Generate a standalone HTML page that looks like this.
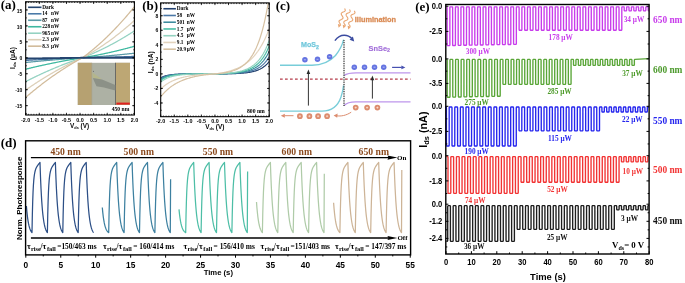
<!DOCTYPE html>
<html><head><meta charset="utf-8"><style>
html,body{margin:0;padding:0;background:#fff;}
svg{display:block;filter:blur(0.3px);}
</style></head><body>
<svg width="685" height="283" viewBox="0 0 685 283">
<defs>
<clipPath id="clipa"><rect x="25.7" y="1.8" width="108.7" height="113.2"/></clipPath>
<clipPath id="clipb"><rect x="160.7" y="2.9" width="108.5" height="113.8"/></clipPath>
</defs>
<rect width="685" height="283" fill="#fff"/>
<rect x="77.80" y="62.80" width="52.20" height="42.20" fill="#adb1a4" />
<rect x="77.80" y="62.80" width="13.90" height="42.20" fill="#b6a171" />
<rect x="115.40" y="62.80" width="14.60" height="42.20" fill="#bda774" />
<line x1="115.50" y1="62.80" x2="115.50" y2="105.00" stroke="#6a6a66" stroke-width="1.0"/>
<line x1="91.70" y1="62.80" x2="91.70" y2="105.00" stroke="#a89d80" stroke-width="0.6"/>
<polygon points="92.1,72.3 102,79.3 93,78.2" fill="#b4b68c"/>
<polygon points="93,78 102,79.4 115.3,85 115.3,90.5 104,87.6 96.5,86.2 93.6,80" fill="#8c9187"/>
<circle cx="93.5" cy="71.2" r="0.55" fill="#666"/>
<rect x="116.40" y="102.60" width="13.40" height="2.00" fill="#e02020" />
<text x="129.3" y="111.4" style="font-family:'Liberation Serif',serif;font-weight:bold;font-size:5.6px" text-anchor="end">450 nm</text>
<polyline points="25.70,60.42 26.38,60.38 27.06,60.34 27.74,60.30 28.42,60.26 29.10,60.22 29.78,60.19 30.46,60.15 31.13,60.11 31.81,60.08 32.49,60.04 33.17,60.00 33.85,59.97 34.53,59.93 35.21,59.89 35.89,59.86 36.57,59.82 37.25,59.78 37.93,59.75 38.61,59.71 39.29,59.68 39.97,59.64 40.65,59.61 41.33,59.57 42.01,59.54 42.68,59.50 43.36,59.47 44.04,59.44 44.72,59.40 45.40,59.37 46.08,59.34 46.76,59.30 47.44,59.27 48.12,59.24 48.80,59.20 49.48,59.17 50.16,59.14 50.84,59.11 51.52,59.07 52.20,59.04 52.88,59.01 53.55,58.98 54.23,58.95 54.91,58.92 55.59,58.89 56.27,58.85 56.95,58.82 57.63,58.79 58.31,58.76 58.99,58.73 59.67,58.70 60.35,58.67 61.03,58.64 61.71,58.61 62.39,58.58 63.07,58.56 63.75,58.53 64.42,58.50 65.10,58.47 65.78,58.44 66.46,58.41 67.14,58.38 67.82,58.36 68.50,58.33 69.18,58.30 69.86,58.27 70.54,58.25 71.22,58.22 71.90,58.19 72.58,58.17 73.26,58.14 73.94,58.11 74.61,58.09 75.29,58.06 75.97,58.03 76.65,58.01 77.33,57.98 78.01,57.96 78.69,57.93 79.37,57.91 80.05,57.88 80.73,57.86 81.41,57.83 82.09,57.81 82.77,57.79 83.45,57.78 84.13,57.76 84.81,57.75 85.48,57.74 86.16,57.72 86.84,57.71 87.52,57.69 88.20,57.68 88.88,57.66 89.56,57.65 90.24,57.63 90.92,57.62 91.60,57.60 92.28,57.59 92.96,57.57 93.64,57.56 94.32,57.54 95.00,57.53 95.68,57.51 96.36,57.49 97.03,57.48 97.71,57.46 98.39,57.45 99.07,57.43 99.75,57.41 100.43,57.40 101.11,57.38 101.79,57.36 102.47,57.34 103.15,57.33 103.83,57.31 104.51,57.29 105.19,57.27 105.87,57.26 106.55,57.24 107.23,57.22 107.90,57.20 108.58,57.18 109.26,57.17 109.94,57.15 110.62,57.13 111.30,57.11 111.98,57.09 112.66,57.07 113.34,57.05 114.02,57.03 114.70,57.01 115.38,56.99 116.06,56.97 116.74,56.95 117.42,56.93 118.10,56.91 118.77,56.89 119.45,56.87 120.13,56.85 120.81,56.83 121.49,56.81 122.17,56.79 122.85,56.77 123.53,56.75 124.21,56.73 124.89,56.71 125.57,56.69 126.25,56.66 126.93,56.64 127.61,56.62 128.29,56.60 128.97,56.58 129.64,56.55 130.32,56.53 131.00,56.51 131.68,56.49 132.36,56.47 133.04,56.44 133.72,56.42 134.40,56.40" fill="none" stroke="#4a7aa8" stroke-width="1.25" stroke-linejoin="round" clip-path="url(#clipa)"/>
<polyline points="25.70,62.49 26.38,62.42 27.06,62.35 27.74,62.28 28.42,62.21 29.10,62.15 29.78,62.08 30.46,62.01 31.13,61.95 31.81,61.88 32.49,61.81 33.17,61.75 33.85,61.68 34.53,61.62 35.21,61.55 35.89,61.49 36.57,61.42 37.25,61.36 37.93,61.29 38.61,61.23 39.29,61.17 39.97,61.10 40.65,61.04 41.33,60.98 42.01,60.92 42.68,60.86 43.36,60.80 44.04,60.73 44.72,60.67 45.40,60.61 46.08,60.55 46.76,60.49 47.44,60.43 48.12,60.38 48.80,60.32 49.48,60.26 50.16,60.20 50.84,60.14 51.52,60.08 52.20,60.03 52.88,59.97 53.55,59.91 54.23,59.86 54.91,59.80 55.59,59.75 56.27,59.69 56.95,59.64 57.63,59.58 58.31,59.53 58.99,59.47 59.67,59.42 60.35,59.36 61.03,59.31 61.71,59.26 62.39,59.21 63.07,59.15 63.75,59.10 64.42,59.05 65.10,59.00 65.78,58.95 66.46,58.90 67.14,58.85 67.82,58.80 68.50,58.75 69.18,58.70 69.86,58.65 70.54,58.60 71.22,58.55 71.90,58.50 72.58,58.46 73.26,58.41 73.94,58.36 74.61,58.31 75.29,58.27 75.97,58.22 76.65,58.17 77.33,58.13 78.01,58.08 78.69,58.04 79.37,57.99 80.05,57.95 80.73,57.90 81.41,57.86 82.09,57.82 82.77,57.77 83.45,57.73 84.13,57.68 84.81,57.64 85.48,57.59 86.16,57.54 86.84,57.50 87.52,57.45 88.20,57.40 88.88,57.35 89.56,57.31 90.24,57.26 90.92,57.21 91.60,57.16 92.28,57.11 92.96,57.06 93.64,57.01 94.32,56.96 95.00,56.90 95.68,56.85 96.36,56.80 97.03,56.75 97.71,56.69 98.39,56.64 99.07,56.58 99.75,56.53 100.43,56.47 101.11,56.42 101.79,56.36 102.47,56.31 103.15,56.25 103.83,56.19 104.51,56.14 105.19,56.08 105.87,56.02 106.55,55.96 107.23,55.90 107.90,55.84 108.58,55.78 109.26,55.72 109.94,55.66 110.62,55.60 111.30,55.54 111.98,55.48 112.66,55.42 113.34,55.35 114.02,55.29 114.70,55.23 115.38,55.16 116.06,55.10 116.74,55.03 117.42,54.97 118.10,54.90 118.77,54.84 119.45,54.77 120.13,54.70 120.81,54.64 121.49,54.57 122.17,54.50 122.85,54.43 123.53,54.36 124.21,54.29 124.89,54.22 125.57,54.15 126.25,54.08 126.93,54.01 127.61,53.94 128.29,53.87 128.97,53.80 129.64,53.73 130.32,53.65 131.00,53.58 131.68,53.51 132.36,53.43 133.04,53.36 133.72,53.28 134.40,53.21" fill="none" stroke="#5a9aa8" stroke-width="1.25" stroke-linejoin="round" clip-path="url(#clipa)"/>
<polyline points="25.70,69.19 26.38,69.02 27.06,68.85 27.74,68.69 28.42,68.52 29.10,68.36 29.78,68.19 30.46,68.03 31.13,67.87 31.81,67.71 32.49,67.55 33.17,67.39 33.85,67.23 34.53,67.07 35.21,66.91 35.89,66.75 36.57,66.60 37.25,66.44 37.93,66.29 38.61,66.13 39.29,65.98 39.97,65.83 40.65,65.67 41.33,65.52 42.01,65.37 42.68,65.22 43.36,65.07 44.04,64.93 44.72,64.78 45.40,64.63 46.08,64.49 46.76,64.34 47.44,64.20 48.12,64.05 48.80,63.91 49.48,63.77 50.16,63.63 50.84,63.49 51.52,63.35 52.20,63.21 52.88,63.07 53.55,62.93 54.23,62.80 54.91,62.66 55.59,62.53 56.27,62.39 56.95,62.26 57.63,62.12 58.31,61.99 58.99,61.86 59.67,61.73 60.35,61.60 61.03,61.47 61.71,61.34 62.39,61.21 63.07,61.09 63.75,60.96 64.42,60.84 65.10,60.71 65.78,60.59 66.46,60.46 67.14,60.34 67.82,60.22 68.50,60.10 69.18,59.98 69.86,59.86 70.54,59.74 71.22,59.62 71.90,59.51 72.58,59.39 73.26,59.28 73.94,59.16 74.61,59.05 75.29,58.93 75.97,58.82 76.65,58.71 77.33,58.60 78.01,58.49 78.69,58.38 79.37,58.27 80.05,58.16 80.73,58.05 81.41,57.95 82.09,57.84 82.77,57.73 83.45,57.62 84.13,57.51 84.81,57.39 85.48,57.28 86.16,57.16 86.84,57.04 87.52,56.92 88.20,56.80 88.88,56.68 89.56,56.56 90.24,56.44 90.92,56.32 91.60,56.19 92.28,56.07 92.96,55.94 93.64,55.81 94.32,55.68 95.00,55.55 95.68,55.42 96.36,55.29 97.03,55.16 97.71,55.02 98.39,54.89 99.07,54.75 99.75,54.62 100.43,54.48 101.11,54.34 101.79,54.20 102.47,54.06 103.15,53.92 103.83,53.77 104.51,53.63 105.19,53.48 105.87,53.34 106.55,53.19 107.23,53.04 107.90,52.89 108.58,52.74 109.26,52.59 109.94,52.44 110.62,52.29 111.30,52.13 111.98,51.98 112.66,51.82 113.34,51.66 114.02,51.51 114.70,51.35 115.38,51.19 116.06,51.02 116.74,50.86 117.42,50.70 118.10,50.53 118.77,50.37 119.45,50.20 120.13,50.04 120.81,49.87 121.49,49.70 122.17,49.53 122.85,49.36 123.53,49.18 124.21,49.01 124.89,48.83 125.57,48.66 126.25,48.48 126.93,48.30 127.61,48.13 128.29,47.95 128.97,47.77 129.64,47.58 130.32,47.40 131.00,47.22 131.68,47.03 132.36,46.85 133.04,46.66 133.72,46.47 134.40,46.28" fill="none" stroke="#3db8a0" stroke-width="1.25" stroke-linejoin="round" clip-path="url(#clipa)"/>
<polyline points="25.70,81.60 26.38,81.25 27.06,80.90 27.74,80.55 28.42,80.21 29.10,79.86 29.78,79.52 30.46,79.18 31.13,78.84 31.81,78.50 32.49,78.16 33.17,77.83 33.85,77.50 34.53,77.17 35.21,76.84 35.89,76.51 36.57,76.18 37.25,75.86 37.93,75.53 38.61,75.21 39.29,74.89 39.97,74.57 40.65,74.25 41.33,73.94 42.01,73.62 42.68,73.31 43.36,73.00 44.04,72.69 44.72,72.38 45.40,72.08 46.08,71.77 46.76,71.47 47.44,71.17 48.12,70.87 48.80,70.57 49.48,70.27 50.16,69.98 50.84,69.68 51.52,69.39 52.20,69.10 52.88,68.81 53.55,68.53 54.23,68.24 54.91,67.96 55.59,67.67 56.27,67.39 56.95,67.11 57.63,66.84 58.31,66.56 58.99,66.28 59.67,66.01 60.35,65.74 61.03,65.47 61.71,65.20 62.39,64.94 63.07,64.67 63.75,64.41 64.42,64.14 65.10,63.88 65.78,63.63 66.46,63.37 67.14,63.11 67.82,62.86 68.50,62.61 69.18,62.36 69.86,62.11 70.54,61.86 71.22,61.61 71.90,61.37 72.58,61.12 73.26,60.88 73.94,60.64 74.61,60.40 75.29,60.17 75.97,59.93 76.65,59.70 77.33,59.47 78.01,59.24 78.69,59.01 79.37,58.78 80.05,58.56 80.73,58.33 81.41,58.11 82.09,57.89 82.77,57.64 83.45,57.38 84.13,57.12 84.81,56.85 85.48,56.58 86.16,56.31 86.84,56.03 87.52,55.75 88.20,55.48 88.88,55.19 89.56,54.91 90.24,54.62 90.92,54.33 91.60,54.04 92.28,53.75 92.96,53.45 93.64,53.16 94.32,52.86 95.00,52.55 95.68,52.25 96.36,51.94 97.03,51.63 97.71,51.32 98.39,51.00 99.07,50.68 99.75,50.36 100.43,50.04 101.11,49.72 101.79,49.39 102.47,49.06 103.15,48.73 103.83,48.40 104.51,48.06 105.19,47.72 105.87,47.38 106.55,47.04 107.23,46.69 107.90,46.34 108.58,45.99 109.26,45.64 109.94,45.28 110.62,44.93 111.30,44.57 111.98,44.20 112.66,43.84 113.34,43.47 114.02,43.10 114.70,42.73 115.38,42.36 116.06,41.98 116.74,41.60 117.42,41.22 118.10,40.83 118.77,40.45 119.45,40.06 120.13,39.67 120.81,39.27 121.49,38.88 122.17,38.48 122.85,38.08 123.53,37.68 124.21,37.27 124.89,36.86 125.57,36.45 126.25,36.04 126.93,35.63 127.61,35.21 128.29,34.79 128.97,34.37 129.64,33.94 130.32,33.52 131.00,33.09 131.68,32.66 132.36,32.22 133.04,31.79 133.72,31.35 134.40,30.91" fill="none" stroke="#94d2c2" stroke-width="1.25" stroke-linejoin="round" clip-path="url(#clipa)"/>
<polyline points="25.70,90.02 26.38,89.54 27.06,89.07 27.74,88.60 28.42,88.13 29.10,87.67 29.78,87.20 30.46,86.74 31.13,86.28 31.81,85.83 32.49,85.37 33.17,84.92 33.85,84.47 34.53,84.02 35.21,83.57 35.89,83.13 36.57,82.69 37.25,82.24 37.93,81.81 38.61,81.37 39.29,80.94 39.97,80.51 40.65,80.08 41.33,79.65 42.01,79.22 42.68,78.80 43.36,78.38 44.04,77.96 44.72,77.54 45.40,77.13 46.08,76.72 46.76,76.31 47.44,75.90 48.12,75.49 48.80,75.09 49.48,74.69 50.16,74.29 50.84,73.89 51.52,73.49 52.20,73.10 52.88,72.71 53.55,72.32 54.23,71.93 54.91,71.55 55.59,71.17 56.27,70.79 56.95,70.41 57.63,70.03 58.31,69.66 58.99,69.29 59.67,68.92 60.35,68.55 61.03,68.19 61.71,67.82 62.39,67.46 63.07,67.10 63.75,66.74 64.42,66.39 65.10,66.04 65.78,65.69 66.46,65.34 67.14,64.99 67.82,64.65 68.50,64.31 69.18,63.97 69.86,63.63 70.54,63.29 71.22,62.96 71.90,62.63 72.58,62.30 73.26,61.97 73.94,61.65 74.61,61.33 75.29,61.01 75.97,60.69 76.65,60.37 77.33,60.06 78.01,59.75 78.69,59.44 79.37,59.13 80.05,58.82 80.73,58.52 81.41,58.22 82.09,57.92 82.77,57.58 83.45,57.22 84.13,56.85 84.81,56.48 85.48,56.10 86.16,55.73 86.84,55.35 87.52,54.96 88.20,54.57 88.88,54.18 89.56,53.79 90.24,53.39 90.92,52.99 91.60,52.59 92.28,52.18 92.96,51.77 93.64,51.35 94.32,50.94 95.00,50.52 95.68,50.09 96.36,49.67 97.03,49.23 97.71,48.80 98.39,48.36 99.07,47.92 99.75,47.48 100.43,47.03 101.11,46.58 101.79,46.13 102.47,45.67 103.15,45.21 103.83,44.75 104.51,44.28 105.19,43.81 105.87,43.34 106.55,42.86 107.23,42.38 107.90,41.90 108.58,41.41 109.26,40.92 109.94,40.43 110.62,39.93 111.30,39.43 111.98,38.93 112.66,38.42 113.34,37.91 114.02,37.40 114.70,36.88 115.38,36.36 116.06,35.84 116.74,35.31 117.42,34.79 118.10,34.25 118.77,33.72 119.45,33.18 120.13,32.63 120.81,32.09 121.49,31.54 122.17,30.99 122.85,30.43 123.53,29.87 124.21,29.31 124.89,28.74 125.57,28.17 126.25,27.60 126.93,27.03 127.61,26.45 128.29,25.87 128.97,25.28 129.64,24.69 130.32,24.10 131.00,23.50 131.68,22.90 132.36,22.30 133.04,21.70 133.72,21.09 134.40,20.48" fill="none" stroke="#dccfb8" stroke-width="1.25" stroke-linejoin="round" clip-path="url(#clipa)"/>
<polyline points="25.70,97.36 26.38,96.77 27.06,96.19 27.74,95.62 28.42,95.04 29.10,94.47 29.78,93.90 30.46,93.33 31.13,92.77 31.81,92.21 32.49,91.65 33.17,91.09 33.85,90.54 34.53,89.99 35.21,89.44 35.89,88.90 36.57,88.35 37.25,87.81 37.93,87.27 38.61,86.74 39.29,86.21 39.97,85.68 40.65,85.15 41.33,84.62 42.01,84.10 42.68,83.58 43.36,83.07 44.04,82.55 44.72,82.04 45.40,81.53 46.08,81.02 46.76,80.52 47.44,80.02 48.12,79.52 48.80,79.03 49.48,78.53 50.16,78.04 50.84,77.55 51.52,77.07 52.20,76.59 52.88,76.11 53.55,75.63 54.23,75.15 54.91,74.68 55.59,74.21 56.27,73.75 56.95,73.28 57.63,72.82 58.31,72.36 58.99,71.90 59.67,71.45 60.35,71.00 61.03,70.55 61.71,70.10 62.39,69.66 63.07,69.22 63.75,68.78 64.42,68.35 65.10,67.91 65.78,67.48 66.46,67.06 67.14,66.63 67.82,66.21 68.50,65.79 69.18,65.37 69.86,64.96 70.54,64.55 71.22,64.14 71.90,63.73 72.58,63.33 73.26,62.92 73.94,62.53 74.61,62.13 75.29,61.74 75.97,61.35 76.65,60.96 77.33,60.57 78.01,60.19 78.69,59.81 79.37,59.43 80.05,59.06 80.73,58.68 81.41,58.31 82.09,57.95 82.77,57.50 83.45,57.00 84.13,56.50 84.81,55.99 85.48,55.48 86.16,54.97 86.84,54.44 87.52,53.92 88.20,53.39 88.88,52.85 89.56,52.31 90.24,51.77 90.92,51.22 91.60,50.67 92.28,50.11 92.96,49.55 93.64,48.99 94.32,48.41 95.00,47.84 95.68,47.26 96.36,46.68 97.03,46.09 97.71,45.49 98.39,44.90 99.07,44.29 99.75,43.69 100.43,43.08 101.11,42.46 101.79,41.84 102.47,41.21 103.15,40.59 103.83,39.95 104.51,39.31 105.19,38.67 105.87,38.02 106.55,37.37 107.23,36.71 107.90,36.05 108.58,35.39 109.26,34.72 109.94,34.04 110.62,33.36 111.30,32.68 111.98,31.99 112.66,31.30 113.34,30.60 114.02,29.90 114.70,29.20 115.38,28.49 116.06,27.77 116.74,27.05 117.42,26.33 118.10,25.60 118.77,24.87 119.45,24.13 120.13,23.39 120.81,22.64 121.49,21.89 122.17,21.13 122.85,20.37 123.53,19.61 124.21,18.84 124.89,18.06 125.57,17.29 126.25,16.50 126.93,15.72 127.61,14.93 128.29,14.13 128.97,13.33 129.64,12.52 130.32,11.71 131.00,10.90 131.68,10.08 132.36,9.26 133.04,8.43 133.72,7.60 134.40,6.76" fill="none" stroke="#d2bc9c" stroke-width="1.25" stroke-linejoin="round" clip-path="url(#clipa)"/>
<polyline points="25.70,58.60 26.38,58.59 27.06,58.57 27.74,58.56 28.42,58.55 29.10,58.54 29.78,58.53 30.46,58.52 31.13,58.51 31.81,58.49 32.49,58.48 33.17,58.47 33.85,58.46 34.53,58.45 35.21,58.44 35.89,58.43 36.57,58.42 37.25,58.41 37.93,58.39 38.61,58.38 39.29,58.37 39.97,58.36 40.65,58.35 41.33,58.34 42.01,58.33 42.68,58.32 43.36,58.31 44.04,58.30 44.72,58.29 45.40,58.28 46.08,58.27 46.76,58.26 47.44,58.25 48.12,58.24 48.80,58.23 49.48,58.22 50.16,58.21 50.84,58.20 51.52,58.19 52.20,58.18 52.88,58.17 53.55,58.16 54.23,58.15 54.91,58.14 55.59,58.13 56.27,58.12 56.95,58.11 57.63,58.10 58.31,58.09 58.99,58.08 59.67,58.08 60.35,58.07 61.03,58.06 61.71,58.05 62.39,58.04 63.07,58.03 63.75,58.02 64.42,58.01 65.10,58.00 65.78,58.00 66.46,57.99 67.14,57.98 67.82,57.97 68.50,57.96 69.18,57.95 69.86,57.94 70.54,57.94 71.22,57.93 71.90,57.92 72.58,57.91 73.26,57.90 73.94,57.90 74.61,57.89 75.29,57.88 75.97,57.87 76.65,57.86 77.33,57.86 78.01,57.85 78.69,57.84 79.37,57.83 80.05,57.83 80.73,57.82 81.41,57.81 82.09,57.80 82.77,57.80 83.45,57.80 84.13,57.80 84.81,57.80 85.48,57.80 86.16,57.80 86.84,57.80 87.52,57.80 88.20,57.80 88.88,57.80 89.56,57.80 90.24,57.80 90.92,57.80 91.60,57.80 92.28,57.80 92.96,57.80 93.64,57.80 94.32,57.80 95.00,57.80 95.68,57.80 96.36,57.80 97.03,57.80 97.71,57.80 98.39,57.80 99.07,57.80 99.75,57.80 100.43,57.80 101.11,57.80 101.79,57.80 102.47,57.80 103.15,57.80 103.83,57.80 104.51,57.80 105.19,57.80 105.87,57.80 106.55,57.80 107.23,57.80 107.90,57.80 108.58,57.80 109.26,57.80 109.94,57.80 110.62,57.80 111.30,57.80 111.98,57.80 112.66,57.80 113.34,57.80 114.02,57.80 114.70,57.80 115.38,57.80 116.06,57.80 116.74,57.80 117.42,57.80 118.10,57.80 118.77,57.80 119.45,57.80 120.13,57.80 120.81,57.80 121.49,57.80 122.17,57.80 122.85,57.80 123.53,57.80 124.21,57.80 124.89,57.80 125.57,57.80 126.25,57.80 126.93,57.80 127.61,57.80 128.29,57.80 128.97,57.80 129.64,57.80 130.32,57.80 131.00,57.80 131.68,57.80 132.36,57.80 133.04,57.80 133.72,57.80 134.40,57.80" fill="none" stroke="#24446f" stroke-width="1.9" stroke-linejoin="round" clip-path="url(#clipa)"/>
<line x1="28.10" y1="7.30" x2="41.50" y2="7.30" stroke="#24446f" stroke-width="1.6"/>
<text x="42.20" y="8.90" style="font-family:'Liberation Serif',serif;font-weight:bold;font-size:5.3px" text-anchor="start" fill="#000" >Dark</text>
<line x1="28.10" y1="13.78" x2="41.50" y2="13.78" stroke="#4a7aa8" stroke-width="1.6"/>
<text x="42.20" y="15.38" style="font-family:'Liberation Serif',serif;font-weight:bold;font-size:5.3px" text-anchor="start" fill="#000" >14</text>
<text x="51.00" y="15.38" style="font-family:'Liberation Serif',serif;font-weight:bold;font-size:5.3px" text-anchor="start" fill="#000" >nW</text>
<line x1="28.10" y1="20.26" x2="41.50" y2="20.26" stroke="#5a9aa8" stroke-width="1.6"/>
<text x="42.20" y="21.86" style="font-family:'Liberation Serif',serif;font-weight:bold;font-size:5.3px" text-anchor="start" fill="#000" >87</text>
<text x="51.00" y="21.86" style="font-family:'Liberation Serif',serif;font-weight:bold;font-size:5.3px" text-anchor="start" fill="#000" >nW</text>
<line x1="28.10" y1="26.74" x2="41.50" y2="26.74" stroke="#3db8a0" stroke-width="1.6"/>
<text x="42.20" y="28.34" style="font-family:'Liberation Serif',serif;font-weight:bold;font-size:5.3px" text-anchor="start" fill="#000" >228</text>
<text x="51.00" y="28.34" style="font-family:'Liberation Serif',serif;font-weight:bold;font-size:5.3px" text-anchor="start" fill="#000" >nW</text>
<line x1="28.10" y1="33.22" x2="41.50" y2="33.22" stroke="#94d2c2" stroke-width="1.6"/>
<text x="42.20" y="34.82" style="font-family:'Liberation Serif',serif;font-weight:bold;font-size:5.3px" text-anchor="start" fill="#000" >965</text>
<text x="51.00" y="34.82" style="font-family:'Liberation Serif',serif;font-weight:bold;font-size:5.3px" text-anchor="start" fill="#000" >nW</text>
<line x1="28.10" y1="39.70" x2="41.50" y2="39.70" stroke="#dccfb8" stroke-width="1.6"/>
<text x="42.20" y="41.30" style="font-family:'Liberation Serif',serif;font-weight:bold;font-size:5.3px" text-anchor="start" fill="#000" >2.3</text>
<text x="51.00" y="41.30" style="font-family:'Liberation Serif',serif;font-weight:bold;font-size:5.3px" text-anchor="start" fill="#000" >&#956;W</text>
<line x1="28.10" y1="46.18" x2="41.50" y2="46.18" stroke="#d2bc9c" stroke-width="1.6"/>
<text x="42.20" y="47.78" style="font-family:'Liberation Serif',serif;font-weight:bold;font-size:5.3px" text-anchor="start" fill="#000" >8.3</text>
<text x="51.00" y="47.78" style="font-family:'Liberation Serif',serif;font-weight:bold;font-size:5.3px" text-anchor="start" fill="#000" >&#956;W</text>
<rect x="25.70" y="1.80" width="108.70" height="113.20" fill="none" stroke="#000" stroke-width="1.1"/>
<line x1="25.70" y1="115.00" x2="25.70" y2="112.80" stroke="#000" stroke-width="0.8"/>
<line x1="25.70" y1="1.80" x2="25.70" y2="4.00" stroke="#000" stroke-width="0.8"/>
<line x1="39.29" y1="115.00" x2="39.29" y2="112.80" stroke="#000" stroke-width="0.8"/>
<line x1="39.29" y1="1.80" x2="39.29" y2="4.00" stroke="#000" stroke-width="0.8"/>
<line x1="52.88" y1="115.00" x2="52.88" y2="112.80" stroke="#000" stroke-width="0.8"/>
<line x1="52.88" y1="1.80" x2="52.88" y2="4.00" stroke="#000" stroke-width="0.8"/>
<line x1="66.46" y1="115.00" x2="66.46" y2="112.80" stroke="#000" stroke-width="0.8"/>
<line x1="66.46" y1="1.80" x2="66.46" y2="4.00" stroke="#000" stroke-width="0.8"/>
<line x1="80.05" y1="115.00" x2="80.05" y2="112.80" stroke="#000" stroke-width="0.8"/>
<line x1="80.05" y1="1.80" x2="80.05" y2="4.00" stroke="#000" stroke-width="0.8"/>
<line x1="93.64" y1="115.00" x2="93.64" y2="112.80" stroke="#000" stroke-width="0.8"/>
<line x1="93.64" y1="1.80" x2="93.64" y2="4.00" stroke="#000" stroke-width="0.8"/>
<line x1="107.23" y1="115.00" x2="107.23" y2="112.80" stroke="#000" stroke-width="0.8"/>
<line x1="107.23" y1="1.80" x2="107.23" y2="4.00" stroke="#000" stroke-width="0.8"/>
<line x1="120.81" y1="115.00" x2="120.81" y2="112.80" stroke="#000" stroke-width="0.8"/>
<line x1="120.81" y1="1.80" x2="120.81" y2="4.00" stroke="#000" stroke-width="0.8"/>
<line x1="134.40" y1="115.00" x2="134.40" y2="112.80" stroke="#000" stroke-width="0.8"/>
<line x1="134.40" y1="1.80" x2="134.40" y2="4.00" stroke="#000" stroke-width="0.8"/>
<line x1="25.70" y1="115.00" x2="25.70" y2="113.80" stroke="#000" stroke-width="0.7"/>
<line x1="25.70" y1="1.80" x2="25.70" y2="3.00" stroke="#000" stroke-width="0.7"/>
<line x1="28.42" y1="115.00" x2="28.42" y2="113.80" stroke="#000" stroke-width="0.7"/>
<line x1="28.42" y1="1.80" x2="28.42" y2="3.00" stroke="#000" stroke-width="0.7"/>
<line x1="31.14" y1="115.00" x2="31.14" y2="113.80" stroke="#000" stroke-width="0.7"/>
<line x1="31.14" y1="1.80" x2="31.14" y2="3.00" stroke="#000" stroke-width="0.7"/>
<line x1="33.85" y1="115.00" x2="33.85" y2="113.80" stroke="#000" stroke-width="0.7"/>
<line x1="33.85" y1="1.80" x2="33.85" y2="3.00" stroke="#000" stroke-width="0.7"/>
<line x1="36.57" y1="115.00" x2="36.57" y2="113.80" stroke="#000" stroke-width="0.7"/>
<line x1="36.57" y1="1.80" x2="36.57" y2="3.00" stroke="#000" stroke-width="0.7"/>
<line x1="39.29" y1="115.00" x2="39.29" y2="113.80" stroke="#000" stroke-width="0.7"/>
<line x1="39.29" y1="1.80" x2="39.29" y2="3.00" stroke="#000" stroke-width="0.7"/>
<line x1="42.01" y1="115.00" x2="42.01" y2="113.80" stroke="#000" stroke-width="0.7"/>
<line x1="42.01" y1="1.80" x2="42.01" y2="3.00" stroke="#000" stroke-width="0.7"/>
<line x1="44.72" y1="115.00" x2="44.72" y2="113.80" stroke="#000" stroke-width="0.7"/>
<line x1="44.72" y1="1.80" x2="44.72" y2="3.00" stroke="#000" stroke-width="0.7"/>
<line x1="47.44" y1="115.00" x2="47.44" y2="113.80" stroke="#000" stroke-width="0.7"/>
<line x1="47.44" y1="1.80" x2="47.44" y2="3.00" stroke="#000" stroke-width="0.7"/>
<line x1="50.16" y1="115.00" x2="50.16" y2="113.80" stroke="#000" stroke-width="0.7"/>
<line x1="50.16" y1="1.80" x2="50.16" y2="3.00" stroke="#000" stroke-width="0.7"/>
<line x1="52.88" y1="115.00" x2="52.88" y2="113.80" stroke="#000" stroke-width="0.7"/>
<line x1="52.88" y1="1.80" x2="52.88" y2="3.00" stroke="#000" stroke-width="0.7"/>
<line x1="55.59" y1="115.00" x2="55.59" y2="113.80" stroke="#000" stroke-width="0.7"/>
<line x1="55.59" y1="1.80" x2="55.59" y2="3.00" stroke="#000" stroke-width="0.7"/>
<line x1="58.31" y1="115.00" x2="58.31" y2="113.80" stroke="#000" stroke-width="0.7"/>
<line x1="58.31" y1="1.80" x2="58.31" y2="3.00" stroke="#000" stroke-width="0.7"/>
<line x1="61.03" y1="115.00" x2="61.03" y2="113.80" stroke="#000" stroke-width="0.7"/>
<line x1="61.03" y1="1.80" x2="61.03" y2="3.00" stroke="#000" stroke-width="0.7"/>
<line x1="63.75" y1="115.00" x2="63.75" y2="113.80" stroke="#000" stroke-width="0.7"/>
<line x1="63.75" y1="1.80" x2="63.75" y2="3.00" stroke="#000" stroke-width="0.7"/>
<line x1="66.46" y1="115.00" x2="66.46" y2="113.80" stroke="#000" stroke-width="0.7"/>
<line x1="66.46" y1="1.80" x2="66.46" y2="3.00" stroke="#000" stroke-width="0.7"/>
<line x1="69.18" y1="115.00" x2="69.18" y2="113.80" stroke="#000" stroke-width="0.7"/>
<line x1="69.18" y1="1.80" x2="69.18" y2="3.00" stroke="#000" stroke-width="0.7"/>
<line x1="71.90" y1="115.00" x2="71.90" y2="113.80" stroke="#000" stroke-width="0.7"/>
<line x1="71.90" y1="1.80" x2="71.90" y2="3.00" stroke="#000" stroke-width="0.7"/>
<line x1="74.62" y1="115.00" x2="74.62" y2="113.80" stroke="#000" stroke-width="0.7"/>
<line x1="74.62" y1="1.80" x2="74.62" y2="3.00" stroke="#000" stroke-width="0.7"/>
<line x1="77.33" y1="115.00" x2="77.33" y2="113.80" stroke="#000" stroke-width="0.7"/>
<line x1="77.33" y1="1.80" x2="77.33" y2="3.00" stroke="#000" stroke-width="0.7"/>
<line x1="80.05" y1="115.00" x2="80.05" y2="113.80" stroke="#000" stroke-width="0.7"/>
<line x1="80.05" y1="1.80" x2="80.05" y2="3.00" stroke="#000" stroke-width="0.7"/>
<line x1="82.77" y1="115.00" x2="82.77" y2="113.80" stroke="#000" stroke-width="0.7"/>
<line x1="82.77" y1="1.80" x2="82.77" y2="3.00" stroke="#000" stroke-width="0.7"/>
<line x1="85.49" y1="115.00" x2="85.49" y2="113.80" stroke="#000" stroke-width="0.7"/>
<line x1="85.49" y1="1.80" x2="85.49" y2="3.00" stroke="#000" stroke-width="0.7"/>
<line x1="88.20" y1="115.00" x2="88.20" y2="113.80" stroke="#000" stroke-width="0.7"/>
<line x1="88.20" y1="1.80" x2="88.20" y2="3.00" stroke="#000" stroke-width="0.7"/>
<line x1="90.92" y1="115.00" x2="90.92" y2="113.80" stroke="#000" stroke-width="0.7"/>
<line x1="90.92" y1="1.80" x2="90.92" y2="3.00" stroke="#000" stroke-width="0.7"/>
<line x1="93.64" y1="115.00" x2="93.64" y2="113.80" stroke="#000" stroke-width="0.7"/>
<line x1="93.64" y1="1.80" x2="93.64" y2="3.00" stroke="#000" stroke-width="0.7"/>
<line x1="96.36" y1="115.00" x2="96.36" y2="113.80" stroke="#000" stroke-width="0.7"/>
<line x1="96.36" y1="1.80" x2="96.36" y2="3.00" stroke="#000" stroke-width="0.7"/>
<line x1="99.07" y1="115.00" x2="99.07" y2="113.80" stroke="#000" stroke-width="0.7"/>
<line x1="99.07" y1="1.80" x2="99.07" y2="3.00" stroke="#000" stroke-width="0.7"/>
<line x1="101.79" y1="115.00" x2="101.79" y2="113.80" stroke="#000" stroke-width="0.7"/>
<line x1="101.79" y1="1.80" x2="101.79" y2="3.00" stroke="#000" stroke-width="0.7"/>
<line x1="104.51" y1="115.00" x2="104.51" y2="113.80" stroke="#000" stroke-width="0.7"/>
<line x1="104.51" y1="1.80" x2="104.51" y2="3.00" stroke="#000" stroke-width="0.7"/>
<line x1="107.23" y1="115.00" x2="107.23" y2="113.80" stroke="#000" stroke-width="0.7"/>
<line x1="107.23" y1="1.80" x2="107.23" y2="3.00" stroke="#000" stroke-width="0.7"/>
<line x1="109.94" y1="115.00" x2="109.94" y2="113.80" stroke="#000" stroke-width="0.7"/>
<line x1="109.94" y1="1.80" x2="109.94" y2="3.00" stroke="#000" stroke-width="0.7"/>
<line x1="112.66" y1="115.00" x2="112.66" y2="113.80" stroke="#000" stroke-width="0.7"/>
<line x1="112.66" y1="1.80" x2="112.66" y2="3.00" stroke="#000" stroke-width="0.7"/>
<line x1="115.38" y1="115.00" x2="115.38" y2="113.80" stroke="#000" stroke-width="0.7"/>
<line x1="115.38" y1="1.80" x2="115.38" y2="3.00" stroke="#000" stroke-width="0.7"/>
<line x1="118.10" y1="115.00" x2="118.10" y2="113.80" stroke="#000" stroke-width="0.7"/>
<line x1="118.10" y1="1.80" x2="118.10" y2="3.00" stroke="#000" stroke-width="0.7"/>
<line x1="120.81" y1="115.00" x2="120.81" y2="113.80" stroke="#000" stroke-width="0.7"/>
<line x1="120.81" y1="1.80" x2="120.81" y2="3.00" stroke="#000" stroke-width="0.7"/>
<line x1="123.53" y1="115.00" x2="123.53" y2="113.80" stroke="#000" stroke-width="0.7"/>
<line x1="123.53" y1="1.80" x2="123.53" y2="3.00" stroke="#000" stroke-width="0.7"/>
<line x1="126.25" y1="115.00" x2="126.25" y2="113.80" stroke="#000" stroke-width="0.7"/>
<line x1="126.25" y1="1.80" x2="126.25" y2="3.00" stroke="#000" stroke-width="0.7"/>
<line x1="128.97" y1="115.00" x2="128.97" y2="113.80" stroke="#000" stroke-width="0.7"/>
<line x1="128.97" y1="1.80" x2="128.97" y2="3.00" stroke="#000" stroke-width="0.7"/>
<line x1="131.68" y1="115.00" x2="131.68" y2="113.80" stroke="#000" stroke-width="0.7"/>
<line x1="131.68" y1="1.80" x2="131.68" y2="3.00" stroke="#000" stroke-width="0.7"/>
<line x1="134.40" y1="115.00" x2="134.40" y2="113.80" stroke="#000" stroke-width="0.7"/>
<line x1="134.40" y1="1.80" x2="134.40" y2="3.00" stroke="#000" stroke-width="0.7"/>
<line x1="25.70" y1="105.65" x2="27.90" y2="105.65" stroke="#000" stroke-width="0.8"/>
<line x1="134.40" y1="105.65" x2="132.20" y2="105.65" stroke="#000" stroke-width="0.8"/>
<line x1="25.70" y1="89.70" x2="27.90" y2="89.70" stroke="#000" stroke-width="0.8"/>
<line x1="134.40" y1="89.70" x2="132.20" y2="89.70" stroke="#000" stroke-width="0.8"/>
<line x1="25.70" y1="73.75" x2="27.90" y2="73.75" stroke="#000" stroke-width="0.8"/>
<line x1="134.40" y1="73.75" x2="132.20" y2="73.75" stroke="#000" stroke-width="0.8"/>
<line x1="25.70" y1="57.80" x2="27.90" y2="57.80" stroke="#000" stroke-width="0.8"/>
<line x1="134.40" y1="57.80" x2="132.20" y2="57.80" stroke="#000" stroke-width="0.8"/>
<line x1="25.70" y1="41.85" x2="27.90" y2="41.85" stroke="#000" stroke-width="0.8"/>
<line x1="134.40" y1="41.85" x2="132.20" y2="41.85" stroke="#000" stroke-width="0.8"/>
<line x1="25.70" y1="25.90" x2="27.90" y2="25.90" stroke="#000" stroke-width="0.8"/>
<line x1="134.40" y1="25.90" x2="132.20" y2="25.90" stroke="#000" stroke-width="0.8"/>
<line x1="25.70" y1="9.95" x2="27.90" y2="9.95" stroke="#000" stroke-width="0.8"/>
<line x1="134.40" y1="9.95" x2="132.20" y2="9.95" stroke="#000" stroke-width="0.8"/>
<line x1="25.70" y1="113.62" x2="26.90" y2="113.62" stroke="#000" stroke-width="0.7"/>
<line x1="134.40" y1="113.62" x2="133.20" y2="113.62" stroke="#000" stroke-width="0.7"/>
<line x1="25.70" y1="105.65" x2="26.90" y2="105.65" stroke="#000" stroke-width="0.7"/>
<line x1="134.40" y1="105.65" x2="133.20" y2="105.65" stroke="#000" stroke-width="0.7"/>
<line x1="25.70" y1="97.67" x2="26.90" y2="97.67" stroke="#000" stroke-width="0.7"/>
<line x1="134.40" y1="97.67" x2="133.20" y2="97.67" stroke="#000" stroke-width="0.7"/>
<line x1="25.70" y1="89.70" x2="26.90" y2="89.70" stroke="#000" stroke-width="0.7"/>
<line x1="134.40" y1="89.70" x2="133.20" y2="89.70" stroke="#000" stroke-width="0.7"/>
<line x1="25.70" y1="81.72" x2="26.90" y2="81.72" stroke="#000" stroke-width="0.7"/>
<line x1="134.40" y1="81.72" x2="133.20" y2="81.72" stroke="#000" stroke-width="0.7"/>
<line x1="25.70" y1="73.75" x2="26.90" y2="73.75" stroke="#000" stroke-width="0.7"/>
<line x1="134.40" y1="73.75" x2="133.20" y2="73.75" stroke="#000" stroke-width="0.7"/>
<line x1="25.70" y1="65.77" x2="26.90" y2="65.77" stroke="#000" stroke-width="0.7"/>
<line x1="134.40" y1="65.77" x2="133.20" y2="65.77" stroke="#000" stroke-width="0.7"/>
<line x1="25.70" y1="57.80" x2="26.90" y2="57.80" stroke="#000" stroke-width="0.7"/>
<line x1="134.40" y1="57.80" x2="133.20" y2="57.80" stroke="#000" stroke-width="0.7"/>
<line x1="25.70" y1="49.82" x2="26.90" y2="49.82" stroke="#000" stroke-width="0.7"/>
<line x1="134.40" y1="49.82" x2="133.20" y2="49.82" stroke="#000" stroke-width="0.7"/>
<line x1="25.70" y1="41.85" x2="26.90" y2="41.85" stroke="#000" stroke-width="0.7"/>
<line x1="134.40" y1="41.85" x2="133.20" y2="41.85" stroke="#000" stroke-width="0.7"/>
<line x1="25.70" y1="33.88" x2="26.90" y2="33.88" stroke="#000" stroke-width="0.7"/>
<line x1="134.40" y1="33.88" x2="133.20" y2="33.88" stroke="#000" stroke-width="0.7"/>
<line x1="25.70" y1="25.90" x2="26.90" y2="25.90" stroke="#000" stroke-width="0.7"/>
<line x1="134.40" y1="25.90" x2="133.20" y2="25.90" stroke="#000" stroke-width="0.7"/>
<line x1="25.70" y1="17.92" x2="26.90" y2="17.92" stroke="#000" stroke-width="0.7"/>
<line x1="134.40" y1="17.92" x2="133.20" y2="17.92" stroke="#000" stroke-width="0.7"/>
<line x1="25.70" y1="9.95" x2="26.90" y2="9.95" stroke="#000" stroke-width="0.7"/>
<line x1="134.40" y1="9.95" x2="133.20" y2="9.95" stroke="#000" stroke-width="0.7"/>
<line x1="25.70" y1="1.98" x2="26.90" y2="1.98" stroke="#000" stroke-width="0.7"/>
<line x1="134.40" y1="1.98" x2="133.20" y2="1.98" stroke="#000" stroke-width="0.7"/>
<text x="25.70" y="122.10" style="font-family:'Liberation Sans',sans-serif;font-weight:bold;font-size:5.4px" text-anchor="middle" fill="#000" >-2.0</text>
<text x="39.29" y="122.10" style="font-family:'Liberation Sans',sans-serif;font-weight:bold;font-size:5.4px" text-anchor="middle" fill="#000" >-1.5</text>
<text x="52.88" y="122.10" style="font-family:'Liberation Sans',sans-serif;font-weight:bold;font-size:5.4px" text-anchor="middle" fill="#000" >-1.0</text>
<text x="66.46" y="122.10" style="font-family:'Liberation Sans',sans-serif;font-weight:bold;font-size:5.4px" text-anchor="middle" fill="#000" >-0.5</text>
<text x="80.05" y="122.10" style="font-family:'Liberation Sans',sans-serif;font-weight:bold;font-size:5.4px" text-anchor="middle" fill="#000" >0.0</text>
<text x="93.64" y="122.10" style="font-family:'Liberation Sans',sans-serif;font-weight:bold;font-size:5.4px" text-anchor="middle" fill="#000" >0.5</text>
<text x="107.23" y="122.10" style="font-family:'Liberation Sans',sans-serif;font-weight:bold;font-size:5.4px" text-anchor="middle" fill="#000" >1.0</text>
<text x="120.81" y="122.10" style="font-family:'Liberation Sans',sans-serif;font-weight:bold;font-size:5.4px" text-anchor="middle" fill="#000" >1.5</text>
<text x="134.40" y="122.10" style="font-family:'Liberation Sans',sans-serif;font-weight:bold;font-size:5.4px" text-anchor="middle" fill="#000" >2.0</text>
<text x="22.40" y="108.25" style="font-family:'Liberation Sans',sans-serif;font-weight:bold;font-size:5.0px" text-anchor="end" fill="#000" >-15</text>
<text x="22.40" y="92.30" style="font-family:'Liberation Sans',sans-serif;font-weight:bold;font-size:5.0px" text-anchor="end" fill="#000" >-10</text>
<text x="22.40" y="76.35" style="font-family:'Liberation Sans',sans-serif;font-weight:bold;font-size:5.0px" text-anchor="end" fill="#000" >-5</text>
<text x="22.40" y="60.40" style="font-family:'Liberation Sans',sans-serif;font-weight:bold;font-size:5.0px" text-anchor="end" fill="#000" >0</text>
<text x="22.40" y="44.45" style="font-family:'Liberation Sans',sans-serif;font-weight:bold;font-size:5.0px" text-anchor="end" fill="#000" >5</text>
<text x="22.40" y="28.50" style="font-family:'Liberation Sans',sans-serif;font-weight:bold;font-size:5.0px" text-anchor="end" fill="#000" >10</text>
<text x="22.40" y="12.55" style="font-family:'Liberation Sans',sans-serif;font-weight:bold;font-size:5.0px" text-anchor="end" fill="#000" >15</text>
<text x="79.6" y="128.1" style="font-family:'Liberation Sans',sans-serif;font-weight:bold;font-size:6.4px" text-anchor="middle">V<tspan style="font-size:3.9px" dy="1.3">ds</tspan><tspan dy="-1.3"> (V)</tspan></text>
<text transform="translate(14.6,58.0) rotate(-90)" style="font-family:'Liberation Sans',sans-serif;font-weight:bold;font-size:6.5px" text-anchor="middle">I<tspan style="font-size:4.4px" dy="1.4">ds</tspan><tspan dy="-1.4"> (&#956;A)</tspan></text>
<text x="0.70" y="9.30" style="font-family:'Liberation Serif',serif;font-weight:bold;font-size:13px" text-anchor="start" fill="#000" >(a)</text>
<polyline points="160.70,77.90 161.38,77.52 162.06,77.17 162.73,76.86 163.41,76.58 164.09,76.32 164.77,76.09 165.45,75.88 166.12,75.70 166.80,75.52 167.48,75.37 168.16,75.23 168.84,75.10 169.52,74.99 170.19,74.89 170.87,74.79 171.55,74.71 172.23,74.63 172.91,74.56 173.58,74.50 174.26,74.44 174.94,74.39 175.62,74.34 176.30,74.30 176.97,74.26 177.65,74.23 178.33,74.20 179.01,74.17 179.69,74.14 180.37,74.12 181.04,74.10 181.72,74.08 182.40,74.06 183.08,74.05 183.76,74.03 184.43,74.02 185.11,74.01 185.79,74.00 186.47,73.99 187.15,73.98 187.82,73.97 188.50,73.96 189.18,73.96 189.86,73.95 190.54,73.95 191.22,73.94 191.89,73.94 192.57,73.94 193.25,73.93 193.93,73.93 194.61,73.93 195.28,73.92 195.96,73.92 196.64,73.92 197.32,73.92 198.00,73.92 198.67,73.91 199.35,73.91 200.03,73.91 200.71,73.91 201.39,73.91 202.07,73.91 202.74,73.91 203.42,73.91 204.10,73.91 204.78,73.90 205.46,73.90 206.13,73.90 206.81,73.90 207.49,73.90 208.17,73.90 208.85,73.90 209.52,73.90 210.20,73.90 210.88,73.90 211.56,73.90 212.24,73.90 212.92,73.90 213.59,73.90 214.27,73.90 214.95,73.90 215.63,73.90 216.31,73.89 216.98,73.89 217.66,73.88 218.34,73.88 219.02,73.88 219.70,73.87 220.38,73.86 221.05,73.86 221.73,73.85 222.41,73.85 223.09,73.84 223.77,73.83 224.44,73.82 225.12,73.81 225.80,73.80 226.48,73.79 227.16,73.78 227.83,73.77 228.51,73.76 229.19,73.74 229.87,73.73 230.55,73.71 231.22,73.69 231.90,73.68 232.58,73.66 233.26,73.64 233.94,73.61 234.62,73.59 235.29,73.56 235.97,73.54 236.65,73.51 237.33,73.47 238.01,73.44 238.68,73.40 239.36,73.36 240.04,73.32 240.72,73.28 241.40,73.23 242.07,73.18 242.75,73.12 243.43,73.06 244.11,73.00 244.79,72.93 245.47,72.86 246.14,72.78 246.82,72.69 247.50,72.60 248.18,72.51 248.86,72.40 249.53,72.29 250.21,72.17 250.89,72.05 251.57,71.91 252.25,71.76 252.93,71.60 253.60,71.44 254.28,71.26 254.96,71.06 255.64,70.85 256.32,70.63 256.99,70.39 257.67,70.14 258.35,69.86 259.03,69.57 259.71,69.26 260.38,68.92 261.06,68.56 261.74,68.17 262.42,67.75 263.10,67.31 263.77,66.83 264.45,66.32 265.13,65.77 265.81,65.18 266.49,64.55 267.17,63.87 267.84,63.15 268.52,62.37 269.20,61.54" fill="none" stroke="#22406e" stroke-width="1.2" stroke-linejoin="round" clip-path="url(#clipb)"/>
<polyline points="160.70,78.48 161.38,78.06 162.06,77.68 162.73,77.33 163.41,77.02 164.09,76.73 164.77,76.47 165.45,76.24 166.12,76.02 166.80,75.83 167.48,75.65 168.16,75.49 168.84,75.34 169.52,75.21 170.19,75.09 170.87,74.98 171.55,74.88 172.23,74.79 172.91,74.71 173.58,74.64 174.26,74.57 174.94,74.51 175.62,74.45 176.30,74.40 176.97,74.35 177.65,74.31 178.33,74.27 179.01,74.24 179.69,74.21 180.37,74.18 181.04,74.15 181.72,74.13 182.40,74.11 183.08,74.09 183.76,74.07 184.43,74.06 185.11,74.04 185.79,74.03 186.47,74.02 187.15,74.01 187.82,74.00 188.50,73.99 189.18,73.98 189.86,73.97 190.54,73.96 191.22,73.96 191.89,73.95 192.57,73.95 193.25,73.94 193.93,73.94 194.61,73.94 195.28,73.93 195.96,73.93 196.64,73.93 197.32,73.92 198.00,73.92 198.67,73.92 199.35,73.92 200.03,73.92 200.71,73.91 201.39,73.91 202.07,73.91 202.74,73.91 203.42,73.91 204.10,73.91 204.78,73.91 205.46,73.91 206.13,73.91 206.81,73.90 207.49,73.90 208.17,73.90 208.85,73.90 209.52,73.90 210.20,73.90 210.88,73.90 211.56,73.90 212.24,73.90 212.92,73.90 213.59,73.90 214.27,73.90 214.95,73.90 215.63,73.89 216.31,73.89 216.98,73.88 217.66,73.87 218.34,73.87 219.02,73.86 219.70,73.85 220.38,73.84 221.05,73.83 221.73,73.82 222.41,73.81 223.09,73.79 223.77,73.78 224.44,73.77 225.12,73.75 225.80,73.73 226.48,73.72 227.16,73.70 227.83,73.68 228.51,73.66 229.19,73.63 229.87,73.61 230.55,73.59 231.22,73.56 231.90,73.53 232.58,73.50 233.26,73.46 233.94,73.43 234.62,73.39 235.29,73.35 235.97,73.31 236.65,73.26 237.33,73.21 238.01,73.16 238.68,73.10 239.36,73.04 240.04,72.97 240.72,72.91 241.40,72.83 242.07,72.75 242.75,72.67 243.43,72.58 244.11,72.48 244.79,72.38 245.47,72.27 246.14,72.15 246.82,72.03 247.50,71.90 248.18,71.75 248.86,71.60 249.53,71.44 250.21,71.27 250.89,71.08 251.57,70.88 252.25,70.67 252.93,70.45 253.60,70.21 254.28,69.95 254.96,69.68 255.64,69.38 256.32,69.07 256.99,68.73 257.67,68.38 258.35,68.00 259.03,67.59 259.71,67.15 260.38,66.69 261.06,66.19 261.74,65.66 262.42,65.09 263.10,64.49 263.77,63.84 264.45,63.15 265.13,62.42 265.81,61.63 266.49,60.79 267.17,59.89 267.84,58.93 268.52,57.91 269.20,56.82" fill="none" stroke="#4a77a6" stroke-width="1.2" stroke-linejoin="round" clip-path="url(#clipb)"/>
<polyline points="160.70,79.50 161.38,79.02 162.06,78.58 162.73,78.18 163.41,77.82 164.09,77.48 164.77,77.17 165.45,76.89 166.12,76.64 166.80,76.40 167.48,76.19 168.16,75.99 168.84,75.81 169.52,75.65 170.19,75.50 170.87,75.36 171.55,75.24 172.23,75.12 172.91,75.02 173.58,74.92 174.26,74.83 174.94,74.75 175.62,74.68 176.30,74.61 176.97,74.55 177.65,74.50 178.33,74.45 179.01,74.40 179.69,74.36 180.37,74.32 181.04,74.28 181.72,74.25 182.40,74.22 183.08,74.19 183.76,74.16 184.43,74.14 185.11,74.12 185.79,74.10 186.47,74.08 187.15,74.07 187.82,74.05 188.50,74.04 189.18,74.03 189.86,74.02 190.54,74.01 191.22,74.00 191.89,73.99 192.57,73.98 193.25,73.97 193.93,73.97 194.61,73.96 195.28,73.95 195.96,73.95 196.64,73.94 197.32,73.94 198.00,73.94 198.67,73.93 199.35,73.93 200.03,73.93 200.71,73.92 201.39,73.92 202.07,73.92 202.74,73.92 203.42,73.92 204.10,73.91 204.78,73.91 205.46,73.91 206.13,73.91 206.81,73.91 207.49,73.91 208.17,73.91 208.85,73.91 209.52,73.90 210.20,73.90 210.88,73.90 211.56,73.90 212.24,73.90 212.92,73.90 213.59,73.90 214.27,73.90 214.95,73.90 215.63,73.89 216.31,73.88 216.98,73.87 217.66,73.86 218.34,73.84 219.02,73.83 219.70,73.82 220.38,73.80 221.05,73.78 221.73,73.77 222.41,73.75 223.09,73.73 223.77,73.71 224.44,73.69 225.12,73.66 225.80,73.64 226.48,73.61 227.16,73.58 227.83,73.55 228.51,73.52 229.19,73.48 229.87,73.45 230.55,73.41 231.22,73.37 231.90,73.32 232.58,73.28 233.26,73.23 233.94,73.17 234.62,73.12 235.29,73.06 235.97,72.99 236.65,72.92 237.33,72.85 238.01,72.77 238.68,72.69 239.36,72.60 240.04,72.51 240.72,72.41 241.40,72.30 242.07,72.19 242.75,72.07 243.43,71.94 244.11,71.81 244.79,71.66 245.47,71.51 246.14,71.34 246.82,71.17 247.50,70.98 248.18,70.78 248.86,70.57 249.53,70.35 250.21,70.11 250.89,69.86 251.57,69.58 252.25,69.30 252.93,68.99 253.60,68.66 254.28,68.32 254.96,67.95 255.64,67.55 256.32,67.13 256.99,66.69 257.67,66.21 258.35,65.71 259.03,65.17 259.71,64.59 260.38,63.98 261.06,63.33 261.74,62.64 262.42,61.91 263.10,61.12 263.77,60.29 264.45,59.40 265.13,58.46 265.81,57.45 266.49,56.38 267.17,55.24 267.84,54.03 268.52,52.74 269.20,51.36" fill="none" stroke="#3d8c9e" stroke-width="1.2" stroke-linejoin="round" clip-path="url(#clipb)"/>
<polyline points="160.70,80.52 161.38,79.99 162.06,79.50 162.73,79.05 163.41,78.64 164.09,78.26 164.77,77.91 165.45,77.59 166.12,77.29 166.80,77.02 167.48,76.77 168.16,76.54 168.84,76.33 169.52,76.13 170.19,75.95 170.87,75.79 171.55,75.64 172.23,75.50 172.91,75.37 173.58,75.25 174.26,75.14 174.94,75.04 175.62,74.95 176.30,74.87 176.97,74.79 177.65,74.72 178.33,74.65 179.01,74.59 179.69,74.53 180.37,74.48 181.04,74.44 181.72,74.39 182.40,74.35 183.08,74.32 183.76,74.28 184.43,74.25 185.11,74.22 185.79,74.19 186.47,74.17 187.15,74.15 187.82,74.13 188.50,74.11 189.18,74.09 189.86,74.08 190.54,74.06 191.22,74.05 191.89,74.03 192.57,74.02 193.25,74.01 193.93,74.00 194.61,73.99 195.28,73.99 195.96,73.98 196.64,73.97 197.32,73.97 198.00,73.96 198.67,73.95 199.35,73.95 200.03,73.94 200.71,73.94 201.39,73.94 202.07,73.93 202.74,73.93 203.42,73.93 204.10,73.92 204.78,73.92 205.46,73.92 206.13,73.92 206.81,73.91 207.49,73.91 208.17,73.91 208.85,73.91 209.52,73.91 210.20,73.91 210.88,73.91 211.56,73.90 212.24,73.90 212.92,73.90 213.59,73.90 214.27,73.90 214.95,73.90 215.63,73.89 216.31,73.87 216.98,73.85 217.66,73.84 218.34,73.82 219.02,73.80 219.70,73.78 220.38,73.75 221.05,73.73 221.73,73.70 222.41,73.68 223.09,73.65 223.77,73.62 224.44,73.59 225.12,73.55 225.80,73.52 226.48,73.48 227.16,73.44 227.83,73.39 228.51,73.35 229.19,73.30 229.87,73.25 230.55,73.19 231.22,73.13 231.90,73.07 232.58,73.01 233.26,72.94 233.94,72.86 234.62,72.79 235.29,72.70 235.97,72.61 236.65,72.52 237.33,72.42 238.01,72.32 238.68,72.20 239.36,72.08 240.04,71.96 240.72,71.82 241.40,71.68 242.07,71.53 242.75,71.37 243.43,71.20 244.11,71.02 244.79,70.83 245.47,70.63 246.14,70.41 246.82,70.18 247.50,69.94 248.18,69.68 248.86,69.41 249.53,69.12 250.21,68.81 250.89,68.48 251.57,68.14 252.25,67.77 252.93,67.38 253.60,66.96 254.28,66.52 254.96,66.05 255.64,65.56 256.32,65.03 256.99,64.47 257.67,63.88 258.35,63.25 259.03,62.58 259.71,61.87 260.38,61.12 261.06,60.32 261.74,59.47 262.42,58.57 263.10,57.62 263.77,56.61 264.45,55.53 265.13,54.39 265.81,53.18 266.49,51.89 267.17,50.53 267.84,49.08 268.52,47.54 269.20,45.91" fill="none" stroke="#49bfa6" stroke-width="1.2" stroke-linejoin="round" clip-path="url(#clipb)"/>
<polyline points="160.70,82.19 161.38,81.63 162.06,81.11 162.73,80.62 163.41,80.17 164.09,79.75 164.77,79.35 165.45,78.98 166.12,78.64 166.80,78.32 167.48,78.02 168.16,77.74 168.84,77.48 169.52,77.24 170.19,77.01 170.87,76.80 171.55,76.61 172.23,76.42 172.91,76.25 173.58,76.09 174.26,75.94 174.94,75.80 175.62,75.67 176.30,75.55 176.97,75.44 177.65,75.33 178.33,75.24 179.01,75.14 179.69,75.06 180.37,74.98 181.04,74.90 181.72,74.83 182.40,74.77 183.08,74.71 183.76,74.65 184.43,74.60 185.11,74.55 185.79,74.50 186.47,74.46 187.15,74.42 187.82,74.39 188.50,74.35 189.18,74.32 189.86,74.29 190.54,74.26 191.22,74.23 191.89,74.21 192.57,74.19 193.25,74.16 193.93,74.14 194.61,74.13 195.28,74.11 195.96,74.09 196.64,74.08 197.32,74.06 198.00,74.05 198.67,74.04 199.35,74.03 200.03,74.02 200.71,74.01 201.39,74.00 202.07,73.99 202.74,73.98 203.42,73.97 204.10,73.97 204.78,73.96 205.46,73.95 206.13,73.95 206.81,73.94 207.49,73.94 208.17,73.93 208.85,73.93 209.52,73.92 210.20,73.92 210.88,73.92 211.56,73.91 212.24,73.91 212.92,73.91 213.59,73.90 214.27,73.90 214.95,73.90 215.63,73.88 216.31,73.86 216.98,73.83 217.66,73.81 218.34,73.78 219.02,73.75 219.70,73.72 220.38,73.69 221.05,73.66 221.73,73.63 222.41,73.59 223.09,73.55 223.77,73.51 224.44,73.46 225.12,73.42 225.80,73.37 226.48,73.32 227.16,73.26 227.83,73.20 228.51,73.14 229.19,73.08 229.87,73.01 230.55,72.93 231.22,72.86 231.90,72.77 232.58,72.69 233.26,72.59 233.94,72.50 234.62,72.39 235.29,72.29 235.97,72.17 236.65,72.05 237.33,71.92 238.01,71.78 238.68,71.64 239.36,71.48 240.04,71.32 240.72,71.15 241.40,70.97 242.07,70.78 242.75,70.57 243.43,70.36 244.11,70.13 244.79,69.89 245.47,69.63 246.14,69.36 246.82,69.08 247.50,68.77 248.18,68.45 248.86,68.11 249.53,67.75 250.21,67.37 250.89,66.97 251.57,66.54 252.25,66.09 252.93,65.61 253.60,65.11 254.28,64.57 254.96,64.01 255.64,63.41 256.32,62.77 256.99,62.10 257.67,61.39 258.35,60.64 259.03,59.84 259.71,59.00 260.38,58.11 261.06,57.17 261.74,56.17 262.42,55.11 263.10,53.99 263.77,52.80 264.45,51.55 265.13,50.22 265.81,48.82 266.49,47.33 267.17,45.76 267.84,44.09 268.52,42.32 269.20,40.46" fill="none" stroke="#94d3c0" stroke-width="1.2" stroke-linejoin="round" clip-path="url(#clipb)"/>
<polyline points="160.70,89.02 161.38,88.38 162.06,87.77 162.73,87.18 163.41,86.61 164.09,86.07 164.77,85.55 165.45,85.05 166.12,84.58 166.80,84.12 167.48,83.68 168.16,83.26 168.84,82.85 169.52,82.46 170.19,82.09 170.87,81.73 171.55,81.39 172.23,81.06 172.91,80.75 173.58,80.45 174.26,80.16 174.94,79.88 175.62,79.61 176.30,79.35 176.97,79.11 177.65,78.87 178.33,78.65 179.01,78.43 179.69,78.22 180.37,78.02 181.04,77.83 181.72,77.65 182.40,77.47 183.08,77.31 183.76,77.14 184.43,76.99 185.11,76.84 185.79,76.70 186.47,76.56 187.15,76.43 187.82,76.30 188.50,76.18 189.18,76.07 189.86,75.95 190.54,75.85 191.22,75.75 191.89,75.65 192.57,75.55 193.25,75.46 193.93,75.38 194.61,75.29 195.28,75.21 195.96,75.14 196.64,75.06 197.32,74.99 198.00,74.93 198.67,74.86 199.35,74.80 200.03,74.74 200.71,74.68 201.39,74.63 202.07,74.58 202.74,74.52 203.42,74.48 204.10,74.43 204.78,74.39 205.46,74.34 206.13,74.30 206.81,74.26 207.49,74.23 208.17,74.19 208.85,74.15 209.52,74.12 210.20,74.09 210.88,74.06 211.56,74.03 212.24,74.00 212.92,73.97 213.59,73.95 214.27,73.92 214.95,73.90 215.63,73.81 216.31,73.73 216.98,73.63 217.66,73.54 218.34,73.44 219.02,73.33 219.70,73.23 220.38,73.12 221.05,73.00 221.73,72.88 222.41,72.75 223.09,72.62 223.77,72.49 224.44,72.35 225.12,72.20 225.80,72.05 226.48,71.89 227.16,71.73 227.83,71.55 228.51,71.38 229.19,71.19 229.87,71.00 230.55,70.80 231.22,70.60 231.90,70.38 232.58,70.16 233.26,69.92 233.94,69.68 234.62,69.43 235.29,69.17 235.97,68.90 236.65,68.62 237.33,68.33 238.01,68.02 238.68,67.71 239.36,67.38 240.04,67.04 240.72,66.68 241.40,66.32 242.07,65.93 242.75,65.53 243.43,65.12 244.11,64.69 244.79,64.25 245.47,63.78 246.14,63.30 246.82,62.80 247.50,62.28 248.18,61.74 248.86,61.17 249.53,60.59 250.21,59.98 250.89,59.35 251.57,58.70 252.25,58.01 252.93,57.31 253.60,56.57 254.28,55.80 254.96,55.01 255.64,54.18 256.32,53.32 256.99,52.43 257.67,51.51 258.35,50.54 259.03,49.54 259.71,48.50 260.38,47.42 261.06,46.29 261.74,45.13 262.42,43.91 263.10,42.65 263.77,41.34 264.45,39.98 265.13,38.56 265.81,37.09 266.49,35.56 267.17,33.98 267.84,32.32 268.52,30.61 269.20,28.83" fill="none" stroke="#e2d3bd" stroke-width="1.2" stroke-linejoin="round" clip-path="url(#clipb)"/>
<polyline points="160.70,96.73 161.38,95.90 162.06,95.09 162.73,94.32 163.41,93.57 164.09,92.85 164.77,92.15 165.45,91.48 166.12,90.82 166.80,90.19 167.48,89.59 168.16,89.00 168.84,88.43 169.52,87.89 170.19,87.36 170.87,86.85 171.55,86.35 172.23,85.88 172.91,85.42 173.58,84.97 174.26,84.54 174.94,84.13 175.62,83.73 176.30,83.34 176.97,82.97 177.65,82.60 178.33,82.26 179.01,81.92 179.69,81.59 180.37,81.28 181.04,80.98 181.72,80.68 182.40,80.40 183.08,80.13 183.76,79.86 184.43,79.61 185.11,79.36 185.79,79.12 186.47,78.89 187.15,78.67 187.82,78.46 188.50,78.25 189.18,78.05 189.86,77.86 190.54,77.67 191.22,77.49 191.89,77.31 192.57,77.15 193.25,76.98 193.93,76.83 194.61,76.68 195.28,76.53 195.96,76.39 196.64,76.25 197.32,76.12 198.00,75.99 198.67,75.87 199.35,75.75 200.03,75.64 200.71,75.52 201.39,75.42 202.07,75.31 202.74,75.21 203.42,75.12 204.10,75.02 204.78,74.93 205.46,74.85 206.13,74.76 206.81,74.68 207.49,74.60 208.17,74.53 208.85,74.46 209.52,74.38 210.20,74.32 210.88,74.25 211.56,74.19 212.24,74.13 212.92,74.07 213.59,74.01 214.27,73.95 214.95,73.90 215.63,73.85 216.31,73.79 216.98,73.73 217.66,73.67 218.34,73.61 219.02,73.54 219.70,73.46 220.38,73.39 221.05,73.31 221.73,73.22 222.41,73.13 223.09,73.03 223.77,72.93 224.44,72.82 225.12,72.71 225.80,72.59 226.48,72.46 227.16,72.33 227.83,72.18 228.51,72.03 229.19,71.88 229.87,71.71 230.55,71.53 231.22,71.34 231.90,71.14 232.58,70.93 233.26,70.71 233.94,70.48 234.62,70.23 235.29,69.97 235.97,69.69 236.65,69.40 237.33,69.09 238.01,68.76 238.68,68.41 239.36,68.05 240.04,67.66 240.72,67.25 241.40,66.82 242.07,66.37 242.75,65.88 243.43,65.37 244.11,64.83 244.79,64.26 245.47,63.66 246.14,63.02 246.82,62.35 247.50,61.64 248.18,60.88 248.86,60.09 249.53,59.25 250.21,58.36 250.89,57.42 251.57,56.42 252.25,55.37 252.93,54.26 253.60,53.09 254.28,51.85 254.96,50.53 255.64,49.15 256.32,47.68 256.99,46.13 257.67,44.49 258.35,42.76 259.03,40.93 259.71,38.99 260.38,36.94 261.06,34.78 261.74,32.49 262.42,30.08 263.10,27.52 263.77,24.82 264.45,21.96 265.13,18.94 265.81,15.75 266.49,12.38 267.17,8.81 267.84,5.04 268.52,1.05 269.20,-3.16" fill="none" stroke="#d6c1a2" stroke-width="1.2" stroke-linejoin="round" clip-path="url(#clipb)"/>
<line x1="163.40" y1="8.75" x2="175.90" y2="8.75" stroke="#22406e" stroke-width="1.6"/>
<text x="176.80" y="10.35" style="font-family:'Liberation Serif',serif;font-weight:bold;font-size:5.3px" text-anchor="start" fill="#000" >Dark</text>
<line x1="163.40" y1="15.49" x2="175.90" y2="15.49" stroke="#4a77a6" stroke-width="1.6"/>
<text x="176.80" y="17.09" style="font-family:'Liberation Serif',serif;font-weight:bold;font-size:5.3px" text-anchor="start" fill="#000" >58</text>
<text x="186.70" y="17.09" style="font-family:'Liberation Serif',serif;font-weight:bold;font-size:5.3px" text-anchor="start" fill="#000" >nW</text>
<line x1="163.40" y1="22.23" x2="175.90" y2="22.23" stroke="#3d8c9e" stroke-width="1.6"/>
<text x="176.80" y="23.83" style="font-family:'Liberation Serif',serif;font-weight:bold;font-size:5.3px" text-anchor="start" fill="#000" >501</text>
<text x="186.70" y="23.83" style="font-family:'Liberation Serif',serif;font-weight:bold;font-size:5.3px" text-anchor="start" fill="#000" >nW</text>
<line x1="163.40" y1="28.97" x2="175.90" y2="28.97" stroke="#49bfa6" stroke-width="1.6"/>
<text x="176.80" y="30.57" style="font-family:'Liberation Serif',serif;font-weight:bold;font-size:5.3px" text-anchor="start" fill="#000" >1.7</text>
<text x="186.70" y="30.57" style="font-family:'Liberation Serif',serif;font-weight:bold;font-size:5.3px" text-anchor="start" fill="#000" >&#956;W</text>
<line x1="163.40" y1="35.71" x2="175.90" y2="35.71" stroke="#94d3c0" stroke-width="1.6"/>
<text x="176.80" y="37.31" style="font-family:'Liberation Serif',serif;font-weight:bold;font-size:5.3px" text-anchor="start" fill="#000" >4.5</text>
<text x="186.70" y="37.31" style="font-family:'Liberation Serif',serif;font-weight:bold;font-size:5.3px" text-anchor="start" fill="#000" >&#956;W</text>
<line x1="163.40" y1="42.45" x2="175.90" y2="42.45" stroke="#e2d3bd" stroke-width="1.6"/>
<text x="176.80" y="44.05" style="font-family:'Liberation Serif',serif;font-weight:bold;font-size:5.3px" text-anchor="start" fill="#000" >9.1</text>
<text x="186.70" y="44.05" style="font-family:'Liberation Serif',serif;font-weight:bold;font-size:5.3px" text-anchor="start" fill="#000" >&#956;W</text>
<line x1="163.40" y1="49.19" x2="175.90" y2="49.19" stroke="#d6c1a2" stroke-width="1.6"/>
<text x="176.80" y="50.79" style="font-family:'Liberation Serif',serif;font-weight:bold;font-size:5.3px" text-anchor="start" fill="#000" >20.9</text>
<text x="186.70" y="50.79" style="font-family:'Liberation Serif',serif;font-weight:bold;font-size:5.3px" text-anchor="start" fill="#000" >&#956;W</text>
<rect x="160.70" y="2.90" width="108.50" height="113.80" fill="none" stroke="#000" stroke-width="1.1"/>
<line x1="160.70" y1="116.70" x2="160.70" y2="114.50" stroke="#000" stroke-width="0.8"/>
<line x1="160.70" y1="2.90" x2="160.70" y2="5.10" stroke="#000" stroke-width="0.8"/>
<line x1="174.26" y1="116.70" x2="174.26" y2="114.50" stroke="#000" stroke-width="0.8"/>
<line x1="174.26" y1="2.90" x2="174.26" y2="5.10" stroke="#000" stroke-width="0.8"/>
<line x1="187.82" y1="116.70" x2="187.82" y2="114.50" stroke="#000" stroke-width="0.8"/>
<line x1="187.82" y1="2.90" x2="187.82" y2="5.10" stroke="#000" stroke-width="0.8"/>
<line x1="201.39" y1="116.70" x2="201.39" y2="114.50" stroke="#000" stroke-width="0.8"/>
<line x1="201.39" y1="2.90" x2="201.39" y2="5.10" stroke="#000" stroke-width="0.8"/>
<line x1="214.95" y1="116.70" x2="214.95" y2="114.50" stroke="#000" stroke-width="0.8"/>
<line x1="214.95" y1="2.90" x2="214.95" y2="5.10" stroke="#000" stroke-width="0.8"/>
<line x1="228.51" y1="116.70" x2="228.51" y2="114.50" stroke="#000" stroke-width="0.8"/>
<line x1="228.51" y1="2.90" x2="228.51" y2="5.10" stroke="#000" stroke-width="0.8"/>
<line x1="242.07" y1="116.70" x2="242.07" y2="114.50" stroke="#000" stroke-width="0.8"/>
<line x1="242.07" y1="2.90" x2="242.07" y2="5.10" stroke="#000" stroke-width="0.8"/>
<line x1="255.64" y1="116.70" x2="255.64" y2="114.50" stroke="#000" stroke-width="0.8"/>
<line x1="255.64" y1="2.90" x2="255.64" y2="5.10" stroke="#000" stroke-width="0.8"/>
<line x1="269.20" y1="116.70" x2="269.20" y2="114.50" stroke="#000" stroke-width="0.8"/>
<line x1="269.20" y1="2.90" x2="269.20" y2="5.10" stroke="#000" stroke-width="0.8"/>
<line x1="160.70" y1="116.70" x2="160.70" y2="115.50" stroke="#000" stroke-width="0.7"/>
<line x1="160.70" y1="2.90" x2="160.70" y2="4.10" stroke="#000" stroke-width="0.7"/>
<line x1="163.41" y1="116.70" x2="163.41" y2="115.50" stroke="#000" stroke-width="0.7"/>
<line x1="163.41" y1="2.90" x2="163.41" y2="4.10" stroke="#000" stroke-width="0.7"/>
<line x1="166.12" y1="116.70" x2="166.12" y2="115.50" stroke="#000" stroke-width="0.7"/>
<line x1="166.12" y1="2.90" x2="166.12" y2="4.10" stroke="#000" stroke-width="0.7"/>
<line x1="168.84" y1="116.70" x2="168.84" y2="115.50" stroke="#000" stroke-width="0.7"/>
<line x1="168.84" y1="2.90" x2="168.84" y2="4.10" stroke="#000" stroke-width="0.7"/>
<line x1="171.55" y1="116.70" x2="171.55" y2="115.50" stroke="#000" stroke-width="0.7"/>
<line x1="171.55" y1="2.90" x2="171.55" y2="4.10" stroke="#000" stroke-width="0.7"/>
<line x1="174.26" y1="116.70" x2="174.26" y2="115.50" stroke="#000" stroke-width="0.7"/>
<line x1="174.26" y1="2.90" x2="174.26" y2="4.10" stroke="#000" stroke-width="0.7"/>
<line x1="176.97" y1="116.70" x2="176.97" y2="115.50" stroke="#000" stroke-width="0.7"/>
<line x1="176.97" y1="2.90" x2="176.97" y2="4.10" stroke="#000" stroke-width="0.7"/>
<line x1="179.69" y1="116.70" x2="179.69" y2="115.50" stroke="#000" stroke-width="0.7"/>
<line x1="179.69" y1="2.90" x2="179.69" y2="4.10" stroke="#000" stroke-width="0.7"/>
<line x1="182.40" y1="116.70" x2="182.40" y2="115.50" stroke="#000" stroke-width="0.7"/>
<line x1="182.40" y1="2.90" x2="182.40" y2="4.10" stroke="#000" stroke-width="0.7"/>
<line x1="185.11" y1="116.70" x2="185.11" y2="115.50" stroke="#000" stroke-width="0.7"/>
<line x1="185.11" y1="2.90" x2="185.11" y2="4.10" stroke="#000" stroke-width="0.7"/>
<line x1="187.83" y1="116.70" x2="187.83" y2="115.50" stroke="#000" stroke-width="0.7"/>
<line x1="187.83" y1="2.90" x2="187.83" y2="4.10" stroke="#000" stroke-width="0.7"/>
<line x1="190.54" y1="116.70" x2="190.54" y2="115.50" stroke="#000" stroke-width="0.7"/>
<line x1="190.54" y1="2.90" x2="190.54" y2="4.10" stroke="#000" stroke-width="0.7"/>
<line x1="193.25" y1="116.70" x2="193.25" y2="115.50" stroke="#000" stroke-width="0.7"/>
<line x1="193.25" y1="2.90" x2="193.25" y2="4.10" stroke="#000" stroke-width="0.7"/>
<line x1="195.96" y1="116.70" x2="195.96" y2="115.50" stroke="#000" stroke-width="0.7"/>
<line x1="195.96" y1="2.90" x2="195.96" y2="4.10" stroke="#000" stroke-width="0.7"/>
<line x1="198.68" y1="116.70" x2="198.68" y2="115.50" stroke="#000" stroke-width="0.7"/>
<line x1="198.68" y1="2.90" x2="198.68" y2="4.10" stroke="#000" stroke-width="0.7"/>
<line x1="201.39" y1="116.70" x2="201.39" y2="115.50" stroke="#000" stroke-width="0.7"/>
<line x1="201.39" y1="2.90" x2="201.39" y2="4.10" stroke="#000" stroke-width="0.7"/>
<line x1="204.10" y1="116.70" x2="204.10" y2="115.50" stroke="#000" stroke-width="0.7"/>
<line x1="204.10" y1="2.90" x2="204.10" y2="4.10" stroke="#000" stroke-width="0.7"/>
<line x1="206.81" y1="116.70" x2="206.81" y2="115.50" stroke="#000" stroke-width="0.7"/>
<line x1="206.81" y1="2.90" x2="206.81" y2="4.10" stroke="#000" stroke-width="0.7"/>
<line x1="209.53" y1="116.70" x2="209.53" y2="115.50" stroke="#000" stroke-width="0.7"/>
<line x1="209.53" y1="2.90" x2="209.53" y2="4.10" stroke="#000" stroke-width="0.7"/>
<line x1="212.24" y1="116.70" x2="212.24" y2="115.50" stroke="#000" stroke-width="0.7"/>
<line x1="212.24" y1="2.90" x2="212.24" y2="4.10" stroke="#000" stroke-width="0.7"/>
<line x1="214.95" y1="116.70" x2="214.95" y2="115.50" stroke="#000" stroke-width="0.7"/>
<line x1="214.95" y1="2.90" x2="214.95" y2="4.10" stroke="#000" stroke-width="0.7"/>
<line x1="217.66" y1="116.70" x2="217.66" y2="115.50" stroke="#000" stroke-width="0.7"/>
<line x1="217.66" y1="2.90" x2="217.66" y2="4.10" stroke="#000" stroke-width="0.7"/>
<line x1="220.38" y1="116.70" x2="220.38" y2="115.50" stroke="#000" stroke-width="0.7"/>
<line x1="220.38" y1="2.90" x2="220.38" y2="4.10" stroke="#000" stroke-width="0.7"/>
<line x1="223.09" y1="116.70" x2="223.09" y2="115.50" stroke="#000" stroke-width="0.7"/>
<line x1="223.09" y1="2.90" x2="223.09" y2="4.10" stroke="#000" stroke-width="0.7"/>
<line x1="225.80" y1="116.70" x2="225.80" y2="115.50" stroke="#000" stroke-width="0.7"/>
<line x1="225.80" y1="2.90" x2="225.80" y2="4.10" stroke="#000" stroke-width="0.7"/>
<line x1="228.51" y1="116.70" x2="228.51" y2="115.50" stroke="#000" stroke-width="0.7"/>
<line x1="228.51" y1="2.90" x2="228.51" y2="4.10" stroke="#000" stroke-width="0.7"/>
<line x1="231.23" y1="116.70" x2="231.23" y2="115.50" stroke="#000" stroke-width="0.7"/>
<line x1="231.23" y1="2.90" x2="231.23" y2="4.10" stroke="#000" stroke-width="0.7"/>
<line x1="233.94" y1="116.70" x2="233.94" y2="115.50" stroke="#000" stroke-width="0.7"/>
<line x1="233.94" y1="2.90" x2="233.94" y2="4.10" stroke="#000" stroke-width="0.7"/>
<line x1="236.65" y1="116.70" x2="236.65" y2="115.50" stroke="#000" stroke-width="0.7"/>
<line x1="236.65" y1="2.90" x2="236.65" y2="4.10" stroke="#000" stroke-width="0.7"/>
<line x1="239.36" y1="116.70" x2="239.36" y2="115.50" stroke="#000" stroke-width="0.7"/>
<line x1="239.36" y1="2.90" x2="239.36" y2="4.10" stroke="#000" stroke-width="0.7"/>
<line x1="242.08" y1="116.70" x2="242.08" y2="115.50" stroke="#000" stroke-width="0.7"/>
<line x1="242.08" y1="2.90" x2="242.08" y2="4.10" stroke="#000" stroke-width="0.7"/>
<line x1="244.79" y1="116.70" x2="244.79" y2="115.50" stroke="#000" stroke-width="0.7"/>
<line x1="244.79" y1="2.90" x2="244.79" y2="4.10" stroke="#000" stroke-width="0.7"/>
<line x1="247.50" y1="116.70" x2="247.50" y2="115.50" stroke="#000" stroke-width="0.7"/>
<line x1="247.50" y1="2.90" x2="247.50" y2="4.10" stroke="#000" stroke-width="0.7"/>
<line x1="250.21" y1="116.70" x2="250.21" y2="115.50" stroke="#000" stroke-width="0.7"/>
<line x1="250.21" y1="2.90" x2="250.21" y2="4.10" stroke="#000" stroke-width="0.7"/>
<line x1="252.93" y1="116.70" x2="252.93" y2="115.50" stroke="#000" stroke-width="0.7"/>
<line x1="252.93" y1="2.90" x2="252.93" y2="4.10" stroke="#000" stroke-width="0.7"/>
<line x1="255.64" y1="116.70" x2="255.64" y2="115.50" stroke="#000" stroke-width="0.7"/>
<line x1="255.64" y1="2.90" x2="255.64" y2="4.10" stroke="#000" stroke-width="0.7"/>
<line x1="258.35" y1="116.70" x2="258.35" y2="115.50" stroke="#000" stroke-width="0.7"/>
<line x1="258.35" y1="2.90" x2="258.35" y2="4.10" stroke="#000" stroke-width="0.7"/>
<line x1="261.06" y1="116.70" x2="261.06" y2="115.50" stroke="#000" stroke-width="0.7"/>
<line x1="261.06" y1="2.90" x2="261.06" y2="4.10" stroke="#000" stroke-width="0.7"/>
<line x1="263.78" y1="116.70" x2="263.78" y2="115.50" stroke="#000" stroke-width="0.7"/>
<line x1="263.78" y1="2.90" x2="263.78" y2="4.10" stroke="#000" stroke-width="0.7"/>
<line x1="266.49" y1="116.70" x2="266.49" y2="115.50" stroke="#000" stroke-width="0.7"/>
<line x1="266.49" y1="2.90" x2="266.49" y2="4.10" stroke="#000" stroke-width="0.7"/>
<line x1="269.20" y1="116.70" x2="269.20" y2="115.50" stroke="#000" stroke-width="0.7"/>
<line x1="269.20" y1="2.90" x2="269.20" y2="4.10" stroke="#000" stroke-width="0.7"/>
<line x1="160.70" y1="102.98" x2="162.90" y2="102.98" stroke="#000" stroke-width="0.8"/>
<line x1="269.20" y1="102.98" x2="267.00" y2="102.98" stroke="#000" stroke-width="0.8"/>
<line x1="160.70" y1="88.44" x2="162.90" y2="88.44" stroke="#000" stroke-width="0.8"/>
<line x1="269.20" y1="88.44" x2="267.00" y2="88.44" stroke="#000" stroke-width="0.8"/>
<line x1="160.70" y1="73.90" x2="162.90" y2="73.90" stroke="#000" stroke-width="0.8"/>
<line x1="269.20" y1="73.90" x2="267.00" y2="73.90" stroke="#000" stroke-width="0.8"/>
<line x1="160.70" y1="59.36" x2="162.90" y2="59.36" stroke="#000" stroke-width="0.8"/>
<line x1="269.20" y1="59.36" x2="267.00" y2="59.36" stroke="#000" stroke-width="0.8"/>
<line x1="160.70" y1="44.82" x2="162.90" y2="44.82" stroke="#000" stroke-width="0.8"/>
<line x1="269.20" y1="44.82" x2="267.00" y2="44.82" stroke="#000" stroke-width="0.8"/>
<line x1="160.70" y1="30.28" x2="162.90" y2="30.28" stroke="#000" stroke-width="0.8"/>
<line x1="269.20" y1="30.28" x2="267.00" y2="30.28" stroke="#000" stroke-width="0.8"/>
<line x1="160.70" y1="15.74" x2="162.90" y2="15.74" stroke="#000" stroke-width="0.8"/>
<line x1="269.20" y1="15.74" x2="267.00" y2="15.74" stroke="#000" stroke-width="0.8"/>
<line x1="160.70" y1="110.25" x2="161.90" y2="110.25" stroke="#000" stroke-width="0.7"/>
<line x1="269.20" y1="110.25" x2="268.00" y2="110.25" stroke="#000" stroke-width="0.7"/>
<line x1="160.70" y1="102.98" x2="161.90" y2="102.98" stroke="#000" stroke-width="0.7"/>
<line x1="269.20" y1="102.98" x2="268.00" y2="102.98" stroke="#000" stroke-width="0.7"/>
<line x1="160.70" y1="95.71" x2="161.90" y2="95.71" stroke="#000" stroke-width="0.7"/>
<line x1="269.20" y1="95.71" x2="268.00" y2="95.71" stroke="#000" stroke-width="0.7"/>
<line x1="160.70" y1="88.44" x2="161.90" y2="88.44" stroke="#000" stroke-width="0.7"/>
<line x1="269.20" y1="88.44" x2="268.00" y2="88.44" stroke="#000" stroke-width="0.7"/>
<line x1="160.70" y1="81.17" x2="161.90" y2="81.17" stroke="#000" stroke-width="0.7"/>
<line x1="269.20" y1="81.17" x2="268.00" y2="81.17" stroke="#000" stroke-width="0.7"/>
<line x1="160.70" y1="73.90" x2="161.90" y2="73.90" stroke="#000" stroke-width="0.7"/>
<line x1="269.20" y1="73.90" x2="268.00" y2="73.90" stroke="#000" stroke-width="0.7"/>
<line x1="160.70" y1="66.63" x2="161.90" y2="66.63" stroke="#000" stroke-width="0.7"/>
<line x1="269.20" y1="66.63" x2="268.00" y2="66.63" stroke="#000" stroke-width="0.7"/>
<line x1="160.70" y1="59.36" x2="161.90" y2="59.36" stroke="#000" stroke-width="0.7"/>
<line x1="269.20" y1="59.36" x2="268.00" y2="59.36" stroke="#000" stroke-width="0.7"/>
<line x1="160.70" y1="52.09" x2="161.90" y2="52.09" stroke="#000" stroke-width="0.7"/>
<line x1="269.20" y1="52.09" x2="268.00" y2="52.09" stroke="#000" stroke-width="0.7"/>
<line x1="160.70" y1="44.82" x2="161.90" y2="44.82" stroke="#000" stroke-width="0.7"/>
<line x1="269.20" y1="44.82" x2="268.00" y2="44.82" stroke="#000" stroke-width="0.7"/>
<line x1="160.70" y1="37.55" x2="161.90" y2="37.55" stroke="#000" stroke-width="0.7"/>
<line x1="269.20" y1="37.55" x2="268.00" y2="37.55" stroke="#000" stroke-width="0.7"/>
<line x1="160.70" y1="30.28" x2="161.90" y2="30.28" stroke="#000" stroke-width="0.7"/>
<line x1="269.20" y1="30.28" x2="268.00" y2="30.28" stroke="#000" stroke-width="0.7"/>
<line x1="160.70" y1="23.01" x2="161.90" y2="23.01" stroke="#000" stroke-width="0.7"/>
<line x1="269.20" y1="23.01" x2="268.00" y2="23.01" stroke="#000" stroke-width="0.7"/>
<line x1="160.70" y1="15.74" x2="161.90" y2="15.74" stroke="#000" stroke-width="0.7"/>
<line x1="269.20" y1="15.74" x2="268.00" y2="15.74" stroke="#000" stroke-width="0.7"/>
<line x1="160.70" y1="8.47" x2="161.90" y2="8.47" stroke="#000" stroke-width="0.7"/>
<line x1="269.20" y1="8.47" x2="268.00" y2="8.47" stroke="#000" stroke-width="0.7"/>
<text x="160.70" y="123.10" style="font-family:'Liberation Sans',sans-serif;font-weight:bold;font-size:5.4px" text-anchor="middle" fill="#000" >-2.0</text>
<text x="174.26" y="123.10" style="font-family:'Liberation Sans',sans-serif;font-weight:bold;font-size:5.4px" text-anchor="middle" fill="#000" >-1.5</text>
<text x="187.82" y="123.10" style="font-family:'Liberation Sans',sans-serif;font-weight:bold;font-size:5.4px" text-anchor="middle" fill="#000" >-1.0</text>
<text x="201.39" y="123.10" style="font-family:'Liberation Sans',sans-serif;font-weight:bold;font-size:5.4px" text-anchor="middle" fill="#000" >-0.5</text>
<text x="214.95" y="123.10" style="font-family:'Liberation Sans',sans-serif;font-weight:bold;font-size:5.4px" text-anchor="middle" fill="#000" >0.0</text>
<text x="228.51" y="123.10" style="font-family:'Liberation Sans',sans-serif;font-weight:bold;font-size:5.4px" text-anchor="middle" fill="#000" >0.5</text>
<text x="242.07" y="123.10" style="font-family:'Liberation Sans',sans-serif;font-weight:bold;font-size:5.4px" text-anchor="middle" fill="#000" >1.0</text>
<text x="255.64" y="123.10" style="font-family:'Liberation Sans',sans-serif;font-weight:bold;font-size:5.4px" text-anchor="middle" fill="#000" >1.5</text>
<text x="269.20" y="123.10" style="font-family:'Liberation Sans',sans-serif;font-weight:bold;font-size:5.4px" text-anchor="middle" fill="#000" >2.0</text>
<text x="158.40" y="104.98" style="font-family:'Liberation Sans',sans-serif;font-weight:bold;font-size:5.0px" text-anchor="end" fill="#000" >-4</text>
<text x="158.40" y="90.44" style="font-family:'Liberation Sans',sans-serif;font-weight:bold;font-size:5.0px" text-anchor="end" fill="#000" >-2</text>
<text x="158.40" y="75.90" style="font-family:'Liberation Sans',sans-serif;font-weight:bold;font-size:5.0px" text-anchor="end" fill="#000" >0</text>
<text x="158.40" y="61.36" style="font-family:'Liberation Sans',sans-serif;font-weight:bold;font-size:5.0px" text-anchor="end" fill="#000" >2</text>
<text x="158.40" y="46.82" style="font-family:'Liberation Sans',sans-serif;font-weight:bold;font-size:5.0px" text-anchor="end" fill="#000" >4</text>
<text x="158.40" y="32.28" style="font-family:'Liberation Sans',sans-serif;font-weight:bold;font-size:5.0px" text-anchor="end" fill="#000" >6</text>
<text x="158.40" y="17.74" style="font-family:'Liberation Sans',sans-serif;font-weight:bold;font-size:5.0px" text-anchor="end" fill="#000" >8</text>
<text x="264.80" y="112.70" style="font-family:'Liberation Serif',serif;font-weight:bold;font-size:5.7px" text-anchor="end" fill="#000" >800 nm</text>
<text x="214.8" y="129.1" style="font-family:'Liberation Sans',sans-serif;font-weight:bold;font-size:6.4px" text-anchor="middle">V<tspan style="font-size:3.9px" dy="1.3">ds</tspan><tspan dy="-1.3"> (V)</tspan></text>
<text transform="translate(152.9,62.2) rotate(-90)" style="font-family:'Liberation Sans',sans-serif;font-weight:bold;font-size:6.6px" text-anchor="middle">I<tspan style="font-size:4.4px" dy="1.4">ds</tspan><tspan dy="-1.4"> (nA)</tspan></text>
<text x="142.20" y="10.10" style="font-family:'Liberation Serif',serif;font-weight:bold;font-size:13px" text-anchor="start" fill="#000" >(b)</text>
<text x="275.70" y="10.00" style="font-family:'Liberation Serif',serif;font-weight:bold;font-size:13px" text-anchor="start" fill="#000" >(c)</text>
<line x1="280" y1="79.1" x2="410.5" y2="79.1" stroke="#b43c4b" stroke-width="1.25" stroke-dasharray="2.7,2.3"/>
<path d="M280,65.2 L312,65.2 C323,65.2 330,61.5 335.5,55.5 C339.5,50.5 342.3,45 343.6,39.6" fill="none" stroke="#78cdd9" stroke-width="1.35"/>
<path d="M280,111.1 L322,111.1 C332,111.1 338,106 341,97 C342.5,92.5 343.2,89 343.5,85.5" fill="none" stroke="#78cdd9" stroke-width="1.35"/>
<path d="M344.1,75.4 C346.5,73.6 349.5,72.8 356,72.8 L410.5,72.8" fill="none" stroke="#be96eb" stroke-width="1.35"/>
<path d="M344.1,105.5 C346.5,102.8 349.5,101.9 356,101.9 L410.5,101.9" fill="none" stroke="#be96eb" stroke-width="1.35"/>
<rect x="343.2" y="40.30" width="1.6" height="0.8" fill="#3a3a3a"/>
<rect x="343.2" y="42.05" width="1.6" height="0.8" fill="#3a3a3a"/>
<rect x="343.2" y="43.80" width="1.6" height="0.8" fill="#3a3a3a"/>
<rect x="343.2" y="45.55" width="1.6" height="0.8" fill="#3a3a3a"/>
<rect x="343.2" y="47.30" width="1.6" height="0.8" fill="#3a3a3a"/>
<rect x="343.2" y="49.05" width="1.6" height="0.8" fill="#3a3a3a"/>
<rect x="343.2" y="50.80" width="1.6" height="0.8" fill="#3a3a3a"/>
<rect x="343.2" y="52.55" width="1.6" height="0.8" fill="#3a3a3a"/>
<rect x="343.2" y="54.30" width="1.6" height="0.8" fill="#3a3a3a"/>
<rect x="343.2" y="56.05" width="1.6" height="0.8" fill="#3a3a3a"/>
<rect x="343.2" y="57.80" width="1.6" height="0.8" fill="#3a3a3a"/>
<rect x="343.2" y="59.55" width="1.6" height="0.8" fill="#3a3a3a"/>
<rect x="343.2" y="61.30" width="1.6" height="0.8" fill="#3a3a3a"/>
<rect x="343.2" y="63.05" width="1.6" height="0.8" fill="#3a3a3a"/>
<rect x="343.2" y="64.80" width="1.6" height="0.8" fill="#3a3a3a"/>
<rect x="343.2" y="66.55" width="1.6" height="0.8" fill="#3a3a3a"/>
<rect x="343.2" y="68.30" width="1.6" height="0.8" fill="#3a3a3a"/>
<rect x="343.2" y="70.05" width="1.6" height="0.8" fill="#3a3a3a"/>
<rect x="343.2" y="71.80" width="1.6" height="0.8" fill="#3a3a3a"/>
<rect x="343.2" y="73.55" width="1.6" height="0.8" fill="#3a3a3a"/>
<rect x="343.2" y="75.30" width="1.6" height="0.8" fill="#3a3a3a"/>
<rect x="343.2" y="77.05" width="1.6" height="0.8" fill="#3a3a3a"/>
<rect x="343.2" y="78.80" width="1.6" height="0.8" fill="#3a3a3a"/>
<rect x="343.2" y="80.55" width="1.6" height="0.8" fill="#3a3a3a"/>
<rect x="343.2" y="82.30" width="1.6" height="0.8" fill="#3a3a3a"/>
<rect x="343.2" y="84.05" width="1.6" height="0.8" fill="#3a3a3a"/>
<rect x="343.2" y="85.80" width="1.6" height="0.8" fill="#3a3a3a"/>
<rect x="343.2" y="87.55" width="1.6" height="0.8" fill="#3a3a3a"/>
<rect x="343.2" y="89.30" width="1.6" height="0.8" fill="#3a3a3a"/>
<rect x="343.2" y="91.05" width="1.6" height="0.8" fill="#3a3a3a"/>
<rect x="343.2" y="92.80" width="1.6" height="0.8" fill="#3a3a3a"/>
<rect x="343.2" y="94.55" width="1.6" height="0.8" fill="#3a3a3a"/>
<rect x="343.2" y="96.30" width="1.6" height="0.8" fill="#3a3a3a"/>
<rect x="343.2" y="98.05" width="1.6" height="0.8" fill="#3a3a3a"/>
<rect x="343.2" y="99.80" width="1.6" height="0.8" fill="#3a3a3a"/>
<rect x="343.2" y="101.55" width="1.6" height="0.8" fill="#3a3a3a"/>
<rect x="343.2" y="103.30" width="1.6" height="0.8" fill="#3a3a3a"/>
<rect x="343.2" y="105.05" width="1.6" height="0.8" fill="#3a3a3a"/>
<line x1="308.40" y1="105.60" x2="308.40" y2="73.70" stroke="#2a2a2a" stroke-width="0.95"/>
<polygon points="308.40,69.40 310.20,74.00 306.60,74.00" fill="#2a2a2a"/>
<line x1="372.40" y1="98.60" x2="372.40" y2="79.90" stroke="#2a2a2a" stroke-width="0.95"/>
<polygon points="372.40,75.60 374.20,80.20 370.60,80.20" fill="#2a2a2a"/>
<circle cx="304.9" cy="59.8" r="2.75" fill="#6473e1"/>
<line x1="303.90" y1="59.80" x2="305.90" y2="59.80" stroke="#e8ecff" stroke-width="0.6"/>
<circle cx="317.5" cy="59.3" r="2.75" fill="#6473e1"/>
<line x1="316.50" y1="59.30" x2="318.50" y2="59.30" stroke="#e8ecff" stroke-width="0.6"/>
<circle cx="329.6" cy="56.7" r="2.75" fill="#6473e1"/>
<line x1="328.60" y1="56.70" x2="330.60" y2="56.70" stroke="#e8ecff" stroke-width="0.6"/>
<circle cx="354.3" cy="67.2" r="2.75" fill="#6473e1"/>
<line x1="353.30" y1="67.20" x2="355.30" y2="67.20" stroke="#e8ecff" stroke-width="0.6"/>
<circle cx="364.5" cy="67.2" r="2.75" fill="#6473e1"/>
<line x1="363.50" y1="67.20" x2="365.50" y2="67.20" stroke="#e8ecff" stroke-width="0.6"/>
<circle cx="374.5" cy="67.2" r="2.75" fill="#6473e1"/>
<line x1="373.50" y1="67.20" x2="375.50" y2="67.20" stroke="#e8ecff" stroke-width="0.6"/>
<circle cx="383.7" cy="67.2" r="2.75" fill="#6473e1"/>
<line x1="382.70" y1="67.20" x2="384.70" y2="67.20" stroke="#e8ecff" stroke-width="0.6"/>
<circle cx="299.9" cy="116.2" r="2.85" fill="#dc8c6e"/>
<line x1="298.80" y1="116.20" x2="301.00" y2="116.20" stroke="#fff2ea" stroke-width="0.6"/>
<line x1="299.90" y1="115.10" x2="299.90" y2="117.30" stroke="#fff2ea" stroke-width="0.6"/>
<circle cx="309.4" cy="116.2" r="2.85" fill="#dc8c6e"/>
<line x1="308.30" y1="116.20" x2="310.50" y2="116.20" stroke="#fff2ea" stroke-width="0.6"/>
<line x1="309.40" y1="115.10" x2="309.40" y2="117.30" stroke="#fff2ea" stroke-width="0.6"/>
<circle cx="318.1" cy="116.2" r="2.85" fill="#dc8c6e"/>
<line x1="317.00" y1="116.20" x2="319.20" y2="116.20" stroke="#fff2ea" stroke-width="0.6"/>
<line x1="318.10" y1="115.10" x2="318.10" y2="117.30" stroke="#fff2ea" stroke-width="0.6"/>
<circle cx="327.1" cy="116.2" r="2.85" fill="#dc8c6e"/>
<line x1="326.00" y1="116.20" x2="328.20" y2="116.20" stroke="#fff2ea" stroke-width="0.6"/>
<line x1="327.10" y1="115.10" x2="327.10" y2="117.30" stroke="#fff2ea" stroke-width="0.6"/>
<circle cx="355.7" cy="107.6" r="2.85" fill="#dc8c6e"/>
<line x1="354.60" y1="107.60" x2="356.80" y2="107.60" stroke="#fff2ea" stroke-width="0.6"/>
<line x1="355.70" y1="106.50" x2="355.70" y2="108.70" stroke="#fff2ea" stroke-width="0.6"/>
<circle cx="367.1" cy="107.6" r="2.85" fill="#dc8c6e"/>
<line x1="366.00" y1="107.60" x2="368.20" y2="107.60" stroke="#fff2ea" stroke-width="0.6"/>
<line x1="367.10" y1="106.50" x2="367.10" y2="108.70" stroke="#fff2ea" stroke-width="0.6"/>
<circle cx="377.4" cy="107.6" r="2.85" fill="#dc8c6e"/>
<line x1="376.30" y1="107.60" x2="378.50" y2="107.60" stroke="#fff2ea" stroke-width="0.6"/>
<line x1="377.40" y1="106.50" x2="377.40" y2="108.70" stroke="#fff2ea" stroke-width="0.6"/>
<line x1="392.10" y1="67.40" x2="401.70" y2="67.40" stroke="#4650b0" stroke-width="1.2"/>
<polygon points="405.40,67.40 401.40,69.20 401.40,65.60" fill="#4650b0"/>
<line x1="293.50" y1="115.70" x2="284.50" y2="115.70" stroke="#dc8c6e" stroke-width="1.0"/>
<polygon points="280.80,115.70 284.80,113.70 284.80,117.70" fill="#dc8c6e"/>
<path d="M351.2,112.2 C346,115.6 341,116.4 336.5,115.8" fill="none" stroke="#dc8c6e" stroke-width="1.0"/>
<polygon points="333.6,115.6 337.6,113.6 337.2,117.8" fill="#dc8c6e"/>
<path d="M334.9,40.6 C338,36.5 341,35.3 344.2,35.3 C347.5,35.3 350,36.5 351.8,38.6" fill="none" stroke="#3a4ba0" stroke-width="1.5"/>
<polygon points="354.2,41.4 349.6,39.8 352.9,36.6" fill="#3a4ba0"/>
<path d="M344.59,8.58 L344.91,9.11 L345.15,9.62 L345.28,10.09 L345.27,10.51 L345.10,10.90 L344.78,11.23 L344.33,11.53 L343.79,11.81 L343.20,12.07 L342.62,12.33 L342.10,12.60 L341.67,12.91 L341.37,13.25 L341.22,13.64 L341.23,14.08 L341.38,14.55 L341.64,15.06 L341.98,15.59 L342.33,16.13 L342.66,16.66 L342.91,17.17 L343.04,17.64 L343.03,18.07 L342.87,18.45 L342.56,18.79 L342.11,19.09 L341.58,19.37 L340.99,19.63 L340.41,19.89 L339.88,20.16 L339.45,20.46 L339.14,20.81 L338.99,21.19 L338.99,21.63 L339.13,22.10 L339.39,22.61 L339.72,23.14 L340.08,23.68 L340.41,24.21 L340.66,24.71" fill="none" stroke="#e9a672" stroke-width="1.1" stroke-linejoin="round"/>
<polygon points="338.64,27.66 337.87,23.89 341.33,24.91" fill="#e9a672"/>
<path d="M349.49,9.49 L349.81,10.02 L350.05,10.52 L350.17,10.99 L350.15,11.42 L349.98,11.80 L349.66,12.14 L349.21,12.44 L348.67,12.71 L348.08,12.97 L347.50,13.22 L346.97,13.50 L346.54,13.80 L346.24,14.14 L346.09,14.53 L346.10,14.97 L346.24,15.45 L346.50,15.96 L346.83,16.49 L347.18,17.03 L347.51,17.56 L347.75,18.07 L347.88,18.54 L347.87,18.98 L347.71,19.36 L347.39,19.70 L346.95,20.00 L346.41,20.27 L345.82,20.53 L345.24,20.78 L344.71,21.06 L344.27,21.36 L343.97,21.70 L343.81,22.09 L343.81,22.52 L343.95,23.00 L344.20,23.51 L344.53,24.04 L344.88,24.58 L345.21,25.11 L345.46,25.62" fill="none" stroke="#e9a672" stroke-width="1.1" stroke-linejoin="round"/>
<polygon points="343.42,28.55 342.68,24.78 346.12,25.82" fill="#e9a672"/>
<path d="M354.29,10.89 L354.61,11.41 L354.85,11.90 L354.98,12.36 L354.96,12.78 L354.79,13.15 L354.47,13.47 L354.03,13.75 L353.49,14.01 L352.90,14.25 L352.32,14.50 L351.80,14.76 L351.37,15.05 L351.07,15.38 L350.93,15.75 L350.94,16.18 L351.09,16.64 L351.35,17.14 L351.68,17.67 L352.03,18.20 L352.36,18.72 L352.60,19.21 L352.74,19.67 L352.73,20.09 L352.57,20.46 L352.25,20.79 L351.81,21.07 L351.28,21.33 L350.69,21.57 L350.11,21.82 L349.58,22.08 L349.15,22.37 L348.85,22.69 L348.69,23.07 L348.69,23.49 L348.84,23.95 L349.09,24.45 L349.42,24.97 L349.78,25.50 L350.10,26.02 L350.36,26.52" fill="none" stroke="#e9a672" stroke-width="1.1" stroke-linejoin="round"/>
<polygon points="348.31,29.45 347.58,25.67 351.02,26.73" fill="#e9a672"/>
<text x="354.80" y="21.80" style="font-family:'Liberation Sans',sans-serif;font-weight:bold;font-size:7.35px" text-anchor="start" fill="#da8c56" stroke="#da8c56" stroke-width="0.3">Illumination</text>
<text x="301" y="47.1" style="font-family:'Liberation Sans',sans-serif;font-weight:bold;font-size:7.1px" fill="#72c8dc" stroke="#72c8dc" stroke-width="0.25">MoS<tspan style="font-size:5.2px" dy="1.5">2</tspan></text>
<text x="368.6" y="50.5" style="font-family:'Liberation Sans',sans-serif;font-weight:bold;font-size:7.4px" fill="#a371da" stroke="#a371da" stroke-width="0.15">SnSe<tspan style="font-size:5.4px" dy="1.5">2</tspan></text>
<polyline points="26.40,206.00 26.83,210.98 27.26,215.11 27.69,218.53 28.12,221.37 28.55,223.73 28.98,225.68 29.42,227.30 29.85,228.64 30.28,229.75 30.71,230.67 31.14,231.44 31.57,232.07 32.00,232.60 32.00,232.60 32.35,214.43 32.70,201.47 33.04,192.20 33.39,185.52 33.74,180.68 34.09,177.14 34.43,174.51 34.78,172.53 35.13,171.00 35.48,169.80 35.83,168.83 36.17,168.01 36.52,167.31 36.87,166.69 37.22,166.13 37.57,165.60 37.91,165.11 38.26,164.63 38.61,164.17 38.96,163.72 39.30,163.28 39.65,162.84 40.00,162.40 40.00,162.40 40.12,166.27 40.25,169.93 40.38,173.40 40.50,176.69 40.62,179.80 40.75,182.75 40.88,185.54 41.00,188.19 41.38,195.33 41.75,201.40 42.13,206.56 42.51,210.93 42.88,214.64 43.26,217.80 43.64,220.48 44.01,222.75 44.39,224.68 44.76,226.32 45.14,227.71 45.52,228.89 45.89,229.89 46.27,230.74 46.65,231.47 47.02,232.08 47.40,232.60 47.40,232.60 47.75,214.43 48.10,201.47 48.44,192.20 48.79,185.52 49.14,180.68 49.49,177.14 49.83,174.51 50.18,172.53 50.53,171.00 50.88,169.80 51.23,168.83 51.57,168.01 51.92,167.31 52.27,166.69 52.62,166.13 52.97,165.60 53.31,165.11 53.66,164.63 54.01,164.17 54.36,163.72 54.70,163.28 55.05,162.84 55.40,162.40 55.40,162.40 55.52,166.27 55.65,169.93 55.77,173.40 55.90,176.69 56.02,179.80 56.15,182.75 56.27,185.54 56.40,188.19 56.78,195.33 57.15,201.40 57.53,206.56 57.91,210.93 58.28,214.64 58.66,217.80 59.04,220.48 59.41,222.75 59.79,224.68 60.16,226.32 60.54,227.71 60.92,228.89 61.29,229.89 61.67,230.74 62.05,231.47 62.42,232.08 62.80,232.60 62.80,232.60 63.15,214.43 63.50,201.47 63.84,192.20 64.19,185.52 64.54,180.68 64.89,177.14 65.23,174.51 65.58,172.53 65.93,171.00 66.28,169.80 66.63,168.83 66.97,168.01 67.32,167.31 67.67,166.69 68.02,166.13 68.37,165.60 68.71,165.11 69.06,164.63 69.41,164.17 69.76,163.72 70.10,163.28 70.45,162.84 70.80,162.40 70.80,162.40 70.92,166.27 71.05,169.93 71.17,173.40 71.30,176.69 71.42,179.80 71.55,182.75 71.67,185.54 71.80,188.19 72.18,195.33 72.55,201.40 72.93,206.56 73.31,210.93 73.68,214.64 74.06,217.80 74.44,220.48 74.81,222.75 75.19,224.68 75.56,226.32 75.94,227.71 76.32,228.89 76.69,229.89 77.07,230.74 77.45,231.47 77.82,232.08 78.20,232.60 78.20,232.60 78.55,214.43 78.90,201.47 79.24,192.20 79.59,185.52 79.94,180.68 80.29,177.14 80.63,174.51 80.98,172.53 81.33,171.00 81.68,169.80 82.03,168.83 82.37,168.01 82.72,167.31 83.07,166.69 83.42,166.13 83.77,165.60 84.11,165.11 84.46,164.63 84.81,164.17 85.16,163.72 85.50,163.28 85.85,162.84 86.20,162.40 86.20,162.40 86.33,166.27 86.45,169.93 86.58,173.40 86.70,176.69 86.83,179.80 86.95,182.75 87.08,185.54 87.20,188.19 87.58,195.33 87.95,201.40 88.33,206.56 88.71,210.93 89.08,214.64 89.46,217.80 89.84,220.48 90.21,222.75 90.59,224.68 90.96,226.32 91.34,227.71 91.72,228.89 92.09,229.89 92.47,230.74 92.85,231.47 93.22,232.08 93.60,232.60" fill="none" stroke="#2c4f86" stroke-width="1.25" stroke-linejoin="round" />
<polyline points="102.30,207.50 102.79,212.66 103.28,216.82 103.78,220.18 104.27,222.89 104.76,225.08 105.25,226.85 105.75,228.28 106.24,229.43 106.73,230.36 107.22,231.11 107.72,231.72 108.21,232.20 108.70,232.60 108.70,232.60 109.05,214.43 109.40,201.47 109.74,192.20 110.09,185.52 110.44,180.68 110.79,177.14 111.13,174.51 111.48,172.53 111.83,171.00 112.18,169.80 112.53,168.83 112.87,168.01 113.22,167.31 113.57,166.69 113.92,166.13 114.27,165.60 114.61,165.11 114.96,164.63 115.31,164.17 115.66,163.72 116.00,163.28 116.35,162.84 116.70,162.40 116.70,162.40 116.83,166.27 116.95,169.93 117.08,173.40 117.20,176.69 117.33,179.80 117.45,182.75 117.58,185.54 117.70,188.19 118.08,195.33 118.45,201.40 118.83,206.56 119.21,210.93 119.58,214.64 119.96,217.80 120.34,220.48 120.71,222.75 121.09,224.68 121.46,226.32 121.84,227.71 122.22,228.89 122.59,229.89 122.97,230.74 123.35,231.47 123.72,232.08 124.10,232.60 124.10,232.60 124.45,214.43 124.80,201.47 125.14,192.20 125.49,185.52 125.84,180.68 126.19,177.14 126.53,174.51 126.88,172.53 127.23,171.00 127.58,169.80 127.93,168.83 128.27,168.01 128.62,167.31 128.97,166.69 129.32,166.13 129.67,165.60 130.01,165.11 130.36,164.63 130.71,164.17 131.06,163.72 131.40,163.28 131.75,162.84 132.10,162.40 132.10,162.40 132.23,166.27 132.35,169.93 132.48,173.40 132.60,176.69 132.73,179.80 132.85,182.75 132.98,185.54 133.10,188.19 133.48,195.33 133.85,201.40 134.23,206.56 134.61,210.93 134.98,214.64 135.36,217.80 135.74,220.48 136.11,222.75 136.49,224.68 136.86,226.32 137.24,227.71 137.62,228.89 137.99,229.89 138.37,230.74 138.75,231.47 139.12,232.08 139.50,232.60 139.50,232.60 139.85,214.43 140.20,201.47 140.54,192.20 140.89,185.52 141.24,180.68 141.59,177.14 141.93,174.51 142.28,172.53 142.63,171.00 142.98,169.80 143.33,168.83 143.67,168.01 144.02,167.31 144.37,166.69 144.72,166.13 145.07,165.60 145.41,165.11 145.76,164.63 146.11,164.17 146.46,163.72 146.80,163.28 147.15,162.84 147.50,162.40 147.50,162.40 147.62,166.27 147.75,169.93 147.88,173.40 148.00,176.69 148.12,179.80 148.25,182.75 148.38,185.54 148.50,188.19 148.88,195.33 149.25,201.40 149.63,206.56 150.01,210.93 150.38,214.64 150.76,217.80 151.14,220.48 151.51,222.75 151.89,224.68 152.26,226.32 152.64,227.71 153.02,228.89 153.39,229.89 153.77,230.74 154.15,231.47 154.52,232.08 154.90,232.60 154.90,232.60 155.25,214.43 155.60,201.47 155.94,192.20 156.29,185.52 156.64,180.68 156.99,177.14 157.33,174.51 157.68,172.53 158.03,171.00 158.38,169.80 158.73,168.83 159.07,168.01 159.42,167.31 159.77,166.69 160.12,166.13 160.47,165.60 160.81,165.11 161.16,164.63 161.51,164.17 161.86,163.72 162.20,163.28 162.55,162.84 162.90,162.40 162.90,162.40 163.03,166.27 163.15,169.93 163.28,173.40 163.40,176.69 163.53,179.80 163.65,182.75 163.78,185.54 163.90,188.19 164.28,195.33 164.65,201.40 165.03,206.56 165.41,210.93 165.78,214.64 166.16,217.80 166.54,220.48 166.91,222.75 167.29,224.68 167.66,226.32 168.04,227.71 168.42,228.89 168.79,229.89 169.17,230.74 169.55,231.47 169.92,232.08 170.30,232.60 170.60,179.25" fill="none" stroke="#3d80a0" stroke-width="1.25" stroke-linejoin="round" />
<polyline points="179.00,209.40 179.52,214.32 180.03,218.26 180.55,221.41 181.06,223.92 181.58,225.93 182.09,227.54 182.61,228.82 183.12,229.85 183.64,230.67 184.15,231.32 184.67,231.85 185.18,232.27 185.70,232.60 185.70,232.60 186.05,214.43 186.40,201.47 186.74,192.20 187.09,185.52 187.44,180.68 187.79,177.14 188.13,174.51 188.48,172.53 188.83,171.00 189.18,169.80 189.53,168.83 189.87,168.01 190.22,167.31 190.57,166.69 190.92,166.13 191.27,165.60 191.61,165.11 191.96,164.63 192.31,164.17 192.66,163.72 193.00,163.28 193.35,162.84 193.70,162.40 193.70,162.40 193.82,166.27 193.95,169.93 194.07,173.40 194.20,176.69 194.32,179.80 194.45,182.75 194.57,185.54 194.70,188.19 195.08,195.33 195.45,201.40 195.83,206.56 196.21,210.93 196.58,214.64 196.96,217.80 197.34,220.48 197.71,222.75 198.09,224.68 198.46,226.32 198.84,227.71 199.22,228.89 199.59,229.89 199.97,230.74 200.35,231.47 200.72,232.08 201.10,232.60 201.10,232.60 201.45,214.43 201.80,201.47 202.14,192.20 202.49,185.52 202.84,180.68 203.19,177.14 203.53,174.51 203.88,172.53 204.23,171.00 204.58,169.80 204.93,168.83 205.27,168.01 205.62,167.31 205.97,166.69 206.32,166.13 206.67,165.60 207.01,165.11 207.36,164.63 207.71,164.17 208.06,163.72 208.40,163.28 208.75,162.84 209.10,162.40 209.10,162.40 209.22,166.27 209.35,169.93 209.47,173.40 209.60,176.69 209.72,179.80 209.85,182.75 209.97,185.54 210.10,188.19 210.48,195.33 210.85,201.40 211.23,206.56 211.61,210.93 211.98,214.64 212.36,217.80 212.74,220.48 213.11,222.75 213.49,224.68 213.86,226.32 214.24,227.71 214.62,228.89 214.99,229.89 215.37,230.74 215.75,231.47 216.12,232.08 216.50,232.60 216.50,232.60 216.85,214.43 217.20,201.47 217.54,192.20 217.89,185.52 218.24,180.68 218.59,177.14 218.93,174.51 219.28,172.53 219.63,171.00 219.98,169.80 220.33,168.83 220.67,168.01 221.02,167.31 221.37,166.69 221.72,166.13 222.07,165.60 222.41,165.11 222.76,164.63 223.11,164.17 223.46,163.72 223.80,163.28 224.15,162.84 224.50,162.40 224.50,162.40 224.62,166.27 224.75,169.93 224.88,173.40 225.00,176.69 225.12,179.80 225.25,182.75 225.38,185.54 225.50,188.19 225.88,195.33 226.25,201.40 226.63,206.56 227.01,210.93 227.38,214.64 227.76,217.80 228.14,220.48 228.51,222.75 228.89,224.68 229.26,226.32 229.64,227.71 230.02,228.89 230.39,229.89 230.77,230.74 231.15,231.47 231.52,232.08 231.90,232.60 231.90,232.60 232.25,214.43 232.60,201.47 232.94,192.20 233.29,185.52 233.64,180.68 233.99,177.14 234.33,174.51 234.68,172.53 235.03,171.00 235.38,169.80 235.73,168.83 236.07,168.01 236.42,167.31 236.77,166.69 237.12,166.13 237.47,165.60 237.81,165.11 238.16,164.63 238.51,164.17 238.86,163.72 239.20,163.28 239.55,162.84 239.90,162.40 239.90,162.40 240.02,166.27 240.15,169.93 240.27,173.40 240.40,176.69 240.52,179.80 240.65,182.75 240.77,185.54 240.90,188.19 241.28,195.33 241.65,201.40 242.03,206.56 242.41,210.93 242.78,214.64 243.16,217.80 243.54,220.48 243.91,222.75 244.29,224.68 244.66,226.32 245.04,227.71 245.42,228.89 245.79,229.89 246.17,230.74 246.55,231.47 246.92,232.08 247.30,232.60 247.60,171.53" fill="none" stroke="#4dbea6" stroke-width="1.25" stroke-linejoin="round" />
<polyline points="256.50,202.00 256.95,207.94 257.41,212.81 257.86,216.81 258.32,220.09 258.77,222.79 259.22,225.00 259.68,226.82 260.13,228.31 260.58,229.54 261.04,230.54 261.49,231.37 261.95,232.04 262.40,232.60 262.40,232.60 262.75,214.43 263.10,201.47 263.44,192.20 263.79,185.52 264.14,180.68 264.49,177.14 264.83,174.51 265.18,172.53 265.53,171.00 265.88,169.80 266.23,168.83 266.57,168.01 266.92,167.31 267.27,166.69 267.62,166.13 267.97,165.60 268.31,165.11 268.66,164.63 269.01,164.17 269.36,163.72 269.70,163.28 270.05,162.84 270.40,162.40 270.40,162.40 270.52,166.27 270.65,169.93 270.77,173.40 270.90,176.69 271.02,179.80 271.15,182.75 271.27,185.54 271.40,188.19 271.78,195.33 272.15,201.40 272.53,206.56 272.91,210.93 273.28,214.64 273.66,217.80 274.04,220.48 274.41,222.75 274.79,224.68 275.16,226.32 275.54,227.71 275.92,228.89 276.29,229.89 276.67,230.74 277.05,231.47 277.42,232.08 277.80,232.60 277.80,232.60 278.15,214.43 278.50,201.47 278.84,192.20 279.19,185.52 279.54,180.68 279.89,177.14 280.23,174.51 280.58,172.53 280.93,171.00 281.28,169.80 281.63,168.83 281.97,168.01 282.32,167.31 282.67,166.69 283.02,166.13 283.37,165.60 283.71,165.11 284.06,164.63 284.41,164.17 284.76,163.72 285.10,163.28 285.45,162.84 285.80,162.40 285.80,162.40 285.92,166.27 286.05,169.93 286.17,173.40 286.30,176.69 286.42,179.80 286.55,182.75 286.67,185.54 286.80,188.19 287.18,195.33 287.55,201.40 287.93,206.56 288.31,210.93 288.68,214.64 289.06,217.80 289.44,220.48 289.81,222.75 290.19,224.68 290.56,226.32 290.94,227.71 291.32,228.89 291.69,229.89 292.07,230.74 292.45,231.47 292.82,232.08 293.20,232.60 293.20,232.60 293.55,214.43 293.90,201.47 294.24,192.20 294.59,185.52 294.94,180.68 295.29,177.14 295.63,174.51 295.98,172.53 296.33,171.00 296.68,169.80 297.03,168.83 297.37,168.01 297.72,167.31 298.07,166.69 298.42,166.13 298.77,165.60 299.11,165.11 299.46,164.63 299.81,164.17 300.16,163.72 300.50,163.28 300.85,162.84 301.20,162.40 301.20,162.40 301.32,166.27 301.45,169.93 301.57,173.40 301.70,176.69 301.82,179.80 301.95,182.75 302.07,185.54 302.20,188.19 302.58,195.33 302.95,201.40 303.33,206.56 303.71,210.93 304.08,214.64 304.46,217.80 304.84,220.48 305.21,222.75 305.59,224.68 305.96,226.32 306.34,227.71 306.72,228.89 307.09,229.89 307.47,230.74 307.85,231.47 308.22,232.08 308.60,232.60 308.60,232.60 308.95,214.43 309.30,201.47 309.64,192.20 309.99,185.52 310.34,180.68 310.69,177.14 311.03,174.51 311.38,172.53 311.73,171.00 312.08,169.80 312.43,168.83 312.77,168.01 313.12,167.31 313.47,166.69 313.82,166.13 314.17,165.60 314.51,165.11 314.86,164.63 315.21,164.17 315.56,163.72 315.90,163.28 316.25,162.84 316.60,162.40 316.60,162.40 316.72,166.27 316.85,169.93 316.97,173.40 317.10,176.69 317.22,179.80 317.35,182.75 317.47,185.54 317.60,188.19 317.98,195.33 318.35,201.40 318.73,206.56 319.11,210.93 319.48,214.64 319.86,217.80 320.24,220.48 320.61,222.75 320.99,224.68 321.36,226.32 321.74,227.71 322.12,228.89 322.49,229.89 322.87,230.74 323.25,231.47 323.62,232.08 324.00,232.60 324.30,173.63" fill="none" stroke="#afcba8" stroke-width="1.25" stroke-linejoin="round" />
<polyline points="333.60,202.80 334.08,208.85 334.57,213.76 335.05,217.73 335.54,220.94 336.02,223.55 336.51,225.66 336.99,227.37 337.48,228.75 337.96,229.88 338.45,230.78 338.93,231.52 339.42,232.12 339.90,232.60 339.90,232.60 340.25,214.43 340.60,201.47 340.94,192.20 341.29,185.52 341.64,180.68 341.99,177.14 342.33,174.51 342.68,172.53 343.03,171.00 343.38,169.80 343.73,168.83 344.07,168.01 344.42,167.31 344.77,166.69 345.12,166.13 345.47,165.60 345.81,165.11 346.16,164.63 346.51,164.17 346.86,163.72 347.20,163.28 347.55,162.84 347.90,162.40 347.90,162.40 348.02,166.27 348.15,169.93 348.27,173.40 348.40,176.69 348.52,179.80 348.65,182.75 348.77,185.54 348.90,188.19 349.28,195.33 349.65,201.40 350.03,206.56 350.41,210.93 350.78,214.64 351.16,217.80 351.54,220.48 351.91,222.75 352.29,224.68 352.66,226.32 353.04,227.71 353.42,228.89 353.79,229.89 354.17,230.74 354.55,231.47 354.92,232.08 355.30,232.60 355.30,232.60 355.65,214.43 356.00,201.47 356.34,192.20 356.69,185.52 357.04,180.68 357.39,177.14 357.73,174.51 358.08,172.53 358.43,171.00 358.78,169.80 359.13,168.83 359.47,168.01 359.82,167.31 360.17,166.69 360.52,166.13 360.87,165.60 361.21,165.11 361.56,164.63 361.91,164.17 362.26,163.72 362.60,163.28 362.95,162.84 363.30,162.40 363.30,162.40 363.42,166.27 363.55,169.93 363.67,173.40 363.80,176.69 363.92,179.80 364.05,182.75 364.17,185.54 364.30,188.19 364.68,195.33 365.05,201.40 365.43,206.56 365.81,210.93 366.18,214.64 366.56,217.80 366.94,220.48 367.31,222.75 367.69,224.68 368.06,226.32 368.44,227.71 368.82,228.89 369.19,229.89 369.57,230.74 369.95,231.47 370.32,232.08 370.70,232.60 370.70,232.60 371.05,214.43 371.40,201.47 371.74,192.20 372.09,185.52 372.44,180.68 372.79,177.14 373.13,174.51 373.48,172.53 373.83,171.00 374.18,169.80 374.53,168.83 374.87,168.01 375.22,167.31 375.57,166.69 375.92,166.13 376.27,165.60 376.61,165.11 376.96,164.63 377.31,164.17 377.66,163.72 378.00,163.28 378.35,162.84 378.70,162.40 378.70,162.40 378.82,166.27 378.95,169.93 379.07,173.40 379.20,176.69 379.32,179.80 379.45,182.75 379.57,185.54 379.70,188.19 380.08,195.33 380.45,201.40 380.83,206.56 381.21,210.93 381.58,214.64 381.96,217.80 382.34,220.48 382.71,222.75 383.09,224.68 383.46,226.32 383.84,227.71 384.22,228.89 384.59,229.89 384.97,230.74 385.35,231.47 385.72,232.08 386.10,232.60 386.10,232.60 386.45,214.43 386.80,201.47 387.14,192.20 387.49,185.52 387.84,180.68 388.19,177.14 388.53,174.51 388.88,172.53 389.23,171.00 389.58,169.80 389.93,168.83 390.27,168.01 390.62,167.31 390.97,166.69 391.32,166.13 391.67,165.60 392.01,165.11 392.36,164.63 392.71,164.17 393.06,163.72 393.40,163.28 393.75,162.84 394.10,162.40 394.10,162.40 394.22,166.27 394.35,169.93 394.47,173.40 394.60,176.69 394.72,179.80 394.85,182.75 394.97,185.54 395.10,188.19 395.48,195.33 395.85,201.40 396.23,206.56 396.61,210.93 396.98,214.64 397.36,217.80 397.74,220.48 398.11,222.75 398.49,224.68 398.86,226.32 399.24,227.71 399.62,228.89 399.99,229.89 400.37,230.74 400.75,231.47 401.12,232.08 401.50,232.60 401.80,170.12" fill="none" stroke="#cdb497" stroke-width="1.25" stroke-linejoin="round" />
<rect x="25.60" y="140.80" width="385.00" height="114.10" fill="none" stroke="#000" stroke-width="1.4"/>
<line x1="25.80" y1="254.90" x2="25.80" y2="257.70" stroke="#000" stroke-width="1.0"/>
<line x1="43.28" y1="254.90" x2="43.28" y2="256.40" stroke="#000" stroke-width="1.0"/>
<line x1="60.75" y1="254.90" x2="60.75" y2="257.70" stroke="#000" stroke-width="1.0"/>
<line x1="78.23" y1="254.90" x2="78.23" y2="256.40" stroke="#000" stroke-width="1.0"/>
<line x1="95.70" y1="254.90" x2="95.70" y2="257.70" stroke="#000" stroke-width="1.0"/>
<line x1="113.17" y1="254.90" x2="113.17" y2="256.40" stroke="#000" stroke-width="1.0"/>
<line x1="130.65" y1="254.90" x2="130.65" y2="257.70" stroke="#000" stroke-width="1.0"/>
<line x1="148.12" y1="254.90" x2="148.12" y2="256.40" stroke="#000" stroke-width="1.0"/>
<line x1="165.60" y1="254.90" x2="165.60" y2="257.70" stroke="#000" stroke-width="1.0"/>
<line x1="183.08" y1="254.90" x2="183.08" y2="256.40" stroke="#000" stroke-width="1.0"/>
<line x1="200.55" y1="254.90" x2="200.55" y2="257.70" stroke="#000" stroke-width="1.0"/>
<line x1="218.03" y1="254.90" x2="218.03" y2="256.40" stroke="#000" stroke-width="1.0"/>
<line x1="235.50" y1="254.90" x2="235.50" y2="257.70" stroke="#000" stroke-width="1.0"/>
<line x1="252.98" y1="254.90" x2="252.98" y2="256.40" stroke="#000" stroke-width="1.0"/>
<line x1="270.45" y1="254.90" x2="270.45" y2="257.70" stroke="#000" stroke-width="1.0"/>
<line x1="287.93" y1="254.90" x2="287.93" y2="256.40" stroke="#000" stroke-width="1.0"/>
<line x1="305.40" y1="254.90" x2="305.40" y2="257.70" stroke="#000" stroke-width="1.0"/>
<line x1="322.88" y1="254.90" x2="322.88" y2="256.40" stroke="#000" stroke-width="1.0"/>
<line x1="340.35" y1="254.90" x2="340.35" y2="257.70" stroke="#000" stroke-width="1.0"/>
<line x1="357.83" y1="254.90" x2="357.83" y2="256.40" stroke="#000" stroke-width="1.0"/>
<line x1="375.30" y1="254.90" x2="375.30" y2="257.70" stroke="#000" stroke-width="1.0"/>
<line x1="392.78" y1="254.90" x2="392.78" y2="256.40" stroke="#000" stroke-width="1.0"/>
<line x1="410.25" y1="254.90" x2="410.25" y2="257.70" stroke="#000" stroke-width="1.0"/>
<text x="25.80" y="267.9" style="font-family:'Liberation Sans',sans-serif;font-weight:bold;font-size:9.0px" text-anchor="middle" textLength="4.65" lengthAdjust="spacingAndGlyphs">0</text>
<text x="60.75" y="267.9" style="font-family:'Liberation Sans',sans-serif;font-weight:bold;font-size:9.0px" text-anchor="middle" textLength="4.65" lengthAdjust="spacingAndGlyphs">5</text>
<text x="95.70" y="267.9" style="font-family:'Liberation Sans',sans-serif;font-weight:bold;font-size:9.0px" text-anchor="middle" textLength="9.30" lengthAdjust="spacingAndGlyphs">10</text>
<text x="130.65" y="267.9" style="font-family:'Liberation Sans',sans-serif;font-weight:bold;font-size:9.0px" text-anchor="middle" textLength="9.30" lengthAdjust="spacingAndGlyphs">15</text>
<text x="165.60" y="267.9" style="font-family:'Liberation Sans',sans-serif;font-weight:bold;font-size:9.0px" text-anchor="middle" textLength="9.30" lengthAdjust="spacingAndGlyphs">20</text>
<text x="200.55" y="267.9" style="font-family:'Liberation Sans',sans-serif;font-weight:bold;font-size:9.0px" text-anchor="middle" textLength="9.30" lengthAdjust="spacingAndGlyphs">25</text>
<text x="235.50" y="267.9" style="font-family:'Liberation Sans',sans-serif;font-weight:bold;font-size:9.0px" text-anchor="middle" textLength="9.30" lengthAdjust="spacingAndGlyphs">30</text>
<text x="270.45" y="267.9" style="font-family:'Liberation Sans',sans-serif;font-weight:bold;font-size:9.0px" text-anchor="middle" textLength="9.30" lengthAdjust="spacingAndGlyphs">35</text>
<text x="305.40" y="267.9" style="font-family:'Liberation Sans',sans-serif;font-weight:bold;font-size:9.0px" text-anchor="middle" textLength="9.30" lengthAdjust="spacingAndGlyphs">40</text>
<text x="340.35" y="267.9" style="font-family:'Liberation Sans',sans-serif;font-weight:bold;font-size:9.0px" text-anchor="middle" textLength="9.30" lengthAdjust="spacingAndGlyphs">45</text>
<text x="375.30" y="267.9" style="font-family:'Liberation Sans',sans-serif;font-weight:bold;font-size:9.0px" text-anchor="middle" textLength="9.30" lengthAdjust="spacingAndGlyphs">50</text>
<text x="410.25" y="267.9" style="font-family:'Liberation Sans',sans-serif;font-weight:bold;font-size:9.0px" text-anchor="middle" textLength="9.30" lengthAdjust="spacingAndGlyphs">55</text>
<line x1="30.90" y1="157.60" x2="389.00" y2="157.60" stroke="#000" stroke-width="1.4"/>
<polygon points="397.4,157.6 387.4,155.5 388.6,157.6 387.4,159.7" fill="#000"/>
<line x1="30.90" y1="238.00" x2="389.00" y2="238.00" stroke="#000" stroke-width="1.4"/>
<polygon points="397.4,238 387.4,235.9 388.6,238 387.4,240.1" fill="#000"/>
<text x="397.00" y="160.30" style="font-family:'Liberation Serif',serif;font-weight:bold;font-size:7.0px" text-anchor="start" fill="#000" >On</text>
<text x="397.40" y="240.30" style="font-family:'Liberation Serif',serif;font-weight:bold;font-size:7.0px" text-anchor="start" fill="#000" >Off</text>
<text x="65.60" y="155.10" style="font-family:'Liberation Serif',serif;font-weight:bold;font-size:9.7px" text-anchor="middle" fill="#8b4a1e" >450 nm</text>
<text x="138.80" y="155.10" style="font-family:'Liberation Serif',serif;font-weight:bold;font-size:9.7px" text-anchor="middle" fill="#8b4a1e" >500 nm</text>
<text x="218.00" y="155.10" style="font-family:'Liberation Serif',serif;font-weight:bold;font-size:9.7px" text-anchor="middle" fill="#8b4a1e" >550 nm</text>
<text x="296.80" y="155.10" style="font-family:'Liberation Serif',serif;font-weight:bold;font-size:9.7px" text-anchor="middle" fill="#8b4a1e" >600 nm</text>
<text x="373.80" y="155.10" style="font-family:'Liberation Serif',serif;font-weight:bold;font-size:9.7px" text-anchor="middle" fill="#8b4a1e" >650 nm</text>
<text x="27.10" y="249.0" style="font-family:'Liberation Serif',serif;font-weight:bold;font-size:8.2px">&#964;</text>
<text x="31.00" y="250.8" style="font-family:'Liberation Serif',serif;font-weight:bold;font-size:6.4px">rise</text>
<text x="40.40" y="249.0" style="font-family:'Liberation Serif',serif;font-weight:bold;font-size:7.3px">/</text>
<text x="42.60" y="249.0" style="font-family:'Liberation Serif',serif;font-weight:bold;font-size:8.2px">&#964;</text>
<text x="46.90" y="250.8" style="font-family:'Liberation Serif',serif;font-weight:bold;font-size:6.4px">fall</text>
<text x="57.20" y="249.0" style="font-family:'Liberation Serif',serif;font-weight:bold;font-size:7.4px">=150/463 ms</text>
<text x="103.10" y="249.0" style="font-family:'Liberation Serif',serif;font-weight:bold;font-size:8.2px">&#964;</text>
<text x="107.00" y="250.8" style="font-family:'Liberation Serif',serif;font-weight:bold;font-size:6.4px">rise</text>
<text x="116.40" y="249.0" style="font-family:'Liberation Serif',serif;font-weight:bold;font-size:7.3px">/</text>
<text x="118.60" y="249.0" style="font-family:'Liberation Serif',serif;font-weight:bold;font-size:8.2px">&#964;</text>
<text x="122.90" y="250.8" style="font-family:'Liberation Serif',serif;font-weight:bold;font-size:6.4px">fall</text>
<text x="133.20" y="249.0" style="font-family:'Liberation Serif',serif;font-weight:bold;font-size:7.4px">= 160/414 ms</text>
<text x="183.50" y="249.0" style="font-family:'Liberation Serif',serif;font-weight:bold;font-size:8.2px">&#964;</text>
<text x="187.40" y="250.8" style="font-family:'Liberation Serif',serif;font-weight:bold;font-size:6.4px">rise</text>
<text x="196.80" y="249.0" style="font-family:'Liberation Serif',serif;font-weight:bold;font-size:7.3px">/</text>
<text x="199.00" y="249.0" style="font-family:'Liberation Serif',serif;font-weight:bold;font-size:8.2px">&#964;</text>
<text x="203.30" y="250.8" style="font-family:'Liberation Serif',serif;font-weight:bold;font-size:6.4px">fall</text>
<text x="213.60" y="249.0" style="font-family:'Liberation Serif',serif;font-weight:bold;font-size:7.4px">= 156/410 ms</text>
<text x="260.50" y="249.0" style="font-family:'Liberation Serif',serif;font-weight:bold;font-size:8.2px">&#964;</text>
<text x="264.40" y="250.8" style="font-family:'Liberation Serif',serif;font-weight:bold;font-size:6.4px">rise</text>
<text x="273.80" y="249.0" style="font-family:'Liberation Serif',serif;font-weight:bold;font-size:7.3px">/</text>
<text x="276.00" y="249.0" style="font-family:'Liberation Serif',serif;font-weight:bold;font-size:8.2px">&#964;</text>
<text x="280.30" y="250.8" style="font-family:'Liberation Serif',serif;font-weight:bold;font-size:6.4px">fall</text>
<text x="290.60" y="249.0" style="font-family:'Liberation Serif',serif;font-weight:bold;font-size:7.4px">=151/403 ms</text>
<text x="335.10" y="249.0" style="font-family:'Liberation Serif',serif;font-weight:bold;font-size:8.2px">&#964;</text>
<text x="339.00" y="250.8" style="font-family:'Liberation Serif',serif;font-weight:bold;font-size:6.4px">rise</text>
<text x="348.40" y="249.0" style="font-family:'Liberation Serif',serif;font-weight:bold;font-size:7.3px">/</text>
<text x="350.60" y="249.0" style="font-family:'Liberation Serif',serif;font-weight:bold;font-size:8.2px">&#964;</text>
<text x="354.90" y="250.8" style="font-family:'Liberation Serif',serif;font-weight:bold;font-size:6.4px">fall</text>
<text x="365.20" y="249.0" style="font-family:'Liberation Serif',serif;font-weight:bold;font-size:7.4px">= 147/397 ms</text>
<text x="218.3" y="274.8" style="font-family:'Liberation Sans',sans-serif;font-weight:bold;font-size:7.7px" text-anchor="middle">Time (s)</text>
<text transform="translate(22.4,198.3) rotate(-90)" style="font-family:'Liberation Sans',sans-serif;font-weight:bold;font-size:8.0px" text-anchor="middle">Norm. Photoresponse</text>
<text x="0.70" y="147.30" style="font-family:'Liberation Serif',serif;font-weight:bold;font-size:13px" text-anchor="start" fill="#000" >(d)</text>
<polyline points="446.30,6.80 446.40,6.80 446.89,6.80 447.10,7.50 447.10,44.90 447.31,45.60 447.80,45.60 449.17,45.60 449.66,45.60 449.87,44.90 449.87,7.50 450.08,6.80 450.57,6.80 451.94,6.80 452.43,6.80 452.64,7.50 452.64,44.80 452.85,45.50 453.34,45.50 454.71,45.50 455.20,45.50 455.41,44.80 455.41,7.50 455.62,6.80 456.11,6.80 457.48,6.80 457.97,6.80 458.18,7.50 458.18,44.69 458.39,45.39 458.88,45.39 460.25,45.39 460.74,45.39 460.95,44.69 460.95,7.50 461.16,6.80 461.65,6.80 463.02,6.80 463.51,6.80 463.72,7.50 463.72,44.59 463.93,45.29 464.42,45.29 465.79,45.29 466.28,45.29 466.49,44.59 466.49,7.50 466.70,6.80 467.19,6.80 468.56,6.80 469.05,6.80 469.26,7.50 469.26,44.49 469.47,45.19 469.96,45.19 471.33,45.19 471.82,45.19 472.03,44.49 472.03,7.50 472.24,6.80 472.73,6.80 474.10,6.80 474.59,6.80 474.80,7.50 474.80,44.38 475.01,45.08 475.50,45.08 476.87,45.08 477.36,45.08 477.57,44.38 477.57,7.50 477.78,6.80 478.27,6.80 479.64,6.80 480.13,6.80 480.34,7.50 480.34,44.28 480.55,44.98 481.04,44.98 482.41,44.98 482.90,44.98 483.11,44.28 483.11,7.50 483.32,6.80 483.81,6.80 485.18,6.80 485.67,6.80 485.88,7.50 485.88,44.17 486.09,44.87 486.58,44.87 487.95,44.87 488.44,44.87 488.65,44.17 488.65,7.50 488.86,6.80 489.35,6.80 490.72,6.80 491.21,6.80 491.42,7.50 491.42,44.07 491.63,44.77 492.12,44.77 493.49,44.77 493.98,44.77 494.19,44.07 494.19,7.50 494.40,6.80 494.89,6.80 496.26,6.80 496.75,6.80 496.96,7.50 496.96,43.97 497.17,44.67 497.66,44.67 499.03,44.67 499.52,44.67 499.73,43.97 499.73,7.50 499.94,6.80 500.43,6.80 501.80,6.80 502.29,6.80 502.50,7.50 502.50,43.86 502.71,44.56 503.20,44.56 504.57,44.56 505.06,44.56 505.27,43.86 505.27,7.50 505.48,6.80 505.97,6.80 507.34,6.80 507.83,6.80 508.04,7.50 508.04,43.76 508.25,44.46 508.74,44.46 510.11,44.46 510.60,44.46 510.81,43.76 510.81,7.50 511.02,6.80 511.51,6.80 512.88,6.80 513.37,6.80 513.58,7.50 513.58,43.66 513.79,44.36 514.28,44.36 515.65,44.36 516.14,44.36 516.35,43.66 516.35,7.50 516.56,6.80 517.05,6.80 518.42,6.80 518.91,6.80 519.12,7.50 519.12,29.50 519.34,30.20 519.83,30.20 521.20,30.20 521.69,30.20 521.90,29.50 521.90,7.50 522.11,6.80 522.60,6.80 523.97,6.80 524.46,6.80 524.67,7.50 524.67,29.50 524.88,30.20 525.38,30.20 526.75,30.20 527.24,30.20 527.45,29.50 527.45,7.50 527.66,6.80 528.15,6.80 529.52,6.80 530.01,6.80 530.23,7.50 530.23,29.50 530.44,30.20 530.93,30.20 532.30,30.20 532.79,30.20 533.00,29.50 533.00,7.50 533.21,6.80 533.70,6.80 535.07,6.80 535.56,6.80 535.77,7.50 535.77,29.50 535.99,30.20 536.48,30.20 537.85,30.20 538.34,30.20 538.55,29.50 538.55,7.50 538.76,6.80 539.25,6.80 540.62,6.80 541.12,6.80 541.33,7.50 541.33,29.50 541.54,30.20 542.03,30.20 543.40,30.20 543.89,30.20 544.10,29.50 544.10,7.50 544.31,6.80 544.80,6.80 546.17,6.80 546.66,6.80 546.88,7.50 546.88,29.50 547.09,30.20 547.58,30.20 548.95,30.20 549.44,30.20 549.65,29.50 549.65,7.50 549.86,6.80 550.35,6.80 551.72,6.80 552.21,6.80 552.42,7.50 552.42,29.50 552.63,30.20 553.12,30.20 554.50,30.20 554.99,30.20 555.20,29.50 555.20,7.50 555.41,6.80 555.90,6.80 557.27,6.80 557.76,6.80 557.98,7.50 557.98,29.50 558.19,30.20 558.68,30.20 560.05,30.20 560.54,30.20 560.75,29.50 560.75,7.50 560.96,6.80 561.45,6.80 562.82,6.80 563.31,6.80 563.52,7.50 563.52,29.50 563.74,30.20 564.23,30.20 565.60,30.20 566.09,30.20 566.30,29.50 566.30,7.50 566.51,6.80 567.00,6.80 568.38,6.80 568.87,6.80 569.08,7.50 569.08,29.50 569.29,30.20 569.78,30.20 571.15,30.20 571.64,30.20 571.85,29.50 571.85,7.50 572.06,6.80 572.55,6.80 573.92,6.80 574.41,6.80 574.62,7.50 574.62,29.50 574.84,30.20 575.33,30.20 576.70,30.20 577.19,30.20 577.40,29.50 577.40,7.50 577.61,6.80 578.10,6.80 579.47,6.80 579.96,6.80 580.17,7.50 580.17,29.50 580.38,30.20 580.88,30.20 582.25,30.20 582.74,30.20 582.95,29.50 582.95,7.50 583.16,6.80 583.65,6.80 585.02,6.80 585.51,6.80 585.73,7.50 585.73,29.50 585.94,30.20 586.43,30.20 587.80,30.20 588.29,30.20 588.50,29.50 588.50,7.50 588.71,6.80 589.20,6.80 590.57,6.80 591.06,6.80 591.27,7.50 591.27,29.50 591.49,30.20 591.98,30.20 593.35,30.20 593.84,30.20 594.05,29.50 594.05,7.50 594.26,6.80 594.75,6.80 596.12,6.80 596.62,6.80 596.83,7.50 596.83,29.50 597.04,30.20 597.53,30.20 598.90,30.20 599.39,30.20 599.60,29.50 599.60,7.50 599.81,6.80 600.30,6.80 601.67,6.80 602.16,6.80 602.38,7.50 602.38,29.50 602.59,30.20 603.08,30.20 604.45,30.20 604.94,30.20 605.15,29.50 605.15,7.50 605.36,6.80 605.85,6.80 607.22,6.80 607.71,6.80 607.92,7.50 607.92,29.50 608.13,30.20 608.62,30.20 610.00,30.20 610.49,30.20 610.70,29.50 610.70,7.50 610.91,6.80 611.40,6.80 612.77,6.80 613.26,6.80 613.48,7.50 613.48,29.50 613.69,30.20 614.18,30.20 615.55,30.20 616.04,30.20 616.25,29.50 616.25,7.50 616.46,6.80 616.95,6.80 618.32,6.80 618.81,6.80 619.02,7.50 619.02,29.50 619.24,30.20 619.73,30.20 621.10,30.20 621.59,30.20 621.80,29.50 621.80,7.50 622.01,6.80 622.50,6.80 623.50,6.80 623.99,6.80 624.20,7.50 624.20,10.10 624.41,10.80 624.90,10.80 625.90,10.80 626.39,10.80 626.60,10.10 626.60,7.50 626.81,6.80 627.30,6.80 628.30,6.80 628.79,6.80 629.00,7.50 629.00,10.10 629.21,10.80 629.70,10.80 630.70,10.80 631.19,10.80 631.40,10.10 631.40,7.50 631.61,6.80 632.10,6.80 633.10,6.80 633.59,6.80 633.80,7.50 633.80,10.10 634.01,10.80 634.50,10.80 635.50,10.80 635.99,10.80 636.20,10.10 636.20,7.50 636.41,6.80 636.90,6.80 637.90,6.80 638.39,6.80 638.60,7.50 638.60,10.10 638.81,10.80 639.30,10.80 640.30,10.80 640.79,10.80 641.00,10.10 641.00,7.50 641.21,6.80 641.70,6.80 642.70,6.80 643.19,6.80 643.40,7.50 643.40,10.10 643.61,10.80 644.10,10.80 645.10,10.80 645.59,10.80 645.80,10.10 645.80,7.50 646.01,6.80 646.50,6.80 647.50,6.80 647.99,6.80 648.20,7.50 648.20,10.10 648.41,10.80 648.90,10.80 648.90,10.80" fill="none" stroke="#c83ceb" stroke-width="1.35" stroke-linejoin="round" />
<polyline points="446.30,59.40 446.50,59.40 446.99,59.40 447.20,60.10 447.20,96.50 447.41,97.20 447.90,97.20 449.29,97.20 449.78,97.20 449.99,96.50 449.99,60.10 450.20,59.40 450.69,59.40 452.08,59.40 452.57,59.40 452.78,60.10 452.78,96.40 452.99,97.10 453.48,97.10 454.87,97.10 455.36,97.10 455.57,96.40 455.57,60.10 455.78,59.40 456.27,59.40 457.66,59.40 458.15,59.40 458.36,60.10 458.36,96.29 458.57,96.99 459.06,96.99 460.45,96.99 460.94,96.99 461.15,96.29 461.15,60.10 461.36,59.40 461.85,59.40 463.24,59.40 463.73,59.40 463.94,60.10 463.94,96.19 464.15,96.89 464.64,96.89 466.03,96.89 466.52,96.89 466.73,96.19 466.73,60.10 466.94,59.40 467.43,59.40 468.82,59.40 469.31,59.40 469.52,60.10 469.52,96.08 469.73,96.78 470.22,96.78 471.61,96.78 472.10,96.78 472.31,96.08 472.31,60.10 472.52,59.40 473.01,59.40 474.40,59.40 474.89,59.40 475.10,60.10 475.10,95.98 475.31,96.68 475.80,96.68 477.19,96.68 477.68,96.68 477.89,95.98 477.89,60.10 478.10,59.40 478.59,59.40 479.98,59.40 480.47,59.40 480.68,60.10 480.68,95.87 480.89,96.57 481.38,96.57 482.77,96.57 483.26,96.57 483.47,95.87 483.47,60.10 483.68,59.40 484.17,59.40 485.56,59.40 486.05,59.40 486.26,60.10 486.26,95.77 486.47,96.47 486.96,96.47 488.35,96.47 488.84,96.47 489.05,95.77 489.05,60.10 489.26,59.40 489.75,59.40 491.14,59.40 491.63,59.40 491.84,60.10 491.84,95.66 492.05,96.36 492.54,96.36 493.93,96.36 494.42,96.36 494.63,95.66 494.63,60.10 494.84,59.40 495.33,59.40 496.72,59.40 497.21,59.40 497.42,60.10 497.42,95.56 497.63,96.26 498.12,96.26 499.51,96.26 500.00,96.26 500.21,95.56 500.21,60.10 500.42,59.40 500.91,59.40 502.24,59.40 502.73,59.40 502.94,60.10 502.94,83.70 503.14,84.40 503.63,84.40 504.96,84.40 505.45,84.40 505.66,83.70 505.66,60.10 505.87,59.40 506.36,59.40 507.69,59.40 508.18,59.40 508.38,60.10 508.38,83.70 508.59,84.40 509.08,84.40 510.41,84.40 510.90,84.40 511.11,83.70 511.11,60.10 511.32,59.40 511.81,59.40 513.13,59.40 513.62,59.40 513.84,60.10 513.84,83.70 514.05,84.40 514.54,84.40 515.86,84.40 516.35,84.40 516.56,83.70 516.56,60.10 516.77,59.40 517.26,59.40 518.58,59.40 519.07,59.40 519.28,60.10 519.28,83.70 519.50,84.40 519.99,84.40 521.31,84.40 521.80,84.40 522.01,83.70 522.01,60.10 522.22,59.40 522.71,59.40 524.03,59.40 524.52,59.40 524.74,60.10 524.74,83.70 524.95,84.40 525.44,84.40 526.76,84.40 527.25,84.40 527.46,83.70 527.46,60.10 527.67,59.40 528.16,59.40 529.48,59.40 529.97,59.40 530.18,60.10 530.18,83.70 530.39,84.40 530.88,84.40 532.21,84.40 532.70,84.40 532.91,83.70 532.91,60.10 533.12,59.40 533.61,59.40 534.93,59.40 535.42,59.40 535.63,60.10 535.63,83.70 535.85,84.40 536.34,84.40 537.66,84.40 538.15,84.40 538.36,83.70 538.36,60.10 538.57,59.40 539.06,59.40 540.38,59.40 540.88,59.40 541.09,60.10 541.09,83.70 541.30,84.40 541.79,84.40 543.11,84.40 543.60,84.40 543.81,83.70 543.81,60.10 544.02,59.40 544.51,59.40 545.83,59.40 546.32,59.40 546.53,60.10 546.53,83.70 546.75,84.40 547.24,84.40 548.56,84.40 549.05,84.40 549.26,83.70 549.26,60.10 549.47,59.40 549.96,59.40 551.28,59.40 551.77,59.40 551.99,60.10 551.99,83.70 552.20,84.40 552.69,84.40 554.01,84.40 554.50,84.40 554.71,83.70 554.71,60.10 554.92,59.40 555.41,59.40 556.73,59.40 557.22,59.40 557.43,60.10 557.43,83.70 557.64,84.40 558.13,84.40 559.46,84.40 559.95,84.40 560.16,83.70 560.16,60.10 560.37,59.40 560.86,59.40 562.18,59.40 562.67,59.40 562.88,60.10 562.88,83.70 563.10,84.40 563.59,84.40 564.91,84.40 565.40,84.40 565.61,83.70 565.61,60.10 565.82,59.40 566.31,59.40 567.63,59.40 568.12,59.40 568.34,60.10 568.34,83.70 568.55,84.40 569.04,84.40 570.36,84.40 570.85,84.40 571.06,83.70 571.06,60.10 571.27,59.40 571.76,59.40 572.79,59.40 573.28,59.40 573.50,60.10 573.50,64.70 573.71,65.40 574.20,65.40 575.23,65.40 575.72,65.40 575.93,64.70 575.93,60.10 576.14,59.40 576.63,59.40 577.66,59.40 578.15,59.40 578.37,60.10 578.37,64.70 578.58,65.40 579.07,65.40 580.10,65.40 580.59,65.40 580.80,64.70 580.80,60.10 581.01,59.40 581.50,59.40 582.53,59.40 583.02,59.40 583.24,60.10 583.24,64.70 583.45,65.40 583.94,65.40 584.97,65.40 585.46,65.40 585.67,64.70 585.67,60.10 585.88,59.40 586.37,59.40 587.40,59.40 587.89,59.40 588.11,60.10 588.11,64.70 588.32,65.40 588.81,65.40 589.84,65.40 590.33,65.40 590.54,64.70 590.54,60.10 590.75,59.40 591.24,59.40 592.27,59.40 592.76,59.40 592.98,60.10 592.98,64.70 593.19,65.40 593.68,65.40 594.71,65.40 595.20,65.40 595.41,64.70 595.41,60.10 595.62,59.40 596.11,59.40 597.14,59.40 597.63,59.40 597.85,60.10 597.85,64.70 598.06,65.40 598.55,65.40 599.58,65.40 600.07,65.40 600.28,64.70 600.28,60.10 600.49,59.40 600.98,59.40 602.01,59.40 602.50,59.40 602.72,60.10 602.72,64.70 602.93,65.40 603.42,65.40 604.45,65.40 604.94,65.40 605.15,64.70 605.15,60.10 605.36,59.40 605.85,59.40 606.88,59.40 607.38,59.40 607.59,60.10 607.59,64.70 607.80,65.40 608.29,65.40 609.32,65.40 609.81,65.40 610.02,64.70 610.02,60.10 610.23,59.40 610.72,59.40 611.75,59.40 612.25,59.40 612.46,60.10 612.46,64.70 612.67,65.40 613.16,65.40 614.19,65.40 614.68,65.40 614.89,64.70 614.89,60.10 615.10,59.40 615.59,59.40 616.62,59.40 617.12,59.40 617.33,60.10 617.33,64.70 617.54,65.40 618.03,65.40 619.06,65.40 619.55,65.40 619.76,64.70 619.76,60.10 619.97,59.40 620.46,59.40 621.50,59.40 621.99,59.40 622.20,60.10 622.20,64.70 622.41,65.40 622.90,65.40 623.93,65.40 624.42,65.40 624.63,64.70 624.63,60.10 624.84,59.40 625.33,59.40 626.37,59.40 626.86,59.40 627.07,60.10 627.07,64.70 627.28,65.40 627.77,65.40 628.80,65.40 629.29,65.40 629.50,64.70 629.50,60.10 629.71,59.40 630.20,59.40 631.23,59.40 631.72,59.40 631.93,60.10 631.93,64.70 632.14,65.40 632.63,65.40 633.67,65.40 634.16,65.40 634.37,64.70 634.37,60.10 634.58,59.40 635.07,59.40 648.90,58.70" fill="none" stroke="#5aa638" stroke-width="1.35" stroke-linejoin="round" />
<polyline points="446.30,107.00 445.70,107.00 446.19,107.00 446.40,107.70 446.40,145.30 446.61,146.00 447.10,146.00 448.50,146.00 448.99,146.00 449.19,145.30 449.19,107.70 449.40,107.00 449.89,107.00 451.29,107.00 451.78,107.00 451.99,107.70 451.99,145.30 452.20,146.00 452.69,146.00 454.08,146.00 454.57,146.00 454.78,145.30 454.78,107.70 454.99,107.00 455.48,107.00 456.88,107.00 457.37,107.00 457.58,107.70 457.58,145.30 457.79,146.00 458.28,146.00 459.68,146.00 460.17,146.00 460.38,145.30 460.38,107.70 460.58,107.00 461.07,107.00 462.47,107.00 462.96,107.00 463.17,107.70 463.17,145.30 463.38,146.00 463.87,146.00 465.26,146.00 465.75,146.00 465.96,145.30 465.96,107.70 466.17,107.00 466.66,107.00 468.06,107.00 468.55,107.00 468.76,107.70 468.76,145.30 468.97,146.00 469.46,146.00 470.86,146.00 471.35,146.00 471.56,145.30 471.56,107.70 471.76,107.00 472.25,107.00 473.65,107.00 474.14,107.00 474.35,107.70 474.35,145.30 474.56,146.00 475.05,146.00 476.44,146.00 476.94,146.00 477.14,145.30 477.14,107.70 477.35,107.00 477.84,107.00 479.24,107.00 479.73,107.00 479.94,107.70 479.94,145.30 480.15,146.00 480.64,146.00 482.04,146.00 482.53,146.00 482.74,145.30 482.74,107.70 482.94,107.00 483.44,107.00 484.83,107.00 485.32,107.00 485.53,107.70 485.53,145.30 485.74,146.00 486.23,146.00 487.62,146.00 488.12,146.00 488.32,145.30 488.32,107.70 488.53,107.00 489.02,107.00 490.42,107.00 490.91,107.00 491.12,107.70 491.12,145.30 491.33,146.00 491.82,146.00 493.22,146.00 493.71,146.00 493.92,145.30 493.92,107.70 494.12,107.00 494.62,107.00 496.01,107.00 496.50,107.00 496.71,107.70 496.71,145.30 496.92,146.00 497.41,146.00 498.81,146.00 499.30,146.00 499.50,145.30 499.50,107.70 499.71,107.00 500.20,107.00 501.60,107.00 502.09,107.00 502.30,107.70 502.30,145.30 502.51,146.00 503.00,146.00 504.39,146.00 504.88,146.00 505.09,145.30 505.09,107.70 505.30,107.00 505.79,107.00 507.19,107.00 507.68,107.00 507.89,107.70 507.89,145.30 508.10,146.00 508.59,146.00 509.99,146.00 510.48,146.00 510.69,145.30 510.69,107.70 510.89,107.00 511.38,107.00 512.78,107.00 513.27,107.00 513.48,107.70 513.48,145.30 513.69,146.00 514.18,146.00 515.57,146.00 516.06,146.00 516.27,145.30 516.27,107.70 516.49,107.00 516.98,107.00 518.35,107.00 518.84,107.00 519.05,107.70 519.05,130.20 519.26,130.90 519.75,130.90 521.12,130.90 521.61,130.90 521.82,130.20 521.82,107.70 522.03,107.00 522.52,107.00 523.90,107.00 524.39,107.00 524.60,107.70 524.60,130.20 524.81,130.90 525.30,130.90 526.67,130.90 527.16,130.90 527.37,130.20 527.37,107.70 527.58,107.00 528.07,107.00 529.45,107.00 529.94,107.00 530.15,107.70 530.15,130.20 530.36,130.90 530.85,130.90 532.22,130.90 532.71,130.90 532.92,130.20 532.92,107.70 533.13,107.00 533.62,107.00 535.00,107.00 535.49,107.00 535.70,107.70 535.70,130.20 535.91,130.90 536.40,130.90 537.77,130.90 538.26,130.90 538.47,130.20 538.47,107.70 538.68,107.00 539.17,107.00 540.55,107.00 541.04,107.00 541.25,107.70 541.25,130.20 541.46,130.90 541.95,130.90 543.32,130.90 543.81,130.90 544.02,130.20 544.02,107.70 544.24,107.00 544.73,107.00 546.10,107.00 546.59,107.00 546.80,107.70 546.80,130.20 547.01,130.90 547.50,130.90 548.87,130.90 549.36,130.90 549.57,130.20 549.57,107.70 549.78,107.00 550.27,107.00 551.65,107.00 552.14,107.00 552.35,107.70 552.35,130.20 552.56,130.90 553.05,130.90 554.42,130.90 554.91,130.90 555.12,130.20 555.12,107.70 555.33,107.00 555.82,107.00 557.20,107.00 557.69,107.00 557.90,107.70 557.90,130.20 558.11,130.90 558.60,130.90 559.97,130.90 560.46,130.90 560.67,130.20 560.67,107.70 560.88,107.00 561.38,107.00 562.75,107.00 563.24,107.00 563.45,107.70 563.45,130.20 563.66,130.90 564.15,130.90 565.52,130.90 566.01,130.90 566.22,130.20 566.22,107.70 566.43,107.00 566.92,107.00 568.30,107.00 568.79,107.00 569.00,107.70 569.00,130.20 569.21,130.90 569.70,130.90 571.07,130.90 571.56,130.90 571.77,130.20 571.77,107.70 571.99,107.00 572.48,107.00 573.85,107.00 574.34,107.00 574.55,107.70 574.55,130.20 574.76,130.90 575.25,130.90 576.62,130.90 577.11,130.90 577.32,130.20 577.32,107.70 577.53,107.00 578.02,107.00 579.40,107.00 579.89,107.00 580.10,107.70 580.10,130.20 580.31,130.90 580.80,130.90 582.17,130.90 582.66,130.90 582.87,130.20 582.87,107.70 583.08,107.00 583.57,107.00 584.95,107.00 585.44,107.00 585.65,107.70 585.65,130.20 585.86,130.90 586.35,130.90 587.72,130.90 588.21,130.90 588.42,130.20 588.42,107.70 588.63,107.00 589.12,107.00 590.50,107.00 590.99,107.00 591.20,107.70 591.20,130.20 591.41,130.90 591.90,130.90 593.27,130.90 593.76,130.90 593.97,130.20 593.97,107.70 594.18,107.00 594.67,107.00 596.05,107.00 596.54,107.00 596.75,107.70 596.75,130.20 596.96,130.90 597.45,130.90 598.82,130.90 599.31,130.90 599.52,130.20 599.52,107.70 599.74,107.00 600.23,107.00 601.21,107.00 601.70,107.00 601.91,107.70 601.91,111.30 602.12,112.00 602.62,112.00 603.60,112.00 604.09,112.00 604.30,111.30 604.30,107.70 604.51,107.00 605.00,107.00 605.99,107.00 606.48,107.00 606.69,107.70 606.69,111.30 606.90,112.00 607.39,112.00 608.38,112.00 608.87,112.00 609.08,111.30 609.08,107.70 609.29,107.00 609.78,107.00 610.77,107.00 611.26,107.00 611.47,107.70 611.47,111.30 611.68,112.00 612.17,112.00 613.16,112.00 613.65,112.00 613.86,111.30 613.86,107.70 614.07,107.00 614.56,107.00 615.55,107.00 616.04,107.00 616.25,107.70 616.25,111.30 616.47,112.00 616.96,112.00 617.94,112.00 618.43,112.00 618.64,111.30 618.64,107.70 618.86,107.00 619.35,107.00 620.33,107.00 620.82,107.00 621.03,107.70 621.03,111.30 621.25,112.00 621.74,112.00 622.72,112.00 623.21,112.00 623.42,111.30 623.42,107.70 623.63,107.00 624.12,107.00 625.11,107.00 625.60,107.00 625.81,107.70 625.81,111.30 626.02,112.00 626.51,112.00 627.50,112.00 627.99,112.00 628.20,111.30 628.20,107.70 628.41,107.00 628.90,107.00 629.89,107.00 630.38,107.00 630.59,107.70 630.59,111.30 630.80,112.00 631.29,112.00 632.28,112.00 632.77,112.00 632.98,111.30 632.98,107.70 633.19,107.00 633.68,107.00 634.67,107.00 635.16,107.00 635.38,107.70 635.38,111.30 635.59,112.00 636.08,112.00 637.06,112.00 637.55,112.00 637.76,111.30 637.76,107.70 637.98,107.00 638.47,107.00 639.45,107.00 639.94,107.00 640.15,107.70 640.15,111.30 640.37,112.00 640.86,112.00 641.84,112.00 642.33,112.00 642.54,111.30 642.54,107.70 642.75,107.00 643.25,107.00 644.23,107.00 644.72,107.00 644.93,107.70 644.93,111.30 645.14,112.00 645.63,112.00 646.62,112.00 647.11,112.00 647.32,111.30 647.32,107.70 647.53,107.00 648.02,107.00 648.90,107.00" fill="none" stroke="#2626ee" stroke-width="1.35" stroke-linejoin="round" />
<polyline points="446.30,156.60 447.30,156.60 447.79,156.60 448.00,157.30 448.00,192.60 448.21,193.30 448.70,193.30 450.11,193.30 450.60,193.30 450.81,192.60 450.81,157.30 451.02,156.60 451.51,156.60 452.92,156.60 453.41,156.60 453.62,157.30 453.62,192.60 453.83,193.30 454.32,193.30 455.73,193.30 456.22,193.30 456.43,192.60 456.43,157.30 456.64,156.60 457.13,156.60 458.54,156.60 459.03,156.60 459.24,157.30 459.24,192.60 459.45,193.30 459.94,193.30 461.35,193.30 461.84,193.30 462.05,192.60 462.05,157.30 462.26,156.60 462.75,156.60 464.16,156.60 464.65,156.60 464.86,157.30 464.86,192.60 465.07,193.30 465.56,193.30 466.97,193.30 467.46,193.30 467.67,192.60 467.67,157.30 467.88,156.60 468.37,156.60 469.78,156.60 470.27,156.60 470.48,157.30 470.48,192.60 470.69,193.30 471.18,193.30 472.59,193.30 473.08,193.30 473.29,192.60 473.29,157.30 473.50,156.60 473.99,156.60 475.40,156.60 475.89,156.60 476.10,157.30 476.10,192.60 476.31,193.30 476.80,193.30 478.21,193.30 478.70,193.30 478.91,192.60 478.91,157.30 479.12,156.60 479.61,156.60 481.02,156.60 481.51,156.60 481.72,157.30 481.72,192.60 481.93,193.30 482.42,193.30 483.83,193.30 484.32,193.30 484.53,192.60 484.53,157.30 484.74,156.60 485.23,156.60 486.64,156.60 487.13,156.60 487.34,157.30 487.34,192.60 487.55,193.30 488.04,193.30 489.45,193.30 489.94,193.30 490.15,192.60 490.15,157.30 490.36,156.60 490.85,156.60 492.26,156.60 492.75,156.60 492.96,157.30 492.96,192.60 493.17,193.30 493.66,193.30 495.07,193.30 495.56,193.30 495.77,192.60 495.77,157.30 495.98,156.60 496.47,156.60 497.88,156.60 498.37,156.60 498.58,157.30 498.58,192.60 498.79,193.30 499.28,193.30 500.69,193.30 501.18,193.30 501.39,192.60 501.39,157.30 501.60,156.60 502.09,156.60 503.50,156.60 503.99,156.60 504.20,157.30 504.20,192.60 504.41,193.30 504.90,193.30 506.31,193.30 506.80,193.30 507.01,192.60 507.01,157.30 507.22,156.60 507.71,156.60 509.12,156.60 509.61,156.60 509.82,157.30 509.82,192.60 510.03,193.30 510.52,193.30 511.93,193.30 512.42,193.30 512.63,192.60 512.63,157.30 512.84,156.60 513.33,156.60 514.74,156.60 515.23,156.60 515.44,157.30 515.44,192.60 515.65,193.30 516.14,193.30 517.55,193.30 518.04,193.30 518.25,192.60 518.25,157.30 518.46,156.60 518.95,156.60 520.35,156.60 520.84,156.60 521.05,157.30 521.05,181.50 521.26,182.20 521.75,182.20 523.15,182.20 523.64,182.20 523.85,181.50 523.85,157.30 524.06,156.60 524.55,156.60 525.95,156.60 526.44,156.60 526.65,157.30 526.65,181.50 526.86,182.20 527.35,182.20 528.75,182.20 529.24,182.20 529.45,181.50 529.45,157.30 529.66,156.60 530.15,156.60 531.55,156.60 532.04,156.60 532.25,157.30 532.25,181.50 532.46,182.20 532.95,182.20 534.35,182.20 534.84,182.20 535.05,181.50 535.05,157.30 535.26,156.60 535.75,156.60 537.15,156.60 537.64,156.60 537.85,157.30 537.85,181.50 538.06,182.20 538.55,182.20 539.95,182.20 540.44,182.20 540.65,181.50 540.65,157.30 540.86,156.60 541.35,156.60 542.75,156.60 543.24,156.60 543.45,157.30 543.45,181.50 543.66,182.20 544.15,182.20 545.55,182.20 546.04,182.20 546.25,181.50 546.25,157.30 546.46,156.60 546.95,156.60 548.35,156.60 548.84,156.60 549.05,157.30 549.05,181.50 549.26,182.20 549.75,182.20 551.15,182.20 551.64,182.20 551.85,181.50 551.85,157.30 552.06,156.60 552.55,156.60 553.95,156.60 554.44,156.60 554.65,157.30 554.65,181.50 554.86,182.20 555.35,182.20 556.75,182.20 557.24,182.20 557.45,181.50 557.45,157.30 557.66,156.60 558.15,156.60 559.55,156.60 560.04,156.60 560.25,157.30 560.25,181.50 560.46,182.20 560.95,182.20 562.35,182.20 562.84,182.20 563.05,181.50 563.05,157.30 563.26,156.60 563.75,156.60 565.15,156.60 565.64,156.60 565.85,157.30 565.85,181.50 566.06,182.20 566.55,182.20 567.95,182.20 568.44,182.20 568.65,181.50 568.65,157.30 568.86,156.60 569.35,156.60 570.75,156.60 571.24,156.60 571.45,157.30 571.45,181.50 571.66,182.20 572.15,182.20 573.55,182.20 574.04,182.20 574.25,181.50 574.25,157.30 574.46,156.60 574.95,156.60 576.35,156.60 576.84,156.60 577.05,157.30 577.05,181.50 577.26,182.20 577.75,182.20 579.15,182.20 579.64,182.20 579.85,181.50 579.85,157.30 580.06,156.60 580.55,156.60 581.95,156.60 582.44,156.60 582.65,157.30 582.65,181.50 582.86,182.20 583.35,182.20 584.75,182.20 585.24,182.20 585.45,181.50 585.45,157.30 585.66,156.60 586.15,156.60 587.55,156.60 588.04,156.60 588.25,157.30 588.25,181.50 588.46,182.20 588.95,182.20 590.35,182.20 590.84,182.20 591.05,181.50 591.05,157.30 591.26,156.60 591.75,156.60 593.15,156.60 593.64,156.60 593.85,157.30 593.85,181.50 594.06,182.20 594.55,182.20 595.95,182.20 596.44,182.20 596.65,181.50 596.65,157.30 596.86,156.60 597.35,156.60 598.75,156.60 599.24,156.60 599.45,157.30 599.45,181.50 599.66,182.20 600.15,182.20 601.55,182.20 602.04,182.20 602.25,181.50 602.25,157.30 602.46,156.60 602.95,156.60 604.35,156.60 604.84,156.60 605.05,157.30 605.05,181.50 605.26,182.20 605.75,182.20 607.15,182.20 607.64,182.20 607.85,181.50 607.85,157.30 608.06,156.60 608.55,156.60 609.95,156.60 610.44,156.60 610.65,157.30 610.65,181.50 610.86,182.20 611.35,182.20 612.75,182.20 613.24,182.20 613.45,181.50 613.45,157.30 613.66,156.60 614.15,156.60 615.55,156.60 616.04,156.60 616.25,157.30 616.25,181.50 616.46,182.20 616.95,182.20 618.35,182.20 618.84,182.20 619.05,181.50 619.05,157.30 619.26,156.60 619.75,156.60 620.75,156.60 621.24,156.60 621.45,157.30 621.45,161.20 621.66,161.90 622.15,161.90 623.15,161.90 623.64,161.90 623.85,161.20 623.85,157.30 624.06,156.60 624.55,156.60 625.55,156.60 626.04,156.60 626.25,157.30 626.25,161.20 626.46,161.90 626.95,161.90 627.95,161.90 628.44,161.90 628.65,161.20 628.65,157.30 628.86,156.60 629.35,156.60 630.35,156.60 630.84,156.60 631.05,157.30 631.05,161.20 631.26,161.90 631.75,161.90 632.75,161.90 633.24,161.90 633.45,161.20 633.45,157.30 633.66,156.60 634.15,156.60 635.15,156.60 635.64,156.60 635.85,157.30 635.85,161.20 636.06,161.90 636.55,161.90 637.55,161.90 638.04,161.90 638.25,161.20 638.25,157.30 638.46,156.60 638.95,156.60 639.95,156.60 640.44,156.60 640.65,157.30 640.65,161.20 640.86,161.90 641.35,161.90 642.35,161.90 642.84,161.90 643.05,161.20 643.05,157.30 643.26,156.60 643.75,156.60 644.75,156.60 645.24,156.60 645.45,157.30 645.45,161.20 645.66,161.90 646.15,161.90 647.15,161.90 647.64,161.90 647.85,161.20 647.85,157.30 648.06,156.60 648.55,156.60 648.90,156.60" fill="none" stroke="#f23434" stroke-width="1.35" stroke-linejoin="round" />
<polyline points="446.40,240.90 447.20,241.30 447.70,240.60 447.70,206.30 448.20,205.60 449.70,205.60 450.19,205.60 450.40,206.30 450.40,240.60 450.61,241.30 451.10,241.30 452.48,241.30 452.97,241.30 453.18,240.60 453.18,206.30 453.39,205.60 453.88,205.60 455.26,205.60 455.75,205.60 455.96,206.30 455.96,240.60 456.17,241.30 456.66,241.30 458.05,241.30 458.54,241.30 458.75,240.60 458.75,206.30 458.96,205.60 459.45,205.60 460.83,205.60 461.32,205.60 461.53,206.30 461.53,240.60 461.74,241.30 462.23,241.30 463.61,241.30 464.10,241.30 464.31,240.60 464.31,206.30 464.52,205.60 465.01,205.60 466.39,205.60 466.88,205.60 467.09,206.30 467.09,240.60 467.30,241.30 467.79,241.30 469.18,241.30 469.67,241.30 469.88,240.60 469.88,206.30 470.09,205.60 470.58,205.60 471.96,205.60 472.45,205.60 472.66,206.30 472.66,240.60 472.87,241.30 473.36,241.30 474.74,241.30 475.23,241.30 475.44,240.60 475.44,206.30 475.65,205.60 476.14,205.60 477.52,205.60 478.01,205.60 478.22,206.30 478.22,240.60 478.43,241.30 478.92,241.30 480.31,241.30 480.80,241.30 481.01,240.60 481.01,206.30 481.22,205.60 481.71,205.60 483.09,205.60 483.58,205.60 483.79,206.30 483.79,240.60 484.00,241.30 484.49,241.30 485.87,241.30 486.36,241.30 486.57,240.60 486.57,206.30 486.78,205.60 487.27,205.60 488.65,205.60 489.14,205.60 489.35,206.30 489.35,240.60 489.56,241.30 490.05,241.30 491.44,241.30 491.93,241.30 492.14,240.60 492.14,206.30 492.35,205.60 492.84,205.60 494.22,205.60 494.71,205.60 494.92,206.30 494.92,240.60 495.13,241.30 495.62,241.30 497.00,241.30 497.49,241.30 497.70,240.60 497.70,206.30 497.91,205.60 498.40,205.60 499.78,205.60 500.27,205.60 500.48,206.30 500.48,240.60 500.69,241.30 501.18,241.30 502.57,241.30 503.06,241.30 503.27,240.60 503.27,206.30 503.48,205.60 503.97,205.60 505.35,205.60 505.84,205.60 506.05,206.30 506.05,240.60 506.26,241.30 506.75,241.30 508.13,241.30 508.62,241.30 508.83,240.60 508.83,206.30 509.04,205.60 509.53,205.60 510.92,205.60 511.41,205.60 511.62,206.30 511.62,240.60 511.82,241.30 512.32,241.30 513.70,241.30 514.19,241.30 514.40,240.60 514.40,206.30 514.61,205.60 515.10,205.60 516.47,205.60 516.96,205.60 517.17,206.30 517.17,228.70 517.38,229.40 517.87,229.40 519.25,229.40 519.74,229.40 519.95,228.70 519.95,206.30 520.16,205.60 520.65,205.60 522.02,205.60 522.51,205.60 522.72,206.30 522.72,228.70 522.93,229.40 523.42,229.40 524.80,229.40 525.29,229.40 525.50,228.70 525.50,206.30 525.71,205.60 526.20,205.60 527.57,205.60 528.06,205.60 528.27,206.30 528.27,228.70 528.48,229.40 528.97,229.40 530.35,229.40 530.84,229.40 531.05,228.70 531.05,206.30 531.26,205.60 531.75,205.60 533.12,205.60 533.61,205.60 533.82,206.30 533.82,228.70 534.03,229.40 534.52,229.40 535.90,229.40 536.39,229.40 536.60,228.70 536.60,206.30 536.81,205.60 537.30,205.60 538.67,205.60 539.16,205.60 539.37,206.30 539.37,228.70 539.58,229.40 540.07,229.40 541.45,229.40 541.94,229.40 542.15,228.70 542.15,206.30 542.36,205.60 542.85,205.60 544.22,205.60 544.71,205.60 544.92,206.30 544.92,228.70 545.13,229.40 545.62,229.40 547.00,229.40 547.49,229.40 547.70,228.70 547.70,206.30 547.91,205.60 548.40,205.60 549.77,205.60 550.26,205.60 550.47,206.30 550.47,228.70 550.68,229.40 551.17,229.40 552.55,229.40 553.04,229.40 553.25,228.70 553.25,206.30 553.46,205.60 553.95,205.60 555.32,205.60 555.81,205.60 556.02,206.30 556.02,228.70 556.23,229.40 556.72,229.40 558.10,229.40 558.59,229.40 558.80,228.70 558.80,206.30 559.01,205.60 559.50,205.60 560.87,205.60 561.36,205.60 561.57,206.30 561.57,228.70 561.78,229.40 562.27,229.40 563.65,229.40 564.14,229.40 564.35,228.70 564.35,206.30 564.56,205.60 565.05,205.60 566.42,205.60 566.91,205.60 567.12,206.30 567.12,228.70 567.33,229.40 567.82,229.40 569.20,229.40 569.69,229.40 569.90,228.70 569.90,206.30 570.11,205.60 570.60,205.60 571.97,205.60 572.46,205.60 572.67,206.30 572.67,228.70 572.88,229.40 573.37,229.40 574.75,229.40 575.24,229.40 575.45,228.70 575.45,206.30 575.66,205.60 576.15,205.60 577.52,205.60 578.01,205.60 578.22,206.30 578.22,228.70 578.43,229.40 578.92,229.40 580.30,229.40 580.79,229.40 581.00,228.70 581.00,206.30 581.21,205.60 581.70,205.60 583.07,205.60 583.56,205.60 583.77,206.30 583.77,228.70 583.98,229.40 584.47,229.40 585.85,229.40 586.34,229.40 586.55,228.70 586.55,206.30 586.76,205.60 587.25,205.60 588.62,205.60 589.11,205.60 589.32,206.30 589.32,228.70 589.53,229.40 590.02,229.40 591.40,229.40 591.89,229.40 592.10,228.70 592.10,206.30 592.31,205.60 592.80,205.60 594.17,205.60 594.66,205.60 594.87,206.30 594.87,228.70 595.08,229.40 595.57,229.40 596.95,229.40 597.44,229.40 597.65,228.70 597.65,206.30 597.86,205.60 598.35,205.60 599.72,205.60 600.21,205.60 600.42,206.30 600.42,228.70 600.63,229.40 601.12,229.40 602.50,229.40 602.99,229.40 603.20,228.70 603.20,206.30 603.41,205.60 603.90,205.60 605.27,205.60 605.76,205.60 605.97,206.30 605.97,228.70 606.18,229.40 606.67,229.40 608.05,229.40 608.54,229.40 608.75,228.70 608.75,206.30 608.96,205.60 609.45,205.60 610.82,205.60 611.31,205.60 611.52,206.30 611.52,228.70 611.73,229.40 612.22,229.40 613.60,229.40 614.09,229.40 614.30,228.70 614.30,206.30 614.51,205.60 615.00,205.60 616.00,205.60 616.49,205.60 616.70,206.30 616.70,209.10 616.91,209.80 617.40,209.80 618.40,209.80 618.89,209.80 619.10,209.10 619.10,206.30 619.31,205.60 619.80,205.60 620.80,205.60 621.29,205.60 621.50,206.30 621.50,209.10 621.71,209.80 622.20,209.80 623.20,209.80 623.69,209.80 623.90,209.10 623.90,206.30 624.11,205.60 624.60,205.60 625.60,205.60 626.09,205.60 626.30,206.30 626.30,209.10 626.51,209.80 627.00,209.80 628.00,209.80 628.49,209.80 628.70,209.10 628.70,206.30 628.91,205.60 629.40,205.60 630.40,205.60 630.89,205.60 631.10,206.30 631.10,209.10 631.31,209.80 631.80,209.80 632.80,209.80 633.29,209.80 633.50,209.10 633.50,206.30 633.71,205.60 634.20,205.60 635.20,205.60 635.69,205.60 635.90,206.30 635.90,209.10 636.11,209.80 636.60,209.80 637.60,209.80 638.09,209.80 638.30,209.10 638.30,206.30 638.51,205.60 639.00,205.60 640.00,205.60 640.49,205.60 640.70,206.30 640.70,209.10 640.91,209.80 641.40,209.80 642.40,209.80 642.89,209.80 643.10,209.10 643.10,206.30 643.31,205.60 643.80,205.60 644.80,205.60 645.29,205.60 645.50,206.30 645.50,209.10 645.71,209.80 646.20,209.80 647.20,209.80 647.69,209.80 647.90,209.10 647.90,206.30 648.11,205.60 648.60,205.60 648.90,205.60" fill="none" stroke="#1e1e1e" stroke-width="1.35" stroke-linejoin="round" />
<rect x="445.80" y="4.50" width="203.30" height="249.50" fill="none" stroke="#000" stroke-width="1.4"/>
<line x1="446.00" y1="254.00" x2="446.00" y2="251.20" stroke="#000" stroke-width="1.0"/>
<line x1="458.70" y1="254.00" x2="458.70" y2="252.50" stroke="#000" stroke-width="1.0"/>
<line x1="471.40" y1="254.00" x2="471.40" y2="251.20" stroke="#000" stroke-width="1.0"/>
<line x1="484.10" y1="254.00" x2="484.10" y2="252.50" stroke="#000" stroke-width="1.0"/>
<line x1="496.80" y1="254.00" x2="496.80" y2="251.20" stroke="#000" stroke-width="1.0"/>
<line x1="509.50" y1="254.00" x2="509.50" y2="252.50" stroke="#000" stroke-width="1.0"/>
<line x1="522.20" y1="254.00" x2="522.20" y2="251.20" stroke="#000" stroke-width="1.0"/>
<line x1="534.90" y1="254.00" x2="534.90" y2="252.50" stroke="#000" stroke-width="1.0"/>
<line x1="547.60" y1="254.00" x2="547.60" y2="251.20" stroke="#000" stroke-width="1.0"/>
<line x1="560.30" y1="254.00" x2="560.30" y2="252.50" stroke="#000" stroke-width="1.0"/>
<line x1="573.00" y1="254.00" x2="573.00" y2="251.20" stroke="#000" stroke-width="1.0"/>
<line x1="585.70" y1="254.00" x2="585.70" y2="252.50" stroke="#000" stroke-width="1.0"/>
<line x1="598.40" y1="254.00" x2="598.40" y2="251.20" stroke="#000" stroke-width="1.0"/>
<line x1="611.10" y1="254.00" x2="611.10" y2="252.50" stroke="#000" stroke-width="1.0"/>
<line x1="623.80" y1="254.00" x2="623.80" y2="251.20" stroke="#000" stroke-width="1.0"/>
<line x1="636.50" y1="254.00" x2="636.50" y2="252.50" stroke="#000" stroke-width="1.0"/>
<line x1="649.20" y1="254.00" x2="649.20" y2="251.20" stroke="#000" stroke-width="1.0"/>
<text x="446.00" y="264.6" style="font-family:'Liberation Sans',sans-serif;font-weight:bold;font-size:8.3px" text-anchor="middle" textLength="4.23" lengthAdjust="spacingAndGlyphs">0</text>
<text x="471.40" y="264.6" style="font-family:'Liberation Sans',sans-serif;font-weight:bold;font-size:8.3px" text-anchor="middle" textLength="8.45" lengthAdjust="spacingAndGlyphs">10</text>
<text x="496.80" y="264.6" style="font-family:'Liberation Sans',sans-serif;font-weight:bold;font-size:8.3px" text-anchor="middle" textLength="8.45" lengthAdjust="spacingAndGlyphs">20</text>
<text x="522.20" y="264.6" style="font-family:'Liberation Sans',sans-serif;font-weight:bold;font-size:8.3px" text-anchor="middle" textLength="8.45" lengthAdjust="spacingAndGlyphs">30</text>
<text x="547.60" y="264.6" style="font-family:'Liberation Sans',sans-serif;font-weight:bold;font-size:8.3px" text-anchor="middle" textLength="8.45" lengthAdjust="spacingAndGlyphs">40</text>
<text x="573.00" y="264.6" style="font-family:'Liberation Sans',sans-serif;font-weight:bold;font-size:8.3px" text-anchor="middle" textLength="8.45" lengthAdjust="spacingAndGlyphs">50</text>
<text x="598.40" y="264.6" style="font-family:'Liberation Sans',sans-serif;font-weight:bold;font-size:8.3px" text-anchor="middle" textLength="8.45" lengthAdjust="spacingAndGlyphs">60</text>
<text x="623.80" y="264.6" style="font-family:'Liberation Sans',sans-serif;font-weight:bold;font-size:8.3px" text-anchor="middle" textLength="8.45" lengthAdjust="spacingAndGlyphs">70</text>
<text x="649.20" y="264.6" style="font-family:'Liberation Sans',sans-serif;font-weight:bold;font-size:8.3px" text-anchor="middle" textLength="8.45" lengthAdjust="spacingAndGlyphs">80</text>
<text x="442.3" y="9.20" style="font-family:'Liberation Sans',sans-serif;font-weight:bold;font-size:8.4px" text-anchor="end" textLength="10.56" lengthAdjust="spacingAndGlyphs">0.0</text>
<line x1="445.80" y1="6.20" x2="448.40" y2="6.20" stroke="#000" stroke-width="1.0"/>
<line x1="649.10" y1="6.20" x2="646.50" y2="6.20" stroke="#000" stroke-width="1.0"/>
<text x="442.3" y="34.40" style="font-family:'Liberation Sans',sans-serif;font-weight:bold;font-size:8.4px" text-anchor="end" textLength="13.09" lengthAdjust="spacingAndGlyphs">-2.5</text>
<line x1="445.80" y1="31.40" x2="448.40" y2="31.40" stroke="#000" stroke-width="1.0"/>
<line x1="649.10" y1="31.40" x2="646.50" y2="31.40" stroke="#000" stroke-width="1.0"/>
<text x="442.3" y="61.90" style="font-family:'Liberation Sans',sans-serif;font-weight:bold;font-size:8.4px" text-anchor="end" textLength="10.56" lengthAdjust="spacingAndGlyphs">0.0</text>
<line x1="445.80" y1="58.90" x2="448.40" y2="58.90" stroke="#000" stroke-width="1.0"/>
<line x1="649.10" y1="58.90" x2="646.50" y2="58.90" stroke="#000" stroke-width="1.0"/>
<text x="442.3" y="86.40" style="font-family:'Liberation Sans',sans-serif;font-weight:bold;font-size:8.4px" text-anchor="end" textLength="13.09" lengthAdjust="spacingAndGlyphs">-3.5</text>
<line x1="445.80" y1="83.40" x2="448.40" y2="83.40" stroke="#000" stroke-width="1.0"/>
<line x1="649.10" y1="83.40" x2="646.50" y2="83.40" stroke="#000" stroke-width="1.0"/>
<text x="442.3" y="109.30" style="font-family:'Liberation Sans',sans-serif;font-weight:bold;font-size:8.4px" text-anchor="end" textLength="10.56" lengthAdjust="spacingAndGlyphs">0.0</text>
<line x1="445.80" y1="106.30" x2="448.40" y2="106.30" stroke="#000" stroke-width="1.0"/>
<line x1="649.10" y1="106.30" x2="646.50" y2="106.30" stroke="#000" stroke-width="1.0"/>
<text x="442.3" y="134.40" style="font-family:'Liberation Sans',sans-serif;font-weight:bold;font-size:8.4px" text-anchor="end" textLength="13.09" lengthAdjust="spacingAndGlyphs">-2.5</text>
<line x1="445.80" y1="131.40" x2="448.40" y2="131.40" stroke="#000" stroke-width="1.0"/>
<line x1="649.10" y1="131.40" x2="646.50" y2="131.40" stroke="#000" stroke-width="1.0"/>
<text x="442.3" y="158.70" style="font-family:'Liberation Sans',sans-serif;font-weight:bold;font-size:8.4px" text-anchor="end" textLength="10.56" lengthAdjust="spacingAndGlyphs">0.0</text>
<line x1="445.80" y1="155.70" x2="448.40" y2="155.70" stroke="#000" stroke-width="1.0"/>
<line x1="649.10" y1="155.70" x2="646.50" y2="155.70" stroke="#000" stroke-width="1.0"/>
<text x="442.3" y="183.90" style="font-family:'Liberation Sans',sans-serif;font-weight:bold;font-size:8.4px" text-anchor="end" textLength="13.09" lengthAdjust="spacingAndGlyphs">-1.8</text>
<line x1="445.80" y1="180.90" x2="448.40" y2="180.90" stroke="#000" stroke-width="1.0"/>
<line x1="649.10" y1="180.90" x2="646.50" y2="180.90" stroke="#000" stroke-width="1.0"/>
<text x="442.3" y="207.20" style="font-family:'Liberation Sans',sans-serif;font-weight:bold;font-size:8.4px" text-anchor="end" textLength="10.56" lengthAdjust="spacingAndGlyphs">0.0</text>
<line x1="445.80" y1="204.20" x2="448.40" y2="204.20" stroke="#000" stroke-width="1.0"/>
<line x1="649.10" y1="204.20" x2="646.50" y2="204.20" stroke="#000" stroke-width="1.0"/>
<text x="442.3" y="224.30" style="font-family:'Liberation Sans',sans-serif;font-weight:bold;font-size:8.4px" text-anchor="end" textLength="13.09" lengthAdjust="spacingAndGlyphs">-1.2</text>
<line x1="445.80" y1="221.30" x2="448.40" y2="221.30" stroke="#000" stroke-width="1.0"/>
<line x1="649.10" y1="221.30" x2="646.50" y2="221.30" stroke="#000" stroke-width="1.0"/>
<text x="442.3" y="241.40" style="font-family:'Liberation Sans',sans-serif;font-weight:bold;font-size:8.4px" text-anchor="end" textLength="13.09" lengthAdjust="spacingAndGlyphs">-2.4</text>
<line x1="445.80" y1="238.40" x2="448.40" y2="238.40" stroke="#000" stroke-width="1.0"/>
<line x1="649.10" y1="238.40" x2="646.50" y2="238.40" stroke="#000" stroke-width="1.0"/>
<line x1="445.80" y1="18.80" x2="447.30" y2="18.80" stroke="#000" stroke-width="1.0"/>
<line x1="649.10" y1="18.80" x2="647.60" y2="18.80" stroke="#000" stroke-width="1.0"/>
<line x1="445.80" y1="44.00" x2="447.30" y2="44.00" stroke="#000" stroke-width="1.0"/>
<line x1="649.10" y1="44.00" x2="647.60" y2="44.00" stroke="#000" stroke-width="1.0"/>
<line x1="445.80" y1="71.15" x2="447.30" y2="71.15" stroke="#000" stroke-width="1.0"/>
<line x1="649.10" y1="71.15" x2="647.60" y2="71.15" stroke="#000" stroke-width="1.0"/>
<line x1="445.80" y1="95.65" x2="447.30" y2="95.65" stroke="#000" stroke-width="1.0"/>
<line x1="649.10" y1="95.65" x2="647.60" y2="95.65" stroke="#000" stroke-width="1.0"/>
<line x1="445.80" y1="118.85" x2="447.30" y2="118.85" stroke="#000" stroke-width="1.0"/>
<line x1="649.10" y1="118.85" x2="647.60" y2="118.85" stroke="#000" stroke-width="1.0"/>
<line x1="445.80" y1="143.95" x2="447.30" y2="143.95" stroke="#000" stroke-width="1.0"/>
<line x1="649.10" y1="143.95" x2="647.60" y2="143.95" stroke="#000" stroke-width="1.0"/>
<line x1="445.80" y1="168.30" x2="447.30" y2="168.30" stroke="#000" stroke-width="1.0"/>
<line x1="649.10" y1="168.30" x2="647.60" y2="168.30" stroke="#000" stroke-width="1.0"/>
<line x1="445.80" y1="193.50" x2="447.30" y2="193.50" stroke="#000" stroke-width="1.0"/>
<line x1="649.10" y1="193.50" x2="647.60" y2="193.50" stroke="#000" stroke-width="1.0"/>
<line x1="445.80" y1="212.75" x2="447.30" y2="212.75" stroke="#000" stroke-width="1.0"/>
<line x1="649.10" y1="212.75" x2="647.60" y2="212.75" stroke="#000" stroke-width="1.0"/>
<line x1="445.80" y1="229.85" x2="447.30" y2="229.85" stroke="#000" stroke-width="1.0"/>
<line x1="649.10" y1="229.85" x2="647.60" y2="229.85" stroke="#000" stroke-width="1.0"/>
<line x1="445.80" y1="246.95" x2="447.30" y2="246.95" stroke="#000" stroke-width="1.0"/>
<line x1="649.10" y1="246.95" x2="647.60" y2="246.95" stroke="#000" stroke-width="1.0"/>
<text x="653.00" y="22.70" style="font-family:'Liberation Serif',serif;font-weight:bold;font-size:9.4px" text-anchor="start" fill="#c83ceb" >650 nm</text>
<text x="653.00" y="73.20" style="font-family:'Liberation Serif',serif;font-weight:bold;font-size:9.4px" text-anchor="start" fill="#4c9a2c" >600 nm</text>
<text x="653.00" y="123.70" style="font-family:'Liberation Serif',serif;font-weight:bold;font-size:9.4px" text-anchor="start" fill="#2626ee" >550 nm</text>
<text x="653.00" y="172.70" style="font-family:'Liberation Serif',serif;font-weight:bold;font-size:9.4px" text-anchor="start" fill="#f23434" >500 nm</text>
<text x="653.00" y="223.90" style="font-family:'Liberation Serif',serif;font-weight:bold;font-size:9.4px" text-anchor="start" fill="#111" >450 nm</text>
<text x="477.90" y="53.70" style="font-family:'Liberation Serif',serif;font-weight:bold;font-size:7.3px" text-anchor="middle" fill="#c83ceb" >300 &#956;W</text>
<text x="560.70" y="39.60" style="font-family:'Liberation Serif',serif;font-weight:bold;font-size:7.3px" text-anchor="middle" fill="#c83ceb" >178 &#956;W</text>
<text x="634.00" y="21.60" style="font-family:'Liberation Serif',serif;font-weight:bold;font-size:7.3px" text-anchor="middle" fill="#c83ceb" >34 &#956;W</text>
<text x="476.70" y="105.00" style="font-family:'Liberation Serif',serif;font-weight:bold;font-size:7.3px" text-anchor="middle" fill="#4c9a28" >275 &#956;W</text>
<text x="559.50" y="93.80" style="font-family:'Liberation Serif',serif;font-weight:bold;font-size:7.3px" text-anchor="middle" fill="#4c9a28" >285 &#956;W</text>
<text x="632.50" y="76.00" style="font-family:'Liberation Serif',serif;font-weight:bold;font-size:7.3px" text-anchor="middle" fill="#4c9a28" >37 &#956;W</text>
<text x="476.70" y="154.20" style="font-family:'Liberation Serif',serif;font-weight:bold;font-size:7.3px" text-anchor="middle" fill="#2626ee" >190 &#956;W</text>
<text x="560.00" y="140.60" style="font-family:'Liberation Serif',serif;font-weight:bold;font-size:7.3px" text-anchor="middle" fill="#2626ee" >115 &#956;W</text>
<text x="632.30" y="121.60" style="font-family:'Liberation Serif',serif;font-weight:bold;font-size:7.3px" text-anchor="middle" fill="#2626ee" >22 &#956;W</text>
<text x="475.20" y="203.20" style="font-family:'Liberation Serif',serif;font-weight:bold;font-size:7.3px" text-anchor="middle" fill="#f23434" >74 &#956;W</text>
<text x="557.50" y="192.10" style="font-family:'Liberation Serif',serif;font-weight:bold;font-size:7.3px" text-anchor="middle" fill="#f23434" >52 &#956;W</text>
<text x="632.80" y="174.00" style="font-family:'Liberation Serif',serif;font-weight:bold;font-size:7.3px" text-anchor="middle" fill="#f23434" >10 &#956;W</text>
<text x="474.20" y="249.40" style="font-family:'Liberation Serif',serif;font-weight:bold;font-size:7.3px" text-anchor="middle" fill="#111" >36 &#956;W</text>
<text x="557.20" y="239.70" style="font-family:'Liberation Serif',serif;font-weight:bold;font-size:7.3px" text-anchor="middle" fill="#111" >25 &#956;W</text>
<text x="629.50" y="220.60" style="font-family:'Liberation Serif',serif;font-weight:bold;font-size:7.3px" text-anchor="middle" fill="#111" >3 &#956;W</text>
<text x="612.1" y="247.7" style="font-family:'Liberation Serif',serif;font-weight:bold;font-size:8.8px">V<tspan style="font-size:6px" dy="2.2">ds</tspan><tspan dy="-2.2">= 0 V</tspan></text>
<text x="548" y="279.6" style="font-family:'Liberation Sans',sans-serif;font-weight:bold;font-size:9.4px" text-anchor="middle">Time (s)</text>
<text transform="translate(426.9,129.6) rotate(-90)" style="font-family:'Liberation Sans',sans-serif;font-weight:bold;font-size:10.8px" text-anchor="middle">I<tspan style="font-size:7.4px" dy="2.3">ds</tspan><tspan dy="-2.3"> (nA)</tspan></text>
<text x="415.20" y="11.20" style="font-family:'Liberation Serif',serif;font-weight:bold;font-size:13px" text-anchor="start" fill="#000" >(e)</text>
</svg>
</body></html>
